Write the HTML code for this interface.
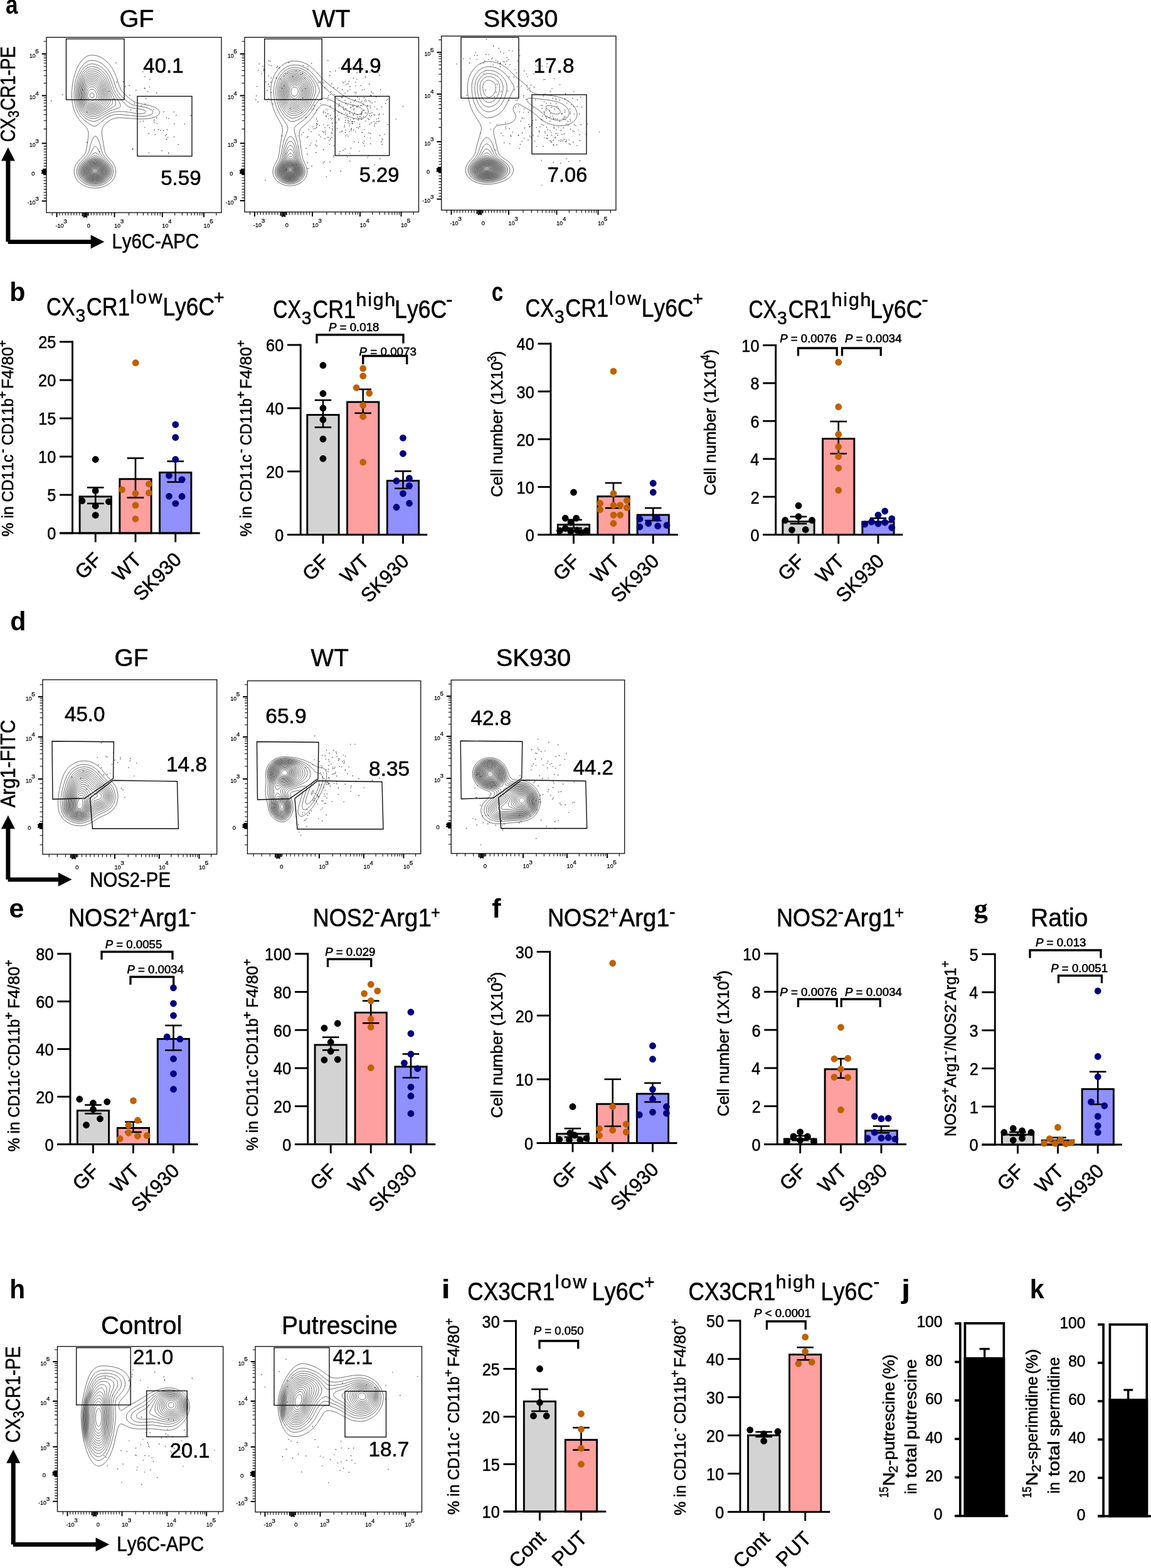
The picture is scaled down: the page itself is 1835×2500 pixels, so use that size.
<!DOCTYPE html>
<html lang="en"><head><meta charset="utf-8"><title>Figure</title>
<style>
html,body{margin:0;padding:0;background:#fff;}
body{width:1835px;height:2500px;overflow:hidden;}
svg{display:block;font-family:"Liberation Sans",sans-serif;font-kerning:none;}
text{white-space:pre;stroke:#000;stroke-width:0.55px;stroke-linejoin:round;}
text.nb{stroke:none;}
text.tl{stroke-width:0.3px;}
</style></head>
<body>
<svg width="1835" height="2500" viewBox="0 0 1835 2500">
<defs><radialGradient id="sh"><stop offset="0" stop-color="#5a5a5a" stop-opacity="1"/><stop offset="0.55" stop-color="#5a5a5a" stop-opacity="0.85"/><stop offset="1" stop-color="#5a5a5a" stop-opacity="0"/></radialGradient></defs>
<rect x="0" y="0" width="1835" height="2500" fill="#fff"/>
<g id="flow-aGF">
<g fill="none" stroke="#686868" stroke-width="0.95" stroke-linejoin="round">
<path d="M157 299.6 150 299.9 143 299.1 136 296.9 130 293.8 125 289.6 121.7 285.5 119.3 280.5 118.1 274.5 118.6 268.5 119.5 265.5 121.5 261.5 125.3 256.5 133.1 248.5 135.2 245.5 136.6 242.5 138.4 234.5 140.6 219.5 141.1 213.5 140.4 208.5 139 205.2 136.2 201.5 128 193.1 124.5 188.5 120.6 181.5 117.8 174.5 115.5 165.5 114.5 156.5 114.5 145.5 115.6 134.5 117.5 124.5 119.7 116.5 122.8 108.5 126.6 101.5 131 95.6 135 91.9 140 89 145 87.8 152 88.3 156 89.3 160 90.9 167 95.3 173 100.9 178.1 107.5 182.6 115.5 185.8 123.5 190.2 137.5 193 143.5 198 149.5 206.9 157.5 212 161.2 217 163.5 222 164.9 238 168.1 247 171.2 250.8 173.5 253 175.5 254.2 177.5 254.5 179.5 253.3 182.5 249.4 185.5 243 187.9 236 189.2 229 189.7 221 189.7 192 187.7 187 187.8 183 188.5 178 190.2 174 192.5 170 195.6 166.2 199.5 164.2 202.5 163 205.4 162.3 211.5 163 218.1 166.7 240.5 168.1 244.5 170 247.9 179.3 258.5 182.4 263.5 184.4 269.5 184.7 275.5 183.5 280.5 181.7 284.5 179 288.3 176 291.3 172 294.3 167 296.9 162 298.6Z M153 200.9 151 201.4 149 201.1 144 198.6 135 192.4 129 186.5 124.9 180.5 121.6 173.5 119.3 165.5 118.1 157.5 118 146.5 119.3 134.5 121.6 124.5 124.9 115.5 129 107.8 134 101.7 139 98 142 96.8 145 96.2 152 96.7 158 98.8 164 102.5 170 108.1 174.7 114.5 177.9 120.5 180.4 126.5 185 140.3 188 146.4 193 152.6 203.6 162.5 208 165.5 213 167.6 231 171 237 172.8 242 175.5 243 176.6 243.8 178.5 243.8 179.5 243 180.9 240 183.1 235 184.7 229 185.4 217 185.2 191 182.3 185 182.4 180 183.3 175 185.1 170 187.9 163.7 192.5 156 198.9Z M154 296.5 148 296.5 142 295.4 137 293.6 132 290.8 127.3 286.5 124.5 282.5 122.7 277.5 122.2 273.5 123.1 267.5 125.5 262.5 128.5 258.5 137.2 249.5 140 245.5 142 240.5 145 228.8 147 222.9 150 217.8 152 216.9 154 218 157 223 159 228.9 161.9 240.5 163.9 245.5 167 250.2 174.5 258.5 177.4 262.5 179.7 267.5 180.6 272.5 180.3 276.5 178.8 281.5 176.3 285.5 173.6 288.5 170 291.3 165 294 159 295.8Z M154 192.7 149 193.5 146 193.1 143 192.2 137 189 132 184.8 127.8 179.5 124.2 172.5 121.6 164.5 120.5 157.5 120.4 147.5 121.4 137.5 123.6 127.5 126.5 119.5 130.3 112.5 135 106.7 140 103.2 145 101.8 151 102.2 157 104.2 163 108 168 112.9 171.4 117.5 174.7 123.5 177.2 129.5 181.7 142.5 184.7 148.5 189 154.4 201 167.4 205 170.3 209 171.8 224 174.1 229 175.3 231.4 176.5 232.4 177.5 232.6 178.5 231.9 179.5 230 180.5 227 181.2 223 181.4 216 180.8 205 178.8 198 177.9 189 177.8 182 178.5 178 179.5 173 181.5 159 190.2Z M159 293.6 154 294.3 148 294.3 142 293.1 137 291.1 132 287.7 128.9 284.5 126.5 280.5 125.1 275.5 125 272.5 125.6 268.5 126.8 265.5 128.5 262.5 131.7 258.5 141.6 248.5 144.4 244.5 149 235.6 151 233.6 152 233.3 153 233.6 155 235.7 159.5 244.5 162.2 248.5 171.4 258.5 174.4 262.5 176.5 266.5 177.8 271.5 177.7 275.5 177.1 278.5 175.3 282.5 173 285.5 170 288.4 167 290.4 163 292.3Z M153 188.6 148 189.2 143 188.3 138 185.9 133 181.9 129 176.9 126.1 171.5 123.7 164.5 122.4 157.5 122.2 148.5 123.2 138.5 125.3 129.5 127.9 122.5 131.7 115.5 136 110.5 140 107.7 145 106.1 151 106.6 157 108.8 162 112.2 167.1 117.5 170.4 122.5 173 127.5 178.8 143.5 181 148.5 190 162.5 192.1 167.5 192 169.6 191.5 170.5 190 171.7 174 177.4 159 186.1Z M155 292.5 150 292.7 145 292.1 140 290.5 136 288.4 132.4 285.5 129.9 282.5 127.9 278.5 127.1 274.5 127.3 270.5 128.1 267.5 129.5 264.5 131.6 261.5 135 257.7 148 245.6 150 244.1 152 243.6 154 244.2 156 245.7 170.7 260.5 174.3 266.5 175.3 269.5 175.7 272.5 175.4 276.5 174.5 279.5 172.9 282.5 170.4 285.5 167 288.2 164 290 159 291.8Z M151 185.6 146 185.8 142 184.8 137 182.1 133 178.5 129.3 173.5 126.9 168.5 125 162.5 123.9 155.5 123.9 147.5 124.8 139.5 126.6 131.5 129.3 124.5 132.7 118.5 136 114.5 140 111.5 143 110.2 145 109.8 151 110.3 156 112.2 161 115.6 166.3 121.5 168.9 125.5 171.3 130.5 177.6 147.5 183.8 160.5 184.7 164.5 183.9 167.5 180.5 170.5 159 182.8 155 184.6Z M158 290.5 153 291.3 148 291.1 143 290 139 288.4 135 285.7 132 282.5 130.2 279.5 129 275.5 128.8 272.5 129.6 268.5 131.4 264.5 133.6 261.5 137.4 257.5 144 252 148 249.2 151 248.1 154 248.4 157 250 166 257.6 169.5 261.5 171.5 264.5 172.9 267.5 173.7 270.5 174 273.5 173.6 276.5 172.6 279.5 170.8 282.5 168 285.5 165.3 287.5 162 289.2Z M152 182.6 147 183.1 143 182.5 139 180.7 135 177.7 131.5 173.5 128.7 168.5 126.6 162.5 125.5 156.5 125.3 149.5 126 141.5 127.5 134.5 130 127.4 133 121.9 137 117.1 141 114.3 145 113.1 148 113.1 151 113.6 156 115.7 161 119.4 165 124.1 167.7 128.5 170.4 134.5 178.5 156.5 179.7 161.5 179.6 163.5 178.9 165.5 177.5 167.5 175.3 169.5 161 178.8 156 181.3Z M156 289.7 152 290.1 147 289.7 143 288.7 139 286.8 135.8 284.5 133.1 281.5 131.4 278.5 130.4 274.5 130.5 271.5 131.6 267.5 133.1 264.5 135.3 261.5 139 257.8 144 254 148 251.6 151 250.8 154 251 157 252.3 161 255 165 258.5 168 261.8 170.4 265.5 171.7 268.5 172.3 271.5 172.4 274.5 171.7 277.5 170.4 280.5 168.1 283.5 165.8 285.5 163 287.3 160 288.6Z M149 180.6 145 180.5 141 179.3 137 176.8 133.7 173.5 130.9 169.5 128.7 164.5 127.3 159.5 126.6 153.5 126.8 146.5 127.8 139.5 129.4 133.5 132 127.3 135 122.6 138 119.4 142 116.9 146 116 151 116.7 156 118.9 160 122.1 163.7 126.5 166.7 131.5 169.2 137.5 174.7 153.5 176 159.5 175.7 162.5 174.4 165.5 172.8 167.5 169.4 170.5 163 175 158 177.9 153 179.8Z M156 288.5 152 288.9 148 288.7 144 287.8 140 286 137 283.9 134.7 281.5 132.9 278.5 132 275.5 131.8 272.5 132.6 268.5 134 265.5 136.1 262.5 139 259.5 143 256.3 147 253.9 150 252.9 153 252.8 156 253.6 159 255.3 163 258.3 166.1 261.5 168.3 264.5 169.9 267.5 170.8 270.5 171 273.5 170.6 276.5 169.4 279.5 168 281.6 166 283.7 163 285.9 160 287.4Z M153 177.5 148 178.4 144 178 140 176.5 137 174.4 134 171.2 131.1 166.5 129.2 161.5 128.2 156.5 127.9 150.5 128.5 143.5 130 136.7 132 131.2 135 125.9 138 122.4 141 120.3 145 118.9 150 119.3 154 120.8 158 123.5 162 128 164.8 132.5 167.5 138.5 171.4 150.5 172.8 156.5 173 159.5 172.4 162.5 171 165.1 169 167.5 165.6 170.5 161 173.8 157 176Z M155 287.6 151 287.9 147 287.5 143 286.3 140 284.7 137.2 282.5 135.5 280.5 133.9 277.5 133.2 274.5 133.2 271.5 134 268.5 135.4 265.5 137.6 262.5 140.6 259.5 144 257 148 255 151 254.3 153 254.4 156 255.2 159 256.7 162.7 259.5 165.5 262.5 167.5 265.5 168.9 268.5 169.6 271.5 169.6 274.5 168.9 277.5 167.9 279.5 166 282.1 164 283.9 161 285.7Z M152 175.6 148 176.2 144 175.9 141 174.8 137.5 172.5 134.7 169.5 132.2 165.5 130.6 161.5 129.4 156.5 129.1 151.5 129.7 144.5 130.9 138.5 133 132.8 135 129.1 138 125.4 141 123 145 121.6 149 121.8 153 123.1 157 125.8 160.4 129.5 163 133.5 165.8 139.5 168.5 147.5 170.2 154.5 170.4 158.5 169.8 161.5 168.3 164.5 166.7 166.5 163.5 169.5 160 172 156 174.2Z M155 286.6 152 286.9 148 286.6 144 285.5 141 284 138 281.7 136.3 279.5 135.2 277.5 134.4 274.5 134.5 271.5 135.2 268.5 138.2 263.5 141 260.6 144 258.3 147 256.7 150 255.8 153 255.7 155 256.2 158 257.5 161 259.5 164 262.4 166.2 265.5 167.7 268.5 168.4 271.5 168.4 274.5 168 276.5 166.5 279.5 165 281.5 161 284.5 158 285.8Z M152 173.5 148 174.1 144 173.8 141 172.7 138 170.6 135.1 167.5 133.3 164.5 131.6 160.5 130.7 156.5 130.4 151.5 130.8 145.5 132.1 139.5 133.9 134.5 136 130.8 139 127.3 142 125.2 145 124.3 148 124.3 152 125.4 156 128 159 131.1 161.9 135.5 164.2 140.5 166.5 147.5 167.9 153.5 168.1 156.5 167.8 159.5 166.7 162.5 165 165 162.6 167.5 159 170.3 155 172.5Z M155 285.6 152 285.9 148 285.6 145 284.8 142.1 283.5 139.4 281.5 137.6 279.5 136.5 277.5 135.6 274.5 135.6 271.5 136.4 268.5 139.6 263.5 142 261.1 145 258.9 150 257 153 257 155 257.4 157.7 258.5 160 260 164.3 264.5 166 267.5 167 270.5 167.3 273.5 167 275.5 165 279.7 163 281.9 160.7 283.5 158 284.8Z M151 171.7 148 172.1 145 172 142 171.1 139 169.2 136.3 166.5 134.4 163.5 132.7 159.5 131.9 155.5 131.7 150.5 132.1 145.5 133.2 140.5 134.7 136.5 137 132.5 139 130.1 142 127.9 145 126.9 148 126.9 152 128.2 155 130.1 158 133.3 160.2 136.5 162.6 141.5 164.6 147.5 165.7 152.5 165.9 155.5 165.6 158.5 164.6 161.5 163 164 160.7 166.5 158 168.6 154.5 170.5Z M155 284.6 149 284.8 144 283.4 139.9 280.5 138.3 278.5 137 275.5 136.7 273.5 137 270.5 138 267.7 139.3 265.5 141.9 262.5 144 260.8 146.1 259.5 149 258.4 152 258 154 258.3 157 259.3 159 260.6 161.2 262.5 163.7 265.5 165.9 270.5 166.2 273.5 165.8 275.5 163.8 279.5 160 282.8Z M151 169.6 148 170.1 145 169.9 142 168.9 139.7 167.5 137.6 165.5 135.5 162.5 134 159 133.2 155.5 132.9 151.5 133.3 146.5 134.2 142.5 135.6 138.5 137.8 134.5 140 132.1 142 130.6 145 129.5 148 129.5 151 130.5 154 132.3 157 135.4 159 138.5 161 142.6 162.6 147.5 163.7 152.5 163.6 157.5 162.6 160.5 161.4 162.5 159.8 164.5 157 166.8 154 168.6Z M155 283.7 150 284 147 283.5 144.4 282.5 140.4 279.5 139 277.5 138.2 275.5 137.9 271.5 138.8 268.5 139.9 266.5 144 262 146.4 260.5 149 259.5 152 259.1 154 259.4 158 261.1 160 262.7 162.5 265.5 164 268.2 164.8 270.5 164.9 274.5 163.2 278.5 160 281.6Z M150 167.7 145 167.8 142 166.7 140 165.4 138 163.4 136.2 160.5 135 157.5 134.4 154.5 134.3 150.5 134.7 146.5 135.7 142.5 136.9 139.5 138.8 136.5 140.6 134.5 143 132.9 145 132.3 147 132.2 150 132.9 152.9 134.5 155 136.5 157 139.1 159 142.9 160.6 147.5 161.5 151.5 161.5 156.5 160.6 159.5 159.5 161.5 157.8 163.5 155.3 165.5 153 166.8Z M155 282.7 150 283.1 145 281.7 141.8 279.5 140.2 277.5 139.3 275.5 139 271.5 139.5 269.5 141 266.7 142.8 264.5 145 262.6 149 260.6 152 260.2 154 260.5 158 262.4 160 264.1 161.9 266.5 163.7 270.5 163.8 274.5 162 278.4 159 281Z M149 165.7 146 165.7 144 165.3 142 164.4 140 162.9 138.1 160.5 137 158.5 135.8 153.5 136.3 146.5 137.2 143.5 138.5 140.5 140 138.3 142 136.5 144 135.4 146 135.1 149 135.5 151 136.4 153 137.9 155 140.2 158 146 159.5 152.5 159 157.3 157 161 155 163 153 164.3Z M155 281.7 150 282.1 146 281.1 142.3 278.5 140.5 275.5 140.1 273.5 140.2 271.5 141.7 267.5 145 263.9 149 261.7 153 261.4 157 263 160.6 266.5 162.5 270.5 162.6 274.5 161.3 277.5 159 279.8Z M151 162.6 147 163.4 143 162.3 140 159.8 137.9 155.5 137.5 152.5 137.6 149.5 139 144.1 141.4 140.5 143 139.2 145 138.4 147 138.3 149 138.7 152 140.7 154.8 144.5 156.7 149.5 157.2 153.5 156.3 157.5 154.2 160.5Z M155 280.7 151 281.2 147 280.4 143.9 278.5 141.8 275.5 141.2 272.5 142.4 268.5 145 265.3 149 262.9 153 262.6 156 263.7 159 266.2 161 269.5 161.6 273.5 160.6 276.5 158 279.2Z M150 159.8 147 160.4 144 159.7 141.3 157.5 139.9 154.5 139.7 150.5 140.7 146.5 142.8 143.5 145 142.3 148 142.3 150 143.3 152 145.5 153.9 149.5 154.4 152.5 154 155.5 152 158.5Z M155 279.6 152 280.2 148 279.6 145 278 143.1 275.5 142.5 272.5 143.2 269.5 145.3 266.5 148 264.6 150 263.9 152 263.7 155 264.5 157.7 266.5 159.8 269.5 160.4 272.5 159.7 275.5 158 277.8Z M148 155.8 147 155.9 145 155.4 144 154.6 143.5 153.5 143.3 151.5 143.9 149.5 145 148.4 146 148 147 147.9 148.3 148.5 149.2 149.5 150.1 151.5 150 153.7 149 155.2Z M154 278.7 151 279.1 148 278.4 145.3 276.5 144.1 274.5 143.8 272.5 144.6 269.5 146 267.5 149 265.5 152 265 155 265.9 157 267.5 158.8 270.5 159 273.5 158.3 275.5 156.4 277.5Z M153 277.6 150 277.7 148 276.9 146.3 275.5 145.4 273.5 145.4 271.5 146.2 269.5 148 267.7 150 266.7 152 266.5 154.8 267.5 156.7 269.5 157.5 271.5 157.5 273.5 156.5 275.5 155 276.8Z M153 275.9 151 276.1 149 275.5 147.3 273.5 147.1 272.5 147.7 270.5 150 268.6 153 268.6 155.2 270.5 155.7 272.5 155.5 273.5 155 274.5Z"/>
</g>
<ellipse cx="151.4" cy="273.4" rx="31.25" ry="23.75" transform="rotate(0 151.4 273.4)" fill="url(#sh)" opacity="0.49"/>
<path d="M293.7 197.8h1.15 M237.9 138.7h1.15 M249.8 197h1.15 M236.6 212.9h1.15 M260.5 178.4h1.15 M227.8 193.1h1.15 M267.2 219h1.15 M217.4 177h1.15 M268.4 244.4h1.15 M249.2 187.9h1.15 M277.4 197.3h1.15 M268.1 243.7h1.15 M265.8 206.8h1.15 M268.3 188.9h1.15 M245.5 190.7h1.15 M244.9 192.8h1.15 M245.4 195.5h1.15 M252.2 206.6h1.15 M257.4 240.1h1.15 M211.3 237.4h1.15 M244.1 174.2h1.15 M245.7 207.3h1.15 M276.7 178.5h1.15 M255.4 207.9h1.15 M207.9 175.4h1.15 M265 222.4h1.15 M277.2 218.3h1.15 M259.9 208.1h1.15 M280.2 183.9h1.15 M246.5 214.6h1.15 M210.6 237.8h1.15 M230.2 203.2h1.15 M303.9 184.3h1.15 M236.8 244h1.15 M223 194.2h1.15 M262.9 216.4h1.15 M264.8 214.3h1.15 M283.6 230.4h1.15 M264.9 187.9h1.15 M232.2 157.3h1.15 M227.4 114.5h1.15 M230.8 165.8h1.15 M195.9 130.4h1.15 M206.4 151.6h1.15 M199.5 138.2h1.15 M205.6 136.5h1.15 M238.2 126.5h1.15 M216.3 143.8h1.15 M230.5 122.3h1.15 M235.1 146.1h1.15 M230.7 141h1.15 M185.5 130.9h1.15 M229.7 140.5h1.15 M214.1 165.1h1.15 M249.1 148.1h1.15 M138.2 178.9h1.15 M173.2 145.5h1.15 M180.7 157.5h1.15 M81.1 160.9h1.15 M158.4 241.6h1.15 M99.2 150.8h1.15 M130.9 143.4h1.15 M224.7 168.9h1.15 M129.1 157.7h1.15 M184.5 100.3h1.15 M138.1 227.1h1.15" stroke="#111" stroke-width="1.15" fill="none"/>
<rect x="74" y="59.5" width="279" height="279.5" fill="none" stroke="#0a0a0a" stroke-width="1.3"/>
<rect x="105.5" y="62" width="92.5" height="97" fill="none" stroke="#0a0a0a" stroke-width="1.35"/>
<rect x="219" y="153.5" width="87" height="95.5" fill="none" stroke="#0a0a0a" stroke-width="1.35"/>
<path d="M74 315.9h-4.4 M74 311.2h-4.4 M74 306.6h-4.4 M74 301.9h-4.4 M74 297.2h-4.4 M74 292.6h-4.4 M74 287.9h-4.4 M74 283.3h-4.4 M74 278.6h-4.4 M74 269.4h-4.4 M74 264.9h-4.4 M74 260.4h-4.4 M74 255.8h-4.4 M74 251.2h-4.4 M74 246.7h-4.4 M74 242.2h-4.4 M74 237.6h-4.4 M74 233.1h-4.4 M74 205.6h-4.4 M74 192.2h-4.4 M74 182.7h-4.4 M74 175.4h-4.4 M74 169.4h-4.4 M74 164.3h-4.4 M74 159.9h-4.4 M74 156h-4.4 M74 132.5h-4.4 M74 120.8h-4.4 M74 112.5h-4.4 M74 106h-4.4 M74 100.8h-4.4 M74 96.3h-4.4 M74 92.4h-4.4 M74 89h-4.4 M74 66h-4.4 M95 339v4.4 M99.6 339v4.4 M104.2 339v4.4 M108.7 339v4.4 M113.2 339v4.4 M117.8 339v4.4 M122.3 339v4.4 M126.9 339v4.4 M131.4 339v4.4 M83.2 339v4.4 M140.7 339v4.4 M145.3 339v4.4 M149.9 339v4.4 M154.6 339v4.4 M159.2 339v4.4 M163.9 339v4.4 M168.6 339v4.4 M173.2 339v4.4 M177.8 339v4.4 M205.5 339v4.4 M218.9 339v4.4 M228.4 339v4.4 M235.8 339v4.4 M241.8 339v4.4 M246.9 339v4.4 M251.4 339v4.4 M255.3 339v4.4 M278.7 339v4.4 M290.4 339v4.4 M298.6 339v4.4 M305.1 339v4.4 M310.3 339v4.4 M314.7 339v4.4 M318.6 339v4.4 M322 339v4.4 M344.9 339v4.4" stroke="#0a0a0a" stroke-width="1.1" fill="none"/>
<path d="M74 320.5h-7.3 M74 274h-7.3 M74 228.5h-7.3 M74 152.5h-7.3 M74 86h-7.3 M90.5 339v7.3 M136 339v7.3 M182.5 339v7.3 M258.8 339v7.3 M325 339v7.3" stroke="#000" stroke-width="1.9" fill="none"/>
<path d="M74 270h-6 M74 272h-8 M74 274h-7 M74 276h-8 M74 278h-5" stroke="#000" stroke-width="1.9" fill="none"/>
<path d="M131.5 339v6 M133.8 339v8 M136 339v7 M138.2 339v8 M140.5 339v5" stroke="#000" stroke-width="1.9" fill="none"/>
<text class="tl" transform="translate(43.5,326.1) scale(0.9387,1)" font-size="9.7" fill="#151515"><tspan x="0" y="0">-10</tspan></text>
<text class="tl" transform="translate(56.31,319.8) scale(1.0437,1)" font-size="9.7" fill="#151515"><tspan x="0" y="0">3</tspan></text>
<text class="tl" transform="translate(50.13,279.6) scale(0.9705,1)" font-size="9.7" fill="#151515"><tspan x="0" y="0">0</tspan></text>
<text class="tl" transform="translate(46.94,234.1) scale(0.8995,1)" font-size="9.7" fill="#151515"><tspan x="0" y="0">10</tspan></text>
<text class="tl" transform="translate(56.31,227.8) scale(1.0437,1)" font-size="9.7" fill="#151515"><tspan x="0" y="0">3</tspan></text>
<text class="tl" transform="translate(46.94,158.1) scale(0.8995,1)" font-size="9.7" fill="#151515"><tspan x="0" y="0">10</tspan></text>
<text class="tl" transform="translate(56.48,151.8) scale(0.9820,1)" font-size="9.7" fill="#151515"><tspan x="0" y="0">4</tspan></text>
<text class="tl" transform="translate(46.94,91.6) scale(0.8995,1)" font-size="9.7" fill="#151515"><tspan x="0" y="0">10</tspan></text>
<text class="tl" transform="translate(56.29,85.3) scale(1.0437,1)" font-size="9.7" fill="#151515"><tspan x="0" y="0">5</tspan></text>
<text class="tl" transform="translate(88.4,362.6) scale(0.9387,1)" font-size="9.7" fill="#151515"><tspan x="0" y="0">-10</tspan></text>
<text class="tl" transform="translate(101.21,356.3) scale(1.0437,1)" font-size="9.7" fill="#151515"><tspan x="0" y="0">3</tspan></text>
<text class="tl" transform="translate(138.63,362.6) scale(0.9705,1)" font-size="9.7" fill="#151515"><tspan x="0" y="0">0</tspan></text>
<text class="tl" transform="translate(182.34,362.6) scale(0.8995,1)" font-size="9.7" fill="#151515"><tspan x="0" y="0">10</tspan></text>
<text class="tl" transform="translate(191.71,356.3) scale(1.0437,1)" font-size="9.7" fill="#151515"><tspan x="0" y="0">3</tspan></text>
<text class="tl" transform="translate(258.59,362.6) scale(0.8995,1)" font-size="9.7" fill="#151515"><tspan x="0" y="0">10</tspan></text>
<text class="tl" transform="translate(268.13,356.3) scale(0.9820,1)" font-size="9.7" fill="#151515"><tspan x="0" y="0">4</tspan></text>
<text class="tl" transform="translate(324.84,362.6) scale(0.8995,1)" font-size="9.7" fill="#151515"><tspan x="0" y="0">10</tspan></text>
<text class="tl" transform="translate(334.19,356.3) scale(1.0437,1)" font-size="9.7" fill="#151515"><tspan x="0" y="0">5</tspan></text>
<text transform="translate(228.24,116.2) scale(1.0146,1)" font-size="32.6" fill="#000"><tspan x="0" y="0">40.1</tspan></text>
<text transform="translate(256.18,294.8) scale(1.0149,1)" font-size="32.6" fill="#000"><tspan x="0" y="0">5.59</tspan></text>
<text transform="translate(190.51,43) scale(1.0068,1)" font-size="39.4" fill="#000"><tspan x="0" y="0">GF</tspan></text>
</g>
<g id="flow-aWT">
<g fill="none" stroke="#686868" stroke-width="0.95" stroke-linejoin="round">
<path d="M469 295.6 464 296.2 458 296 453 294.9 448 293 443 289.8 439.7 286.5 437 282.5 435.5 278.5 434.9 273.5 435.6 268.5 437.6 263.5 442.9 253.5 444.4 248.5 446.8 231.5 450.1 213.5 450.5 206.5 450 202.5 448.6 198.5 439.7 182.5 435.3 171.5 433.5 164.5 432.4 158.5 431.5 145.5 432.3 135.5 434.5 126.5 438.5 117.5 443 110.7 449 104.6 455 100.7 462 98 466 97.3 470 97.1 476 97.7 482 99.2 488 101.7 493 104.7 501 111.3 515 126.8 522.7 133.5 544.8 150.5 550.8 154.5 559.5 158.5 575 163.6 580.5 166.5 583 168.5 585.4 171.5 586.8 174.5 587.2 177.5 586.8 180.5 586.1 182.5 584 185.4 582 187.1 577 189.3 574 189.8 570 189.8 562 188 547 181.9 539 177.9 526 170.2 520 167.6 517 167 514 167.2 512 168 509.9 169.5 507 173 500.4 183.5 496.7 188.5 491 194.6 481 203.3 479 205.9 477.8 208.5 477.1 212.5 477.3 217.5 481.5 248.5 483.1 254.5 488.6 266.5 489.6 271.5 489.6 275.5 488.8 279.5 487.6 282.5 485.7 285.5 483.1 288.5 480 291 477 292.8 474 294.1Z M469 292.6 464 293.3 459 293.2 454 292.1 450 290.6 446 288.1 443 285.3 440.4 281.5 438.9 277.5 438.4 273.5 439.2 268.5 440.6 264.5 445.1 256.5 447.1 251.5 451.5 228.5 454 219.8 458.2 208.5 458.8 204.5 458.3 201.5 457 198.5 446.2 182.5 441.3 172.5 439.3 166.5 437.6 159.5 436.7 152.5 436.4 145.5 437 137.5 438.9 129.5 441.8 122.5 446.2 115.5 451 110.5 457 106.5 463 104.2 470 103.5 476 104.1 482 105.8 488 108.7 493 112.1 500.6 119.5 512 133.8 516 138.3 539 159 544 161.9 549 163.8 557 166.1 568 168.7 572.8 170.5 575 171.9 576.7 173.5 577.7 175.5 578 177.5 577.3 179.5 576.5 180.5 574 182 571 182.5 567 182 562 180.3 552.4 175.5 545.8 171.5 534 162.9 524 158.2 519 156.8 515 156.6 511 157.9 508 160.2 505 164 496.3 178.5 492 184.1 486 189.9 472.8 199.5 470.3 202.5 469.4 204.5 469 206.5 469.3 209.5 474.6 228.5 478.5 250.5 480.1 255.5 484.8 265.5 485.9 269.5 486.2 273.5 486 276.5 485.1 279.5 483.7 282.5 481.4 285.5 479 287.8 476 289.8 473 291.3Z M468 193.7 464 193.7 462 192.9 459 191 453 185 447.8 177.5 444.3 170.5 441.5 161.5 440.1 153.5 439.7 144.5 440.5 136.5 442.4 129.5 445.2 123.5 449.3 117.5 454 113 459 110 465 108 471 107.7 477 108.5 483 110.6 489 114.1 494 118.3 499.5 124.5 504.8 132.5 508.2 139.5 509.3 144.5 508.8 147.5 507.4 150.5 496 171.5 490.3 179.5 486 183.9 481 187.7 474 191.6Z M469 290.5 464 291.4 459 291.2 454 290.1 450 288.3 446.2 285.5 443.6 282.5 441.6 278.5 440.8 274.5 441 270.5 442.1 266.5 447.9 255.5 449.5 251.5 453.1 234.5 455.6 226.5 459 220.2 461 218.3 463 217.5 465 218.1 467 219.9 469 223.2 470.5 226.5 473 234.9 476.4 251.5 478 256 482.5 265.5 483.9 271.5 483.9 274.5 483.4 277.5 482.2 280.5 480.3 283.5 478 285.9 475 288Z M472 187.6 467 188.4 464 188 462 187.3 457 183.9 452.1 178.5 448.4 172.5 445.4 165.5 443.3 157.5 442.3 148.5 442.4 141.5 443.6 134.5 445.7 128.5 449 122.6 453 117.8 458 114 463 111.9 468 111 474 111.2 480 112.8 486 115.9 490.7 119.5 495.4 124.5 499.4 130.5 502.2 136.5 503.5 142.5 503 147.5 500.6 154.5 495.7 165.5 491.6 172.5 487.6 177.5 483 181.8 478 185.1Z M466 289.6 461 289.9 457 289.3 453 288 450 286.4 446.6 283.5 444.4 280.5 443.1 277.5 442.5 273.5 443 269.5 444.3 265.5 449.8 255.5 451.5 251.5 455 237.3 457 231.6 460 226.7 461 225.9 463 225.2 465 225.8 466 226.7 468 229.5 469.4 232.5 471.3 238.5 474.4 251.5 475.9 255.5 480.8 265.5 481.7 268.5 482.2 272.5 482 275.5 481.2 278.5 479.6 281.5 478 283.5 475.8 285.5 473 287.3 469 289Z M473 183.5 468 184.4 464 183.9 459 181.3 454.9 177.5 450.7 171.5 447.5 164.5 445.6 157.5 444.5 149.5 444.5 142.5 445.4 136.5 447.3 130.5 450 125.4 453.9 120.5 458 117.1 463 114.7 468 113.7 473 113.9 478 115 483 117.2 488 120.7 492.7 125.5 496.1 130.5 498.7 136.5 499.7 141.5 499.6 146.5 497.8 153.5 494.7 161.5 491 168.5 487.4 173.5 483 177.9 478 181.4Z M464 288.6 461 288.6 457 288 453 286.5 450 284.7 447.6 282.5 445.6 279.5 444.4 276.5 444 273.5 444.2 270.5 445.3 266.5 452.9 252.5 458 236.7 460 233.4 461 232.4 463 231.6 465 232.4 466 233.3 468 236.7 472.9 252.5 479.4 265.5 480.5 269.5 480.8 272.5 480.5 275.5 479.6 278.5 478 281.3 476 283.5 474 285.2 471 286.8 468 287.9Z M472 180.6 467 181.1 463 180.1 459 177.7 455 173.7 451.6 168.5 449 162.5 447.2 155.5 446.3 148.5 446.4 142.5 447.4 136.5 449.1 131.5 451.8 126.5 455 122.5 459 119.2 463 117.3 468 116.2 473 116.4 478 117.6 483 120 487 123 491 127.3 493.7 131.5 495.9 136.5 496.9 141.5 496.7 146.5 495.2 153.5 492.6 160.5 489 167.2 485 172.4 481 176.1 477 178.7Z M463 287.5 459 287.3 456 286.5 453 285.2 450.5 283.5 448.4 281.5 446.5 278.5 445.6 275.5 445.3 272.5 445.7 269.5 447 265.5 454.2 253.5 459 241.6 461 238.7 463 237.7 465 238.7 467 241.6 471.7 253.5 477.7 264.5 479 268.5 479.5 272.5 479.2 275.5 478.2 278.5 475 282.8 472.8 284.5 470 286 467 287Z M472 177.7 468 178.1 464 177.4 460 175.2 456 171.3 453 166.7 450.7 161.5 449 155.5 448.1 148.5 448.2 142.5 449 137.5 450.6 132.5 453 128.1 456 124.4 460 121.1 464 119.3 468 118.5 473 118.6 478 120 482 122 486 125.1 489.8 129.5 492.2 133.5 493.7 137.5 494.5 142.5 494 148.5 492.6 154.5 490.2 160.5 487.5 165.5 484 170.1 480.3 173.5 476 176.2Z M468 285.6 465 286.3 461 286.4 457 285.7 454 284.5 451 282.5 449.1 280.5 447.4 277.5 446.6 274.5 446.9 269.5 448.7 264.5 455.2 254.5 460 246.2 462 244.2 463 243.9 464 244.2 466 246.2 470.6 254.5 475.6 262.5 477.3 266.5 478.2 270.5 478 275.5 476.3 279.5 473 283Z M473 174.7 469 175.4 465 175 461 173 458 170.3 455 166.3 452.6 161.5 450.8 155.5 449.8 149.5 449.7 144.5 450.3 139.5 451.7 134.5 454 129.9 457 126.1 460 123.5 464 121.5 468 120.6 472 120.6 476 121.5 480 123.2 484 126.1 487.3 129.5 489.8 133.5 491.4 137.5 492.2 141.5 492.2 146.5 491.3 151.5 489.4 157.5 486.9 162.5 484.2 166.5 481 170 477 172.9Z M463 285.5 460 285.4 457 284.7 454.2 283.5 452 282 450 279.9 448.6 277.5 447.9 275.5 447.6 272.5 448.5 267.5 451 262.5 460 250.8 462 249.3 463 249.1 465 249.9 467 252 474.4 262.5 476.6 267.5 477.3 272.5 476.8 275.5 476.1 277.5 473.2 281.5 469 284.2 466 285.1Z M471 172.6 467 172.8 464 171.9 461 170.1 458 167.2 455.5 163.5 453.3 158.5 452 153.5 451.3 147.5 451.4 142.5 452.1 138.5 453.9 133.5 456 130 459 126.7 462 124.5 465 123.2 469 122.6 473 122.8 477 124 481 126.2 483.7 128.5 486.3 131.5 488.5 135.5 489.8 139.5 490.3 143.5 489.9 148.5 488.8 153.5 486.9 158.5 484.6 162.5 481.5 166.5 478.1 169.5 475 171.3Z M464 284.5 461 284.6 458 284 455 282.8 453 281.5 451 279.5 449.7 277.5 449 275.5 448.6 272.5 449.5 267.5 452.1 262.5 459 254.6 461 253.1 463 252.6 465 253.2 467 254.7 473 262 475.3 266.5 476.3 271.5 475.4 276.5 473 280.3 469 283.2Z M473 169.6 469 170.4 466 170.1 463 168.8 460 166.4 457.7 163.5 455.5 159.5 453.9 154.5 453 149.5 452.8 144.5 453.3 140.5 454.4 136.5 456.4 132.5 459 129.2 462 126.7 465 125.3 468 124.6 472 124.7 475 125.4 479 127.2 481.9 129.5 484.6 132.5 486.4 135.5 487.5 138.5 488.3 142.5 488.3 146.5 487.4 151.5 486.1 155.5 484.2 159.5 482 162.8 479 166.1 476 168.3Z M464 283.6 459 283.4 456 282.3 454 281.1 452.3 279.5 450.9 277.5 450 275.5 449.6 272.5 450.5 267.5 453.1 262.5 456 259.2 459 256.5 461 255.3 463 254.9 465 255.4 467 256.7 472 262.1 474.3 266.5 475.3 271.5 474.7 275.5 472.4 279.5 469 282.1Z M471 167.7 468 167.9 465 167.2 462.1 165.5 460 163.4 458 160.5 456.2 156.5 455.1 152.5 454.4 147.5 454.4 143.5 455.1 139.5 456.2 136.5 458 133.1 460.2 130.5 463 128.3 466 127 469 126.5 472 126.7 475.1 127.5 478 128.9 481 131.3 483 133.6 484.7 136.5 485.8 139.5 486.5 143.5 486.3 147.5 485.5 151.5 484.1 155.5 482 159.5 479.7 162.5 477 165 474 166.8Z M465 282.6 460 282.7 457 281.8 455 280.7 452 277.5 450.6 273.5 451.1 268.5 453.5 263.5 458 258.8 460 257.5 462 256.8 464 256.8 466 257.7 470 261 473 265.5 474.3 270.5 474 274.5 472 278.5 469 281.1Z M473 164.6 470 165.4 467 165.3 464 164.1 462 162.5 460 160.1 458 156.5 456.2 149.5 456.1 142.5 457.1 138.5 458.5 135.5 460.7 132.5 463 130.6 465 129.5 468 128.6 471 128.6 474 129.2 476.8 130.5 479 132.1 481 134.2 482.6 136.5 483.8 139.5 484.5 142.5 484.6 145.5 484.1 149.5 482 155.6 480 158.9 478 161.3 476 163Z M465 281.7 460 281.8 456 280.2 453.1 277.5 452.1 275.5 451.6 273.5 451.5 271.5 452 268.5 454 264.2 458 260.1 460 258.9 462 258.3 465 258.6 469 261.3 472 265.4 473.3 269.5 473.3 273.5 471.6 277.5 469 280Z M471 162.7 468 162.9 466 162.4 464 161.3 462 159.4 460.1 156.5 459 154.1 457.6 147.5 458 141.4 459 138.4 460.6 135.5 464 132.2 466 131.2 469 130.6 472 130.9 474 131.4 478 133.9 480 136.2 481.3 138.5 482.6 143.5 482.1 149.5 479.8 155.5 478 158.1 476 160.1 474 161.5Z M466 280.5 462 281.1 458 280.3 455 278.3 453.6 276.5 452.7 274.5 452.5 270.5 453 268.2 454.2 265.5 457 262.1 461 259.8 464 259.6 466 260.3 468 261.6 470.5 264.5 472.2 268.5 472.5 272.5 471.7 275.5 469.5 278.5Z M472 159.7 468 160.1 466 159.5 464 158.2 462.5 156.5 461 153.9 459.5 148.5 459.4 143.5 461 138.5 464 134.8 466 133.6 468 133 472 133.2 476 135.1 479 138.5 480.4 142.5 480.5 147.5 479 152.5 476 157 474 158.6Z M466 279.6 462 280.3 458.5 279.5 455.6 277.5 453.7 274.5 453.4 270.5 454.6 266.5 457 263.2 459 261.7 461 260.9 464 260.8 467 262 469.5 264.5 471.3 268.5 471.6 272.5 470.6 275.5 469 277.7Z M472 156.5 470 157.1 468 157 465 155.5 462.8 152.5 461.5 148.5 461.3 144.5 462.4 140.5 463.5 138.5 465 137 468 135.6 470 135.4 472 135.8 475 137.5 477 139.9 478.2 143.5 478.1 147.5 476.8 151.5 474.8 154.5Z M466 278.6 463 279.3 459 278.7 456 276.5 454.5 273.5 454.3 270.5 455.6 266.5 458 263.6 461 261.9 464 261.8 467 263.2 469.1 265.5 470.4 268.5 470.7 271.5 470 274.5 468.8 276.5Z M471 153 469 153.4 466.7 152.5 465 150.5 463.9 147.5 463.8 144.5 464.8 141.5 466.6 139.5 469 138.6 471 138.8 473 139.8 474.5 141.5 475.5 144.5 475.2 147.5 474.5 149.5 473 151.6Z M465 277.9 462 278.4 459 277.6 457 276.1 455.6 273.5 455.3 270.5 456.2 267.5 458 264.9 461 263 464 262.9 466 263.7 468 265.6 469.4 268.5 469.7 271.5 468.9 274.5 467.4 276.5Z M465 276.7 462 277.3 460 276.8 458 275.5 456.7 273.5 456.4 270.5 457 268.2 458.9 265.5 461 264.2 463 263.9 465.1 264.5 467 266.1 468.3 268.5 468.6 271.5 468.2 273.5 466.8 275.5Z M464 275.8 462 276 460 275.5 458.8 274.5 457.7 272.5 457.8 269.5 458.7 267.5 460 266.1 462 265.2 464 265.4 465 265.9 466.5 267.5 467.3 269.5 467.4 271.5 466.8 273.5 466 274.6Z M464 274.1 462 274.5 461 274.2 460 273.5 459.1 271.5 459.8 268.5 461 267.3 462 266.9 464 267.2 465 268 465.8 269.5 465.9 271.5 465.6 272.5Z"/>
</g>
<ellipse cx="462.3" cy="274.2" rx="27.5" ry="21.25" transform="rotate(0 462.3 274.2)" fill="url(#sh)" opacity="0.57"/>
<path d="M585.4 168h1.15 M580.3 142.5h1.15 M591.6 146.6h1.15 M575.1 182h1.15 M557.2 256.8h1.15 M561.8 196.8h1.15 M599.1 154.6h1.15 M604.5 181.9h1.15 M597.3 162.2h1.15 M552.4 215.2h1.15 M586 188.5h1.15 M589.1 198.2h1.15 M549.6 129.7h1.15 M538 140.3h1.15 M526.2 168.8h1.15 M563.4 184h1.15 M579.7 175.4h1.15 M569.4 186.8h1.15 M553.1 167.2h1.15 M575.8 168.1h1.15 M562.4 182.4h1.15 M604.4 193h1.15 M567.6 170.4h1.15 M572.5 241h1.15 M505.8 198.4h1.15 M580.1 206.7h1.15 M549.7 237.9h1.15 M597 183.7h1.15 M578.5 167.1h1.15 M576.1 181.4h1.15 M595.8 193.9h1.15 M573.2 201.9h1.15 M587.2 190.6h1.15 M541.4 210.7h1.15 M549.3 159.8h1.15 M572.7 197.8h1.15 M606 142.8h1.15 M607.4 225.9h1.15 M564.8 180h1.15 M562.4 169.9h1.15 M545.5 142.8h1.15 M570.6 191.4h1.15 M615.2 160h1.15 M529 188.7h1.15 M564.7 193.9h1.15 M566.2 153.5h1.15 M559.8 205.1h1.15 M581 160.8h1.15 M594.2 148.8h1.15 M563.2 189.9h1.15 M545 155.1h1.15 M575.4 183h1.15 M569.5 170.9h1.15 M550.7 165.4h1.15 M641.9 169.3h1.15 M608.1 170.3h1.15 M605 215.8h1.15 M584.9 169h1.15 M544.7 209.1h1.15 M546.8 153.1h1.15 M608.5 221.5h1.15 M575.8 178.8h1.15 M560.4 193.8h1.15 M564.4 147.2h1.15 M558.2 191.2h1.15 M540 160.5h1.15 M577.7 227.2h1.15 M578.9 185.8h1.15 M617.5 158.4h1.15 M558.9 206.1h1.15 M598.7 196.4h1.15 M517.4 203.5h1.15 M589.7 186.2h1.15 M589.7 220.2h1.15 M576.1 161.6h1.15 M534.5 186.6h1.15 M559.3 171h1.15 M550.1 191.9h1.15 M591.2 195.9h1.15 M550.4 207.2h1.15 M581.9 122.8h1.15 M588.1 134.1h1.15 M550 211.4h1.15 M589.4 168.9h1.15 M555.6 193.6h1.15 M535.5 195.3h1.15 M568.6 203.4h1.15 M572.2 157.8h1.15 M579.4 176.3h1.15 M543.7 155.9h1.15 M552.9 186.3h1.15 M591.8 184.3h1.15 M548.5 175.5h1.15 M587.5 211.9h1.15 M554.3 192.1h1.15 M566.4 131.1h1.15 M546.5 170.8h1.15 M563.6 175.1h1.15 M561.7 194.2h1.15 M553.9 145.1h1.15 M586.2 169.5h1.15 M592.4 164.1h1.15 M603.8 154h1.15 M548.5 202.4h1.15 M614.1 165.1h1.15 M609.5 223h1.15 M592.4 179.6h1.15 M527 145.8h1.15 M557.2 197.5h1.15 M570.7 168.4h1.15 M576.8 143.5h1.15 M583.4 161.1h1.15 M602.9 188.8h1.15 M558.2 171.6h1.15 M539.6 189.1h1.15 M552.8 182.1h1.15 M600.1 193.5h1.15 M585.5 251h1.15 M590.2 212.8h1.15 M569.3 155.1h1.15 M579.9 155.9h1.15 M508.6 199.8h1.15 M582.3 158.2h1.15 M603.4 182.9h1.15 M564.5 160.9h1.15 M600.4 173.9h1.15 M563.8 173.1h1.15 M557.6 142.7h1.15 M558.7 162.8h1.15 M590.3 152.1h1.15 M590 171.9h1.15 M557 180.6h1.15 M575.7 187.5h1.15 M587.7 190.3h1.15 M540.8 167.7h1.15 M610.7 182h1.15 M523.3 189.2h1.15 M612.4 214.2h1.15 M576.2 190.4h1.15 M589.2 181h1.15 M564.2 225.8h1.15 M566.2 210.2h1.15 M540.3 165.3h1.15 M549.6 195.3h1.15 M561.1 168.7h1.15 M554.6 188.6h1.15 M596.5 170h1.15 M588.4 184.5h1.15 M561.3 193.7h1.15 M604.4 119.9h1.15 M590.3 229.1h1.15 M571.2 204.1h1.15 M596.5 197.9h1.15 M580.5 217.6h1.15 M599.6 189.7h1.15 M589.6 162.4h1.15 M571.5 188.3h1.15 M574 168.3h1.15 M602.8 193.8h1.15 M591.2 152.5h1.15 M563.8 167.7h1.15 M571 227.1h1.15 M630.7 190h1.15 M583.3 180.2h1.15 M563.2 207.3h1.15 M566.1 159.1h1.15 M589.1 181.1h1.15 M582.3 193h1.15 M596.6 200.9h1.15 M595.5 182.9h1.15 M517.8 209h1.15 M527.7 211.6h1.15 M531.2 248.3h1.15 M515.5 211.3h1.15 M524.7 230.2h1.15 M499.6 173.5h1.15 M554.4 217.2h1.15 M526 183.9h1.15 M556.1 210h1.15 M504 189.8h1.15 M502.3 231.1h1.15 M515.3 177.6h1.15 M503.8 224.7h1.15 M537.3 184.5h1.15 M487.5 187.3h1.15 M527.8 191h1.15 M504 200.5h1.15 M503.9 175.7h1.15 M480.5 179.3h1.15 M499.8 205.5h1.15 M522.2 181.6h1.15 M550.7 173.3h1.15 M546.9 174.3h1.15 M510.6 218.2h1.15 M544.2 181.2h1.15 M522 175.2h1.15 M514.2 209.3h1.15 M504.5 232.6h1.15 M533.9 215h1.15 M504.2 197.1h1.15 M528.4 219.1h1.15 M539.8 191.1h1.15 M496.5 173.9h1.15 M579.9 225h1.15 M560.7 196.8h1.15 M576.8 211.3h1.15 M526.7 188.4h1.15 M480.5 215h1.15 M522.1 199.9h1.15 M482.2 156h1.15 M488.9 219.5h1.15 M573.3 185.6h1.15 M510.8 165.5h1.15 M491.7 207h1.15 M498.3 202.2h1.15 M554.5 195.9h1.15 M487.5 236.6h1.15 M537 204.5h1.15 M528.8 195.2h1.15 M539.4 169.4h1.15 M519.4 174h1.15 M518 214.1h1.15 M515.2 238.6h1.15 M519.1 184.8h1.15 M529 205.3h1.15 M529.5 201.2h1.15 M517.5 220.8h1.15 M474.6 216.7h1.15 M504.1 197.8h1.15 M495.3 228h1.15 M462.4 173h1.15 M508.2 215.1h1.15 M483.1 211.5h1.15 M550.5 180.2h1.15 M448.4 216.6h1.15 M515.2 198h1.15 M550.1 216.7h1.15 M504.1 203.3h1.15 M495.3 209.8h1.15 M518 211.2h1.15 M502 204.8h1.15 M529.3 212.5h1.15 M522.3 155.4h1.15 M534.2 173.9h1.15 M548.6 199.6h1.15 M519.9 185.7h1.15 M569.1 182.9h1.15 M558.9 236.1h1.15 M608.7 230.4h1.15 M517.8 179.9h1.15 M500 167.9h1.15 M559.3 208.3h1.15 M490.2 217.6h1.15 M524.1 223.9h1.15 M531.6 177.2h1.15 M526.2 221.4h1.15 M524.8 203.6h1.15 M486.9 187.2h1.15 M523.3 219h1.15 M505.4 193.1h1.15 M581.6 180h1.15 M514.9 179.9h1.15 M521.3 219h1.15 M544.4 210h1.15 M556.6 200.7h1.15 M539.5 178.8h1.15 M549.7 187.1h1.15 M557.1 177.7h1.15 M529.7 207.2h1.15 M529.1 197.3h1.15 M449.2 140.7h1.15 M416.5 117.7h1.15 M445.2 108.1h1.15 M452.3 121.4h1.15 M408.2 152.9h1.15 M430.4 97.8h1.15 M432.3 147.3h1.15 M439.6 124.3h1.15 M410.8 162.3h1.15 M431.1 131.1h1.15 M411.3 112.1h1.15 M431.6 124.4h1.15 M431.7 104.6h1.15 M409.2 137.8h1.15 M427.9 156.9h1.15 M446 125.7h1.15 M425.5 162.2h1.15 M440.9 107.6h1.15 M452.4 136.7h1.15 M428.1 96.8h1.15 M425.6 144.1h1.15 M434.5 165.6h1.15 M441.8 105.6h1.15 M427.5 121.1h1.15 M421.2 111.7h1.15 M418.6 105.9h1.15 M428.8 138.4h1.15 M444.6 108.4h1.15 M427.7 134.4h1.15 M423.2 130.6h1.15 M419.9 110.2h1.15 M412.6 101.8h1.15 M407.3 158.8h1.15 M490.2 110.4h1.15 M466.1 121.9h1.15 M483 104.3h1.15 M471.5 112.7h1.15 M477.1 112.5h1.15 M428.1 103.7h1.15 M419.8 112.5h1.15 M459.8 99.8h1.15 M525.1 120.3h1.15 M457.7 116.7h1.15 M454.7 117.7h1.15 M490.4 106.1h1.15 M485.3 124.7h1.15 M496.1 100.9h1.15 M481.9 116.8h1.15 M549.3 148.2h1.15 M522.3 96.4h1.15 M589.4 114.8h1.15 M539.9 108.4h1.15 M568.4 115.8h1.15 M547.4 131.8h1.15 M587.8 160.6h1.15 M567 147.4h1.15 M551.3 135.1h1.15 M517.3 139.8h1.15 M481.9 144.3h1.15 M545.5 130.7h1.15 M576.7 102.9h1.15 M512.8 139.2h1.15 M531.4 139.6h1.15 M534.1 113.1h1.15 M554.2 133.6h1.15 M557.4 138.4h1.15 M602.1 116h1.15 M523.1 152.3h1.15 M515.4 132.1h1.15 M574.6 136.5h1.15 M555.7 129.6h1.15 M486.5 141.4h1.15 M566.8 137h1.15 M528.2 133.8h1.15 M562.8 124.9h1.15 M525.8 114.1h1.15 M554.6 111.8h1.15 M526.2 150.7h1.15 M479.2 118.5h1.15 M568.2 126.2h1.15 M576.2 112.4h1.15 M512.7 147.4h1.15 M510.2 130.8h1.15 M532.4 150.8h1.15 M507 131.5h1.15 M566.9 149.7h1.15 M545.7 142.9h1.15 M522.2 160.2h1.15 M542.6 272.9h1.15 M596.8 262.9h1.15 M526.2 272.3h1.15 M579.3 229h1.15 M455.9 269.8h1.15 M516.3 257.6h1.15 M605.3 252.9h1.15 M519.8 281.7h1.15 M489.9 259.6h1.15 M514.7 259.7h1.15 M531.8 232.1h1.15 M503.1 243.4h1.15 M466.8 263.6h1.15 M493.9 231.5h1.15 M455 244.7h1.15 M471.7 262.2h1.15 M557.2 244.7h1.15 M489.3 245.6h1.15 M546.5 239.8h1.15 M541.5 241.6h1.15 M422.5 287.4h1.15 M553.2 250.2h1.15 M525.4 258.4h1.15 M586.8 248.3h1.15 M531.6 250.1h1.15 M496.4 264.8h1.15 M540.2 245.1h1.15 M617.6 198.5h1.15 M580.6 232.5h1.15 M490.4 268.6h1.15" stroke="#111" stroke-width="1.15" fill="none"/>
<rect x="390" y="59.5" width="277.5" height="278.5" fill="none" stroke="#0a0a0a" stroke-width="1.3"/>
<rect x="421.75" y="62" width="91.5" height="96.75" fill="none" stroke="#0a0a0a" stroke-width="1.35"/>
<rect x="534.25" y="153.5" width="86.5" height="94.5" fill="none" stroke="#0a0a0a" stroke-width="1.35"/>
<path d="M390 315.4h-4.4 M390 310.8h-4.4 M390 306.2h-4.4 M390 301.6h-4.4 M390 297h-4.4 M390 292.4h-4.4 M390 287.8h-4.4 M390 283.2h-4.4 M390 278.6h-4.4 M390 269.4h-4.4 M390 264.9h-4.4 M390 260.4h-4.4 M390 255.8h-4.4 M390 251.2h-4.4 M390 246.7h-4.4 M390 242.2h-4.4 M390 237.6h-4.4 M390 233.1h-4.4 M390 205.6h-4.4 M390 192.2h-4.4 M390 182.7h-4.4 M390 175.4h-4.4 M390 169.4h-4.4 M390 164.3h-4.4 M390 159.9h-4.4 M390 156h-4.4 M390 132.5h-4.4 M390 120.8h-4.4 M390 112.5h-4.4 M390 106h-4.4 M390 100.8h-4.4 M390 96.3h-4.4 M390 92.4h-4.4 M390 89h-4.4 M390 66h-4.4 M410.6 338v4.4 M415.2 338v4.4 M419.8 338v4.4 M424.4 338v4.4 M429 338v4.4 M433.6 338v4.4 M438.2 338v4.4 M442.8 338v4.4 M447.4 338v4.4 M398.6 338v4.4 M456.6 338v4.4 M461.2 338v4.4 M465.8 338v4.4 M470.4 338v4.4 M475 338v4.4 M479.6 338v4.4 M484.2 338v4.4 M488.8 338v4.4 M493.4 338v4.4 M520.9 338v4.4 M534.3 338v4.4 M543.8 338v4.4 M551.1 338v4.4 M557.1 338v4.4 M562.2 338v4.4 M566.6 338v4.4 M570.5 338v4.4 M593.7 338v4.4 M605.3 338v4.4 M613.4 338v4.4 M619.8 338v4.4 M625 338v4.4 M629.4 338v4.4 M633.2 338v4.4 M636.5 338v4.4 M659.2 338v4.4" stroke="#0a0a0a" stroke-width="1.1" fill="none"/>
<path d="M390 320h-7.3 M390 274h-7.3 M390 228.5h-7.3 M390 152.5h-7.3 M390 86h-7.3 M406 338v7.3 M452 338v7.3 M498 338v7.3 M574 338v7.3 M639.5 338v7.3" stroke="#000" stroke-width="1.9" fill="none"/>
<path d="M390 270h-6 M390 272h-8 M390 274h-7 M390 276h-8 M390 278h-5" stroke="#000" stroke-width="1.9" fill="none"/>
<path d="M447.5 338v6 M449.8 338v8 M452 338v7 M454.2 338v8 M456.5 338v5" stroke="#000" stroke-width="1.9" fill="none"/>
<text class="tl" transform="translate(359.5,325.6) scale(0.9387,1)" font-size="9.7" fill="#151515"><tspan x="0" y="0">-10</tspan></text>
<text class="tl" transform="translate(372.31,319.3) scale(1.0437,1)" font-size="9.7" fill="#151515"><tspan x="0" y="0">3</tspan></text>
<text class="tl" transform="translate(366.13,279.6) scale(0.9705,1)" font-size="9.7" fill="#151515"><tspan x="0" y="0">0</tspan></text>
<text class="tl" transform="translate(362.94,234.1) scale(0.8995,1)" font-size="9.7" fill="#151515"><tspan x="0" y="0">10</tspan></text>
<text class="tl" transform="translate(372.31,227.8) scale(1.0437,1)" font-size="9.7" fill="#151515"><tspan x="0" y="0">3</tspan></text>
<text class="tl" transform="translate(362.94,158.1) scale(0.8995,1)" font-size="9.7" fill="#151515"><tspan x="0" y="0">10</tspan></text>
<text class="tl" transform="translate(372.48,151.8) scale(0.9820,1)" font-size="9.7" fill="#151515"><tspan x="0" y="0">4</tspan></text>
<text class="tl" transform="translate(362.94,91.6) scale(0.8995,1)" font-size="9.7" fill="#151515"><tspan x="0" y="0">10</tspan></text>
<text class="tl" transform="translate(372.29,85.3) scale(1.0437,1)" font-size="9.7" fill="#151515"><tspan x="0" y="0">5</tspan></text>
<text class="tl" transform="translate(403.9,361.6) scale(0.9387,1)" font-size="9.7" fill="#151515"><tspan x="0" y="0">-10</tspan></text>
<text class="tl" transform="translate(416.71,355.3) scale(1.0437,1)" font-size="9.7" fill="#151515"><tspan x="0" y="0">3</tspan></text>
<text class="tl" transform="translate(454.63,361.6) scale(0.9705,1)" font-size="9.7" fill="#151515"><tspan x="0" y="0">0</tspan></text>
<text class="tl" transform="translate(497.84,361.6) scale(0.8995,1)" font-size="9.7" fill="#151515"><tspan x="0" y="0">10</tspan></text>
<text class="tl" transform="translate(507.21,355.3) scale(1.0437,1)" font-size="9.7" fill="#151515"><tspan x="0" y="0">3</tspan></text>
<text class="tl" transform="translate(573.84,361.6) scale(0.8995,1)" font-size="9.7" fill="#151515"><tspan x="0" y="0">10</tspan></text>
<text class="tl" transform="translate(583.38,355.3) scale(0.9820,1)" font-size="9.7" fill="#151515"><tspan x="0" y="0">4</tspan></text>
<text class="tl" transform="translate(639.34,361.6) scale(0.8995,1)" font-size="9.7" fill="#151515"><tspan x="0" y="0">10</tspan></text>
<text class="tl" transform="translate(648.69,355.3) scale(1.0437,1)" font-size="9.7" fill="#151515"><tspan x="0" y="0">5</tspan></text>
<text transform="translate(543.24,116.2) scale(1.0138,1)" font-size="32.6" fill="#000"><tspan x="0" y="0">44.9</tspan></text>
<text transform="translate(572.69,289.8) scale(1.0066,1)" font-size="32.6" fill="#000"><tspan x="0" y="0">5.29</tspan></text>
<text transform="translate(497.83,43) scale(0.9887,1)" font-size="39.4" fill="#000"><tspan x="0" y="0">WT</tspan></text>
</g>
<g id="flow-aSK">
<g fill="none" stroke="#686868" stroke-width="0.95" stroke-linejoin="round">
<path d="M782.8 293.5 774.8 293.8 767.8 293.2 761.8 291.8 754.8 288.9 749.6 285.5 745.7 281.5 742.9 276.5 742 271.5 742.4 267.5 744.3 262.5 747 258.5 754.6 249.5 757.3 244.5 762 225.5 766.6 210.5 767.5 205.5 767.3 202.5 766 198.5 754.4 179.5 751.2 172.5 748.9 165.5 746.8 156.5 745.6 146.5 745.4 137.5 746.2 129.5 747.8 123.5 750.3 117.5 753.8 111.9 757.8 107.2 761.8 103.8 766.8 100.8 771.8 99 777.8 98.1 784.8 98.5 791.8 99.9 798.8 102.7 804.8 106.2 810.8 111 822.8 122.8 835 132.5 838.9 136.5 845.3 144.5 847.8 146.7 850.8 148.4 854.8 149.8 859.8 150.8 879.8 152.6 887.8 153.9 895.8 156.2 903.8 159.9 910.4 164.5 915.3 169.5 918.8 175.5 919.7 178.5 920.1 181.5 919.5 186.5 917.8 190.2 915 193.5 910.8 196.6 905.8 198.8 899.8 200.2 892.8 200.7 885.8 200.1 876.8 197.9 871.8 195.9 867.2 193.5 860.8 189 851.8 180.8 847.4 177.5 829.8 167.1 826.8 165.9 824.8 165.6 822.8 165.9 820.8 167.2 818.8 170.1 818 173.5 818.5 176.5 821.7 182.5 822.4 184.5 822.4 186.5 822 188.5 820.2 191.5 816.8 194.6 811.8 197 806.8 198.2 796.8 199.2 791.8 200.9 789.6 202.5 788 204.5 787.2 206.5 786.8 209.5 787.9 216.5 793.4 239.5 795.1 244.5 796.8 247.2 798.9 249.5 810.3 257.5 815.4 262.5 817.2 265.5 818.2 268.5 818.5 271.5 818.1 274.5 816.3 278.5 813.9 281.5 810.8 284.3 806.8 286.8 801.8 289.2 795.8 291.2 788.8 292.8Z M782.8 187.5 777.8 188.1 775.8 187.7 772.8 186.6 767.8 182.9 762.8 177.2 758.8 170.5 755.5 162.5 753.3 153.5 752.2 144.5 752.1 136.5 752.9 130.5 754.8 124.5 757.9 118.5 761.8 113.7 766.8 109.7 771.8 107.4 777.8 106.2 784.8 106.7 790.8 108.2 796.8 110.9 801.8 114.3 807.3 119.5 812.7 126.5 818.4 135.5 819.5 139.5 818.9 142.5 814.8 150.6 808.9 163.5 805.2 170.5 801.8 175.7 797.8 180 793.8 183 787.8 186Z M894.8 191.6 889.8 191.9 883.8 191.1 877.8 189.2 872.5 186.5 868.4 183.5 858.8 175.5 844.2 165.5 840.8 161.5 840.2 159.5 840.8 157.5 842.8 156.5 847.8 156.4 877.8 159.9 889.1 162.5 893.8 164.3 897.9 166.5 901.9 169.5 905.3 173.5 907.1 177.5 907.3 181.5 906.4 184.5 903.8 187.8 899.8 190.2Z M782.8 290.5 775.8 290.9 769.8 290.4 763.8 289.1 758.8 287.2 753.8 284.2 749.9 280.5 747.5 276.5 746.5 272.5 746.6 268.5 747.8 264.5 750.2 260.5 757.8 251.5 760.5 247.5 762.6 242.5 766.1 231.5 768.8 225.6 771.8 221.5 773.8 220 775.8 219.3 777.8 219.6 779.8 220.9 782.8 224.6 785.8 230.9 789.9 243.5 792.7 248.5 796.7 252.5 805 258.5 808.8 261.9 811.9 266.5 812.9 270.5 812.4 274.5 811 277.5 808.5 280.5 804.8 283.5 799.8 286.2 794.8 288.1 788.8 289.6Z M783.8 177.6 778.8 178.3 774.8 177.7 770.8 175.5 766.8 171.7 763.2 166.5 760.5 160.5 758.4 153.5 757.2 146.5 756.8 138.5 757.3 133.5 758.5 128.5 760.8 123.5 763.8 119.4 767.8 115.7 771.8 113.5 776.8 112.2 781.8 112.2 787.8 113.4 792.8 115.5 797.4 118.5 801.6 122.5 804.5 126.5 807 131.5 808.2 136.5 808.1 142.5 806.4 150.5 804 157.5 801 163.5 797.4 168.5 793.4 172.5 788.8 175.7Z M889.8 181.7 887.8 182.1 884.8 181.8 881.8 181 878.8 179.5 875 176.5 872.1 173.5 870.7 171.5 870.3 169.5 871.8 168.6 872.8 168.4 878.1 168.5 883.8 169.7 888.8 171.8 892 174.5 893.3 177.5 892.9 179.5 892.1 180.5Z M782.8 288.5 775.8 288.9 770.8 288.5 765.8 287.5 760.8 285.7 755.8 282.7 752.8 279.9 750.6 276.5 749.4 272.5 749.7 267.5 751.9 262.5 763.1 248.5 770.8 233 772.8 230.7 775.8 229.3 778.8 230.3 780.8 232.3 782.8 235.5 787.3 245.5 790.8 250.5 794 253.5 803.2 260.5 806.1 263.5 808.1 266.5 809.2 270.5 808.9 273.5 807.7 276.5 805.3 279.5 801.8 282.4 797.8 284.5 793.8 286.1 787.8 287.7Z M780.8 170.5 776.8 170.5 773.8 169.4 770.8 167.2 767.8 163.8 765.3 159.5 763.3 154.5 761.8 148.5 761.1 142.5 761 137.5 761.5 133.5 762.7 129.5 764.8 125.5 767.8 121.9 770.8 119.5 773.8 118.1 777.8 117.2 781.8 117.4 786.7 118.5 790.8 120.3 794 122.5 797 125.5 799.8 129.5 801.4 133.5 802.1 137.5 801.9 143.5 800.7 149.5 799 154.5 796.3 159.5 793.3 163.5 789.8 166.8 785.8 169.1Z M784.8 286.7 778.8 287.3 772.8 287.2 767.8 286.4 762.8 284.8 758.6 282.5 755.1 279.5 752.9 276.5 751.6 272.5 751.9 267.5 754.1 262.5 765.3 249.5 771.8 240 773.8 238.1 775.8 237.4 777.8 237.8 779.8 239.4 785.4 247.5 788.9 251.5 802.2 262.5 804.5 265.5 806.1 269.5 806.2 272.5 805.2 275.5 803 278.5 800.8 280.5 797.6 282.5 793.8 284.3Z M782.8 162.7 779.8 163.3 776.8 163.1 773.8 161.6 771.8 159.9 769.8 157.3 767.8 153.5 766.4 149.5 765.4 144.5 765.2 136.5 766.1 132.5 767.5 129.5 769.6 126.5 771.8 124.6 774.8 122.9 777.8 122.2 781.8 122.4 784.8 123.1 787.8 124.5 790.7 126.5 792.8 128.5 794.8 131.5 796 134.5 796.6 137.5 796.6 141.5 796 145.5 794.9 149.5 793.1 153.5 791.1 156.5 788.8 159.1 785.8 161.4Z M782.8 285.6 777.8 286 772.8 285.9 767.8 285 763.8 283.7 759.8 281.5 756.8 278.9 754.4 275.5 753.5 272.5 753.4 269.5 754 266.5 756.8 261.5 770.8 246.7 772.8 244.9 774.8 243.9 776.8 243.8 779.8 245.3 788.5 253.5 798.5 261.5 802.1 265.5 803.7 269.5 803.7 272.5 803.2 274.5 801.2 277.5 799.1 279.5 795.8 281.7 791.8 283.4 787.8 284.7Z M781.8 154.7 779.8 155.1 777.8 155.1 774.8 153.5 773 151.5 771.8 149.3 770 143.5 769.7 137.5 770.8 133.5 772 131.5 773.8 129.7 775.8 128.5 777.8 127.9 779.8 127.9 782.8 128.5 786.5 130.5 789.1 133.5 790.5 137.5 790.2 143.5 788.4 148.5 785.8 152.1 783.8 153.7Z M781.8 284.6 772.8 284.8 768.8 284.1 764.2 282.5 760.8 280.5 758.4 278.5 756.2 275.5 755.2 272.5 755 270.5 755.4 267.5 756.5 264.5 758.5 261.5 762.8 256.8 768.8 251.4 771.8 249.2 774.8 247.9 776.8 247.8 779.8 248.8 793.9 259.5 799.2 264.5 801 267.5 801.6 269.5 801.6 272.5 801 274.5 799.7 276.5 796.8 279.3 793.8 281.1 789.8 282.8Z M780.8 283.6 772.8 283.7 768.8 283 764.8 281.5 761.8 279.7 759.3 277.5 757.8 275.5 756.7 272.5 756.5 269.5 757.1 266.5 760 261.5 763.8 257.6 767.8 254.2 771.8 251.5 774.8 250.5 777.8 250.6 780.8 251.7 790.8 258.6 794.3 261.5 797.3 264.5 799.1 267.5 799.7 269.5 799.7 272.5 798.9 274.5 797.6 276.5 795.4 278.5 792.1 280.5 788.8 281.9Z M780.8 282.6 772.8 282.7 768.8 281.9 765.8 280.8 762.8 279.1 760.8 277.3 759.3 275.5 758 272.5 757.8 270.5 758.1 267.5 759.3 264.5 760.6 262.5 763.8 259.1 767.8 255.7 770.8 253.8 773.8 252.6 776.8 252.4 779.8 253.1 786.8 257.1 791.4 260.5 794.6 263.5 796.9 266.5 798 269.5 797.9 272.5 797.1 274.5 795.5 276.5 793.8 278 790.8 279.8 787.8 281.1Z M781.8 281.5 773.8 281.9 767.6 280.5 764.8 279.1 762.6 277.5 760.8 275.4 759.4 272.5 759 270.5 759.4 267.5 760.1 265.5 761.8 262.8 766.8 257.9 769.8 255.9 772.8 254.5 774.8 254 777.8 254.1 780.8 255 784.8 257.1 789.6 260.5 792.8 263.2 794.6 265.5 796.1 268.5 796.4 270.5 796.2 272.5 795.3 274.5 793.6 276.5 788.8 279.6Z M781.8 280.6 774.8 281.1 768.8 279.9 764.2 277.5 762.2 275.5 761 273.5 760.3 269.5 760.9 266.5 761.8 264.5 765.8 260 768.8 257.8 771.8 256.2 774.8 255.4 776.8 255.4 779.8 255.9 782.8 257.2 786.8 259.6 790.4 262.5 792.3 264.5 794.2 267.5 794.8 269.5 794.8 271.5 794.2 273.5 792.8 275.5 788.5 278.5Z M782.8 279.5 777.8 280.2 772.8 280 767.8 278.5 764.6 276.5 762.3 273.5 761.6 271.5 761.4 269.5 762.4 265.5 764.8 262.2 767.8 259.6 770.8 257.8 773.8 256.8 776.8 256.6 779.8 257.1 782.8 258.4 786.8 260.8 789.8 263.3 791.6 265.5 792.8 267.5 793.4 270.5 793 272.5 791.9 274.5 789.8 276.5 786.8 278.2Z M782.8 278.6 777.8 279.4 772.8 279.2 768.8 278 765.1 275.5 763.1 272.5 762.5 269.5 763.6 265.5 765.8 262.5 770.8 258.9 773.8 257.9 776.8 257.7 779.8 258.3 782.8 259.5 785.8 261.3 788.5 263.5 790.2 265.5 791.7 268.5 791.9 270.5 791.5 272.5 790.2 274.5 788.8 275.8 785.8 277.5Z M777.8 278.5 772.8 278.3 768.8 276.9 765.6 274.5 763.9 271.5 763.7 269.5 763.9 267.5 765.8 264 769.8 260.6 773.8 259 775.8 258.7 778.8 259 783.8 261.1 788 264.5 789.5 266.5 790.3 268.5 790.5 270.5 789.9 272.5 787.8 275.1 783.1 277.5Z M778.8 277.5 774.8 277.7 770.8 276.8 767.8 275.1 765.5 272.5 764.8 269.5 765.1 267.5 765.9 265.5 768.5 262.5 771.8 260.6 775.8 259.7 780.8 260.7 785.6 263.5 787.5 265.5 788.6 267.5 789.1 270.5 787.7 273.5 785.8 275.2 783.8 276.2Z M778.8 276.6 774.8 276.8 771.8 276.1 768.8 274.6 766.8 272.5 766 269.5 766.6 266.5 767.8 264.5 770.8 262.1 774.8 260.8 776.8 260.8 779.8 261.3 784 263.5 786.7 266.5 787.7 269.5 786.8 272.6 783.8 275.1Z M778.8 275.6 775.8 275.8 772.8 275.4 770.5 274.5 768.3 272.5 767.3 270.5 767.4 267.5 768.8 265 770.8 263.2 774.8 261.8 778.8 262.1 782.2 263.5 785.3 266.5 786.2 269.5 785.8 271.4 785.1 272.5 782.4 274.5Z M778.8 274.5 773.8 274.6 771.8 273.9 769.8 272.4 768.7 270.5 768.5 268.5 769.2 266.5 770.8 264.5 773.8 263 777.8 262.9 781.7 264.5 783.7 266.5 784.6 269.5 784 271.5 781.8 273.5Z M777.8 273.5 773.8 273.3 771.9 272.5 770.8 271.4 770 269.5 770.2 267.5 771.6 265.5 772.8 264.7 775.8 263.9 778.8 264.4 780.9 265.5 782.5 267.5 782.9 269.5 781.9 271.5 780.7 272.5Z M778.8 271.6 775.8 272.2 773.8 271.7 772.8 271 771.8 269.5 771.8 268.5 772.8 266.6 774.6 265.5 775.8 265.3 777.8 265.6 779.4 266.5 780.3 267.5 780.7 269.5 780.2 270.5Z"/>
</g>
<ellipse cx="778" cy="271.3" rx="37.5" ry="23.75" transform="rotate(0 778 271.3)" fill="url(#sh)" opacity="0.54"/>
<path d="M872.2 221.1h1.15 M888.9 212.7h1.15 M923.6 214.9h1.15 M923.8 224.1h1.15 M927 170.7h1.15 M870.3 164.7h1.15 M904.1 193.2h1.15 M912.8 208.9h1.15 M893.2 260.2h1.15 M905.2 199.3h1.15 M865.4 233.3h1.15 M913.8 169.6h1.15 M886.4 206.7h1.15 M849 192.2h1.15 M925 154.8h1.15 M902.3 253h1.15 M874.5 187.3h1.15 M895.4 214.4h1.15 M899.9 157.6h1.15 M870.9 202.8h1.15 M882.1 231.9h1.15 M881.9 189.6h1.15 M936.2 197.7h1.15 M865.5 199.9h1.15 M884.2 219.9h1.15 M901.3 190.7h1.15 M880.4 185.2h1.15 M923.8 256.4h1.15 M888.6 215.8h1.15 M899 185.7h1.15 M876.9 186.5h1.15 M841.9 178.8h1.15 M901.3 225.8h1.15 M884.8 189.5h1.15 M906 257.5h1.15 M866.8 178.3h1.15 M879.1 215.3h1.15 M868.6 213h1.15 M872 215.7h1.15 M882.1 188h1.15 M910.4 166.8h1.15 M870.8 220.4h1.15 M909.1 205.8h1.15 M835.3 220.2h1.15 M898.7 190.5h1.15 M841.4 223.3h1.15 M933.7 214h1.15 M923.3 181.6h1.15 M894.6 181.8h1.15 M862 190.3h1.15 M867.2 179.1h1.15 M870.7 188.4h1.15 M882.7 203.5h1.15 M858.8 208.9h1.15 M844.5 201.6h1.15 M892 135h1.15 M881.5 230.5h1.15 M901.3 186.2h1.15 M876.3 208.2h1.15 M893.9 222.9h1.15 M893.6 225.3h1.15 M900 178.6h1.15 M864.6 185.2h1.15 M900.2 175.7h1.15 M912.3 156.9h1.15 M883.4 173.9h1.15 M897.8 203.8h1.15 M886.2 165.4h1.15 M867.9 181.5h1.15 M914.8 182h1.15 M902.5 225.8h1.15 M868.9 185.5h1.15 M834.8 188.7h1.15 M907.8 173.5h1.15 M898.8 222.1h1.15 M899 187.7h1.15 M895.7 181.1h1.15 M879.5 266.8h1.15 M877.3 180.8h1.15 M893.9 207.8h1.15 M908.9 178.7h1.15 M863.6 172.6h1.15 M908.7 230.1h1.15 M871.1 185.7h1.15 M889.4 173.1h1.15 M877.6 226.3h1.15 M859.4 210.3h1.15 M919.5 169.9h1.15 M917.4 200.1h1.15 M876.6 224.3h1.15 M891.8 193.3h1.15 M875.6 176.4h1.15 M876.2 193.2h1.15 M909.1 192.9h1.15 M897.3 189.1h1.15 M901.9 198h1.15 M921.7 207.2h1.15 M848.4 196.6h1.15 M879 226.7h1.15 M890.5 224.2h1.15 M908.6 181.4h1.15 M882.4 201.2h1.15 M863.3 295.2h1.15 M903.1 164.2h1.15 M854.6 203.5h1.15 M880.4 156.6h1.15 M847 200.5h1.15 M878.4 211.2h1.15 M887.1 230.8h1.15 M844.2 216.9h1.15 M869.7 173.8h1.15 M914.1 146h1.15 M887.8 189.9h1.15 M919.9 159.1h1.15 M898.8 213.3h1.15 M889.5 203h1.15 M886.1 159h1.15 M876.7 145.9h1.15 M913.5 226.6h1.15 M854.7 233.7h1.15 M885.5 157.4h1.15 M871.7 216.1h1.15 M887.4 169.8h1.15 M906.4 193.7h1.15 M877.2 164.8h1.15 M902.6 223.5h1.15 M863.6 191.4h1.15 M882.9 204.2h1.15 M862.6 255.5h1.15 M896.7 224.6h1.15 M881.7 258.6h1.15 M901 149.3h1.15 M914.9 198.6h1.15 M863.3 198.3h1.15 M867.4 219.7h1.15 M905.2 161h1.15 M906.5 229.3h1.15 M827.6 236.5h1.15 M906.5 223h1.15 M925.7 198.6h1.15 M868.3 210.4h1.15 M886 212.6h1.15 M831.8 188.4h1.15 M954.8 210.5h1.15 M915 209.5h1.15 M881.3 223.6h1.15 M908.5 190.1h1.15 M885.2 218.8h1.15 M870 176.3h1.15 M919.3 232.2h1.15 M834.2 179.2h1.15 M865.7 150.2h1.15 M824.7 159.3h1.15 M824 138.2h1.15 M821.4 170.3h1.15 M844.2 140.5h1.15 M860.4 202.2h1.15 M871.6 101.6h1.15 M840.5 142.9h1.15 M823.3 116.1h1.15 M891.5 159.4h1.15 M868.4 149.8h1.15 M865.9 153.1h1.15 M846 135.9h1.15 M811.1 122.5h1.15 M839.1 118h1.15 M850.6 117.7h1.15 M863.7 105.2h1.15 M849.9 172h1.15 M866 127h1.15 M879.6 141h1.15 M851 138.9h1.15 M787.8 154.3h1.15 M853 159h1.15 M810.8 160.1h1.15 M820.7 110.7h1.15 M809.2 145.1h1.15 M827.9 178.5h1.15 M864 168.7h1.15 M835.1 113.1h1.15 M792 134.4h1.15 M878.3 171.4h1.15 M790.5 146.9h1.15 M861.3 115.4h1.15 M840.5 122h1.15 M844.7 145.1h1.15 M830.3 137.2h1.15 M819.7 142.8h1.15 M743.7 151.9h1.15 M871.1 107h1.15 M834.2 154.7h1.15 M818.8 122.8h1.15 M838.1 158.5h1.15 M798.5 145.8h1.15 M856 105.7h1.15 M844.5 176.2h1.15 M839.8 136h1.15 M883.1 125.5h1.15 M835.1 173.5h1.15 M892.9 113.1h1.15 M834.3 152.1h1.15 M878.3 151.5h1.15 M822.1 159.9h1.15 M773 143.6h1.15 M862.3 167.8h1.15 M853.5 104.2h1.15 M868.3 126.6h1.15 M826.2 168.8h1.15 M780.7 196h1.15 M867 162.2h1.15 M785.7 103.5h1.15 M807.2 97.9h1.15 M747.7 100.3h1.15 M797.1 106.3h1.15 M801.7 98.2h1.15 M794.7 77.1h1.15 M738.1 93.7h1.15 M770.3 100.5h1.15 M755.8 88.2h1.15 M809.8 95.1h1.15 M765.5 101.7h1.15 M797.5 82.6h1.15 M772.2 97.4h1.15 M784.5 91.8h1.15 M775 62.7h1.15 M803.5 98.7h1.15 M786.1 73.4h1.15 M778.2 94.7h1.15 M783.5 93.6h1.15 M727.4 102h1.15 M805.2 102.5h1.15 M825.2 97.2h1.15 M826.7 79.9h1.15 M807.8 91.8h1.15 M828.1 88.7h1.15 M774.1 86.8h1.15 M802.3 84.9h1.15 M812.4 103.1h1.15 M790 96h1.15 M770.8 117h1.15 M811.2 80.5h1.15 M816.3 81.2h1.15 M796.5 101.6h1.15 M778.6 87h1.15 M797.3 100.6h1.15 M793.1 98.4h1.15 M748.9 93.2h1.15 M759.7 95h1.15 M757.7 84h1.15 M760.5 88.3h1.15 M816.8 210.7h1.15 M842.4 198.3h1.15 M872.4 206.8h1.15 M801.3 216.5h1.15 M811.5 204.8h1.15 M829.6 193.1h1.15 M853.9 191.4h1.15 M803.3 227.9h1.15 M857.3 217.1h1.15 M781.5 206.2h1.15 M805.8 202.3h1.15 M814.2 217.5h1.15 M849.5 215.5h1.15 M798.4 212.6h1.15 M831.6 225.2h1.15 M806.1 205.2h1.15 M805.3 195.6h1.15 M836 204.1h1.15 M852.1 225h1.15 M825.6 216.2h1.15 M813.8 215.8h1.15 M828.9 230.1h1.15 M812.2 229.1h1.15 M846 218.6h1.15 M791.9 198.5h1.15 M826.3 215.4h1.15 M789.8 239.2h1.15 M832.1 211.8h1.15 M843.4 202.4h1.15 M765.5 212h1.15" stroke="#111" stroke-width="1.15" fill="none"/>
<rect x="703.75" y="57.5" width="278.25" height="277.5" fill="none" stroke="#0a0a0a" stroke-width="1.3"/>
<rect x="735" y="59.5" width="92" height="97" fill="none" stroke="#0a0a0a" stroke-width="1.35"/>
<rect x="848" y="151" width="87" height="94.5" fill="none" stroke="#0a0a0a" stroke-width="1.35"/>
<path d="M703.8 312.9h-4.4 M703.8 308.2h-4.4 M703.8 303.6h-4.4 M703.8 298.9h-4.4 M703.8 294.2h-4.4 M703.8 289.6h-4.4 M703.8 284.9h-4.4 M703.8 280.3h-4.4 M703.8 275.6h-4.4 M703.8 266.5h-4.4 M703.8 262h-4.4 M703.8 257.5h-4.4 M703.8 253h-4.4 M703.8 248.5h-4.4 M703.8 244h-4.4 M703.8 239.5h-4.4 M703.8 235h-4.4 M703.8 230.5h-4.4 M703.8 203.1h-4.4 M703.8 189.7h-4.4 M703.8 180.2h-4.4 M703.8 172.9h-4.4 M703.8 166.9h-4.4 M703.8 161.8h-4.4 M703.8 157.4h-4.4 M703.8 153.5h-4.4 M703.8 130h-4.4 M703.8 118.3h-4.4 M703.8 110h-4.4 M703.8 103.5h-4.4 M703.8 98.3h-4.4 M703.8 93.8h-4.4 M703.8 89.9h-4.4 M703.8 86.5h-4.4 M703.8 63.5h-4.4 M724 335v4.4 M728.6 335v4.4 M733.1 335v4.4 M737.7 335v4.4 M742.2 335v4.4 M746.8 335v4.4 M751.4 335v4.4 M755.9 335v4.4 M760.5 335v4.4 M712.2 335v4.4 M769.6 335v4.4 M774.2 335v4.4 M778.8 335v4.4 M783.4 335v4.4 M788 335v4.4 M792.6 335v4.4 M797.2 335v4.4 M801.8 335v4.4 M806.4 335v4.4 M834 335v4.4 M847.5 335v4.4 M857.1 335v4.4 M864.5 335v4.4 M870.5 335v4.4 M875.7 335v4.4 M880.1 335v4.4 M884 335v4.4 M907.4 335v4.4 M919 335v4.4 M927.2 335v4.4 M933.6 335v4.4 M938.9 335v4.4 M943.3 335v4.4 M947.1 335v4.4 M950.5 335v4.4 M973.4 335v4.4" stroke="#0a0a0a" stroke-width="1.1" fill="none"/>
<path d="M703.8 317.5h-7.3 M703.8 271h-7.3 M703.8 226h-7.3 M703.8 150h-7.3 M703.8 83.5h-7.3 M719.5 335v7.3 M765 335v7.3 M811 335v7.3 M887.5 335v7.3 M953.5 335v7.3" stroke="#000" stroke-width="1.9" fill="none"/>
<path d="M703.8 267h-6 M703.8 269h-8 M703.8 271h-7 M703.8 273h-8 M703.8 275h-5" stroke="#000" stroke-width="1.9" fill="none"/>
<path d="M760.5 335v6 M762.8 335v8 M765 335v7 M767.2 335v8 M769.5 335v5" stroke="#000" stroke-width="1.9" fill="none"/>
<text class="tl" transform="translate(673.25,323.1) scale(0.9387,1)" font-size="9.7" fill="#151515"><tspan x="0" y="0">-10</tspan></text>
<text class="tl" transform="translate(686.06,316.8) scale(1.0437,1)" font-size="9.7" fill="#151515"><tspan x="0" y="0">3</tspan></text>
<text class="tl" transform="translate(679.88,276.6) scale(0.9705,1)" font-size="9.7" fill="#151515"><tspan x="0" y="0">0</tspan></text>
<text class="tl" transform="translate(676.69,231.6) scale(0.8995,1)" font-size="9.7" fill="#151515"><tspan x="0" y="0">10</tspan></text>
<text class="tl" transform="translate(686.06,225.3) scale(1.0437,1)" font-size="9.7" fill="#151515"><tspan x="0" y="0">3</tspan></text>
<text class="tl" transform="translate(676.69,155.6) scale(0.8995,1)" font-size="9.7" fill="#151515"><tspan x="0" y="0">10</tspan></text>
<text class="tl" transform="translate(686.23,149.3) scale(0.9820,1)" font-size="9.7" fill="#151515"><tspan x="0" y="0">4</tspan></text>
<text class="tl" transform="translate(676.69,89.1) scale(0.8995,1)" font-size="9.7" fill="#151515"><tspan x="0" y="0">10</tspan></text>
<text class="tl" transform="translate(686.04,82.8) scale(1.0437,1)" font-size="9.7" fill="#151515"><tspan x="0" y="0">5</tspan></text>
<text class="tl" transform="translate(717.4,358.6) scale(0.9387,1)" font-size="9.7" fill="#151515"><tspan x="0" y="0">-10</tspan></text>
<text class="tl" transform="translate(730.21,352.3) scale(1.0437,1)" font-size="9.7" fill="#151515"><tspan x="0" y="0">3</tspan></text>
<text class="tl" transform="translate(767.63,358.6) scale(0.9705,1)" font-size="9.7" fill="#151515"><tspan x="0" y="0">0</tspan></text>
<text class="tl" transform="translate(810.84,358.6) scale(0.8995,1)" font-size="9.7" fill="#151515"><tspan x="0" y="0">10</tspan></text>
<text class="tl" transform="translate(820.21,352.3) scale(1.0437,1)" font-size="9.7" fill="#151515"><tspan x="0" y="0">3</tspan></text>
<text class="tl" transform="translate(887.34,358.6) scale(0.8995,1)" font-size="9.7" fill="#151515"><tspan x="0" y="0">10</tspan></text>
<text class="tl" transform="translate(896.88,352.3) scale(0.9820,1)" font-size="9.7" fill="#151515"><tspan x="0" y="0">4</tspan></text>
<text class="tl" transform="translate(953.34,358.6) scale(0.8995,1)" font-size="9.7" fill="#151515"><tspan x="0" y="0">10</tspan></text>
<text class="tl" transform="translate(962.69,352.3) scale(1.0437,1)" font-size="9.7" fill="#151515"><tspan x="0" y="0">5</tspan></text>
<text transform="translate(850.46,116.2) scale(1.0244,1)" font-size="32.6" fill="#000"><tspan x="0" y="0">17.8</tspan></text>
<text transform="translate(872.82,290) scale(1.0026,1)" font-size="32.6" fill="#000"><tspan x="0" y="0">7.06</tspan></text>
<text transform="translate(770.7,43) scale(1.0046,1)" font-size="39.4" fill="#000"><tspan x="0" y="0">SK930</tspan></text>
</g>
<g id="flow-dGF">
<g fill="none" stroke="#686868" stroke-width="0.95" stroke-linejoin="round">
<path d="M129 1316.8 121 1316.4 113 1314.1 106 1310.3 102.8 1307.8 99.8 1304.8 95.8 1298.8 93.6 1292.8 92.5 1284.8 92.6 1273.8 94.3 1260.8 98.3 1243.8 101.6 1234.8 105.7 1227.8 109 1223.8 112 1221 119 1216.5 124 1214.5 128 1213.6 136 1213.1 143 1214.2 150 1217 156 1221 161.9 1226.8 170 1236.6 179.3 1246.8 183.5 1252.8 185.5 1256.8 187.2 1261.8 188 1266.8 188.1 1271.8 186.9 1278.8 184.5 1284.8 181 1289.9 176 1294.7 170 1298.3 157.8 1303.8 146 1311.3 142 1313.4 136 1315.6Z M128 1312.8 120 1312.1 113 1309.8 107 1306.3 104.2 1303.8 101.6 1300.8 98.9 1295.8 97.3 1289.8 96.7 1281.8 97.2 1271.8 99.3 1259.8 103.4 1244.8 106.6 1236.8 110.3 1230.8 113 1227.6 116 1225 122 1221.3 129 1219.1 133 1218.7 137 1218.9 141 1219.6 145 1220.9 149 1222.9 152 1225 156.2 1228.8 165 1238.9 175.9 1249.8 179.6 1254.8 182.4 1260.8 183.7 1266.8 183.7 1272.8 182.7 1277.8 180.6 1282.8 177 1287.7 173 1291.3 168 1294.2 156 1299.5 146 1306.5 141 1309.4 134 1311.9Z M131 1309.9 124 1310.2 118 1309.1 111 1306 106 1302 102.8 1297.8 100.7 1292.8 99.7 1286.8 99.6 1277.8 100.7 1267.8 103.5 1255.8 107.4 1243.8 111.4 1235.8 116 1230 119 1227.5 122 1225.6 128 1223.3 135 1222.6 139 1223.1 143 1224.3 147 1226.2 150 1228.3 154 1231.9 162.8 1241.8 173 1251.2 176.7 1255.8 179.3 1260.8 180.6 1265.8 180.9 1270.8 180.2 1275.8 178.3 1280.8 175.6 1284.8 172 1288.2 167 1291.3 155 1296.5 145 1304 141 1306.5 136 1308.7Z M132 1307.8 125 1308.4 119 1307.4 113 1305 108.5 1301.8 105.2 1297.8 102.9 1292.8 101.8 1286.8 101.7 1279.8 102.7 1269.8 104.7 1260.8 109.6 1245.8 113.6 1237.8 118 1232.3 123 1228.6 129 1226.3 135 1225.8 139 1226.4 142 1227.3 148 1230.7 152 1234.3 160.7 1243.8 171.1 1252.8 174.4 1256.8 176.7 1260.8 178.2 1265.8 178.6 1270.8 178 1274.8 176.6 1278.8 174.1 1282.8 171 1285.9 166 1289 157 1292.6 154 1294.2 144 1302.2 140 1304.8 136 1306.7Z M128 1306.8 122 1306.5 116 1304.7 111 1301.7 107.2 1297.8 105.1 1293.8 103.8 1288.8 103.5 1282.8 103.9 1274.8 105.4 1265.8 108.4 1255.8 112.1 1245.8 116 1238.7 120 1234.1 125 1230.6 130 1228.9 136 1228.7 142 1230.3 147 1233.3 150 1236.1 158 1244.8 170.1 1254.8 173.3 1258.8 175.3 1262.8 176.3 1266.8 176.4 1271.8 175.5 1275.8 174.2 1278.8 172 1281.9 169 1284.8 165 1287.1 156 1290.6 153 1292.2 143.2 1300.8 139 1303.5 134 1305.7Z M132 1304.8 127 1305.5 121 1304.9 116 1303.2 112 1300.7 108.3 1296.8 106.4 1292.8 105.3 1287.8 105.1 1281.8 105.8 1272.8 107.7 1263.8 111.9 1251.8 116 1242.9 119.7 1237.8 124 1234.1 129 1231.8 134 1231.1 137 1231.4 140 1232.2 145 1235 148.2 1237.8 156.7 1246.8 168 1255.5 170.9 1258.8 172.8 1261.8 174.2 1265.8 174.6 1269.8 174.1 1273.8 173.1 1276.8 171 1280.1 168.3 1282.8 164 1285.4 153 1289.8 150 1292 144.3 1297.8 140.7 1300.8 136 1303.4Z M131 1303.8 125 1304.2 120 1303.4 115 1301.2 111.8 1298.8 108.7 1294.8 107.2 1290.8 106.6 1285.8 106.7 1279.8 107.5 1271.8 109.4 1263.8 113.5 1252.8 117.9 1243.8 121.9 1238.8 125.8 1235.8 130 1234 135 1233.6 140 1234.9 144 1237.2 147 1239.9 155 1248.3 167 1257.1 170 1260.6 171.7 1263.8 172.5 1266.8 172.8 1270.8 172.2 1273.8 171 1276.8 169 1279.6 167 1281.4 163 1283.8 155 1286.6 152 1288.1 149 1290.5 143.3 1296.8 140 1299.6 136 1302.1Z M130 1302.8 125 1303.1 120 1302.2 116 1300.5 112 1297.2 109.7 1293.8 108.4 1289.8 107.9 1284.8 108.1 1278.8 109.1 1270.8 111 1263.8 115 1253.6 119 1245.8 122 1241.8 126 1238.3 130 1236.5 135 1236.1 139 1237.1 143 1239.4 153.3 1249.8 163 1256.2 166 1258.6 168.6 1261.8 170 1264.4 170.9 1267.8 171 1270.8 170.3 1273.8 169.5 1275.8 168 1277.9 166 1279.9 162 1282.2 154 1284.9 151 1286.5 148 1289.1 142.4 1295.8 139.1 1298.8 135 1301.2Z M129 1301.9 124 1302 120 1301.1 115.4 1298.8 112.3 1295.8 110.6 1292.8 109.5 1288.8 109.1 1283.8 109.5 1277.8 110.5 1270.8 112.5 1263.8 116 1255.4 120.1 1247.8 123.1 1243.8 127 1240.4 131 1238.8 135 1238.6 138 1239.3 141 1240.9 144 1243.4 152 1251.7 162 1257.8 165 1260.3 167 1262.7 168.1 1264.8 169 1267.8 169.1 1270.8 167.9 1274.8 166.5 1276.8 164.4 1278.8 161 1280.6 154 1282.8 151 1284.2 148 1286.6 141.6 1294.8 138.5 1297.8 134 1300.5Z M129 1300.8 124 1300.9 120 1300 117 1298.5 113.8 1295.8 111.9 1292.8 110.9 1289.8 110.4 1285.8 110.6 1279.8 111.4 1272.8 113.3 1265.8 116 1259 120 1251.4 123.3 1246.8 127 1243.3 130 1241.7 134 1241.1 137 1241.7 140 1243.3 142.9 1245.8 148 1251.3 150.7 1253.8 160 1259 163 1261.1 165 1263.2 166.4 1265.8 167 1267.8 167.1 1270.8 166 1274 163.7 1276.8 160.3 1278.8 153 1281 150 1282.4 147 1285.1 141.7 1292.8 138 1296.7 134 1299.3Z M129 1299.8 125 1300 121 1299.2 117.8 1297.8 115 1295.4 113.2 1292.8 111.9 1288.8 111.5 1284.8 111.8 1279.8 112.7 1272.8 114.3 1266.8 116.8 1260.8 120 1254.9 124 1249.1 127 1246.2 130 1244.5 134 1243.9 137 1244.7 140 1246.5 147 1253.9 150 1256.4 159 1261 161.5 1262.8 164 1265.8 164.7 1267.8 164.9 1269.8 164.1 1272.8 162 1275.2 159 1276.9 152 1279 149 1280.5 146 1283.6 140.9 1291.8 138 1295.2 134 1298.1Z M129 1298.8 125 1299 122 1298.5 119 1297.2 115.9 1294.8 114 1291.8 113 1288.8 112.7 1284.8 113 1279.8 114 1272.8 115.4 1267.8 118 1261.8 121 1256.5 125 1251.3 128 1248.7 131 1247.3 134 1247 136.5 1247.8 139 1249.4 146 1256.8 149 1259.3 157 1263.1 159.6 1264.8 161.2 1266.8 161.9 1269.8 161.2 1271.8 159.2 1273.8 151 1276.5 148 1278.3 145 1281.9 140.7 1289.8 137.9 1293.8 134 1296.9Z M129 1297.8 125 1298 122 1297.4 119 1296 117 1294.3 115.2 1291.8 114.2 1288.8 113.9 1285.8 114 1280.8 114.9 1274.8 116 1270.1 117.6 1265.8 120 1261.2 123 1256.8 127 1252.7 130 1250.9 133 1250.3 135.1 1250.8 138 1252.5 147 1262.3 150 1264.7 154 1267.1 154.9 1267.8 155.4 1268.8 155 1269.9 149 1273.4 146 1276.7 143.5 1280.8 139.3 1289.8 137 1293 133 1296.3Z M128 1296.9 125 1297 122 1296.3 119.2 1294.8 117.2 1292.8 116.1 1290.8 115.2 1287.8 115 1284.8 115.4 1279.8 116.1 1274.8 117.5 1269.8 119.2 1265.8 121.6 1261.8 124 1258.7 127 1255.9 130 1254.2 133 1253.9 135 1254.5 137 1255.8 141.4 1260.8 144.8 1266.8 145.3 1268.8 145.2 1270.8 139.7 1285.8 137.3 1290.8 135 1293.5 133 1295 131 1296.1Z M128 1295.8 125 1295.9 122 1295.1 119.8 1293.8 118 1291.8 117 1289.8 116.3 1286.8 116.5 1280.8 118.3 1271.8 120 1267.5 122 1264.1 124 1261.6 127 1259 130 1257.6 132 1257.5 134 1258 136 1259.3 139 1262.8 141.4 1267.8 141.7 1272.8 138.9 1283.8 136.4 1289.8 135 1291.8 132.9 1293.8 131 1294.9Z M126 1294.8 123 1294.2 121 1293.1 119.6 1291.8 118.4 1289.8 117.5 1285.8 118.1 1278.8 120 1271.3 123 1265.8 125 1263.6 127 1262.1 130 1260.9 132 1261 134 1261.9 136 1263.7 138.3 1267.8 139.2 1271.8 138.7 1277.8 136.7 1285.8 134.2 1290.8 132.2 1292.8 130.5 1293.8 128 1294.6Z M129 1293 127 1293.4 125 1293.3 123 1292.7 121.6 1291.8 119.5 1288.8 119 1286.8 118.9 1283.8 120.2 1275.8 122.7 1269.8 126 1265.9 128 1264.7 130 1264.3 133 1265.3 135.2 1267.8 136.6 1271.8 136.9 1275.8 136 1282.8 134.4 1287.8 132 1291.1Z M127 1291.8 124 1291.3 121.9 1289.8 120.7 1286.8 120.7 1281.8 122 1276 124 1271.7 127 1268.7 130 1268.1 131.5 1268.8 132.6 1269.8 134 1272.5 134.6 1276.8 134.3 1281.8 133.4 1285.8 132 1288.8 129.9 1290.8Z M129 1288.9 127 1289.7 126 1289.7 124 1288.8 122.8 1286.8 122.5 1284.8 122.9 1280.8 124 1277.3 126 1274 128 1272.7 130 1273.2 131 1274.4 132.1 1278.8 131.6 1284.8 130.8 1286.8Z"/>
</g>
<ellipse cx="113" cy="1288" rx="16.25" ry="21.25" transform="rotate(25 113 1288)" fill="url(#sh)" opacity="0.24"/>
<path d="M213.4 1237.2h1.15 M174.9 1233h1.15 M113.9 1239.1h1.15 M128 1240.9h1.15 M154.4 1265.4h1.15 M164.8 1235.4h1.15 M139.9 1253h1.15 M165 1252.4h1.15 M192.7 1256.8h1.15 M163.4 1182h1.15 M137.2 1258.4h1.15 M198.3 1271.2h1.15 M154.6 1207.5h1.15 M195.6 1259.4h1.15 M170.6 1234.9h1.15 M132.2 1229.2h1.15 M207.1 1209.3h1.15 M156.8 1230.8h1.15 M160.9 1184.4h1.15 M156 1219.2h1.15 M161.2 1223.9h1.15 M170.2 1207.1h1.15 M206.9 1213.1h1.15 M204.7 1223.8h1.15 M191.3 1207.9h1.15 M168.3 1205.9h1.15 M187.1 1216h1.15 M182.2 1211.9h1.15 M217 1216.7h1.15 M177.9 1218.5h1.15 M180.2 1200.4h1.15 M191.4 1210.2h1.15" stroke="#111" stroke-width="1.15" fill="none"/>
<rect x="68" y="1083.75" width="277.75" height="278.25" fill="none" stroke="#0a0a0a" stroke-width="1.3"/>
<path d="M83 1181.75 L181.5 1182.75 L180.5 1241.25 L135 1272.75 L84 1274.25 Z" fill="none" stroke="#0a0a0a" stroke-width="1.35" stroke-linejoin="miter"/>
<path d="M180 1244.25 L282.5 1245.75 L284.5 1321.25 L147.5 1321.25 L143.5 1272.25 Z" fill="none" stroke="#0a0a0a" stroke-width="1.35" stroke-linejoin="miter"/>
<path d="M68 1332h-4.4 M68 1347h-4.4 M68 1309.5h-4.4 M68 1302h-4.4 M68 1294.5h-4.4 M68 1287h-4.4 M68 1279.5h-4.4 M68 1272h-4.4 M68 1264.5h-4.4 M68 1257h-4.4 M68 1249.5h-4.4 M68 1221.8h-4.4 M68 1210h-4.4 M68 1201.7h-4.4 M68 1195.2h-4.4 M68 1189.9h-4.4 M68 1185.4h-4.4 M68 1181.5h-4.4 M68 1178.1h-4.4 M68 1155.7h-4.4 M68 1144.5h-4.4 M68 1136.5h-4.4 M68 1130.3h-4.4 M68 1125.2h-4.4 M68 1120.9h-4.4 M68 1117.2h-4.4 M68 1113.9h-4.4 M68 1091.7h-4.4 M104.4 1362v4.4 M91.3 1362v4.4 M78.2 1362v4.4 M124 1362v4.4 M130.6 1362v4.4 M137.2 1362v4.4 M143.7 1362v4.4 M150.2 1362v4.4 M156.8 1362v4.4 M163.3 1362v4.4 M169.9 1362v4.4 M176.4 1362v4.4 M204.3 1362v4.4 M216.8 1362v4.4 M225.6 1362v4.4 M232.5 1362v4.4 M238.1 1362v4.4 M242.8 1362v4.4 M246.9 1362v4.4 M250.5 1362v4.4 M272.9 1362v4.4 M284.2 1362v4.4 M292.1 1362v4.4 M298.3 1362v4.4 M303.4 1362v4.4 M307.6 1362v4.4 M311.3 1362v4.4 M314.6 1362v4.4 M336.7 1362v4.4" stroke="#0a0a0a" stroke-width="1.1" fill="none"/>
<path d="M68 1317h-7.3 M68 1242h-7.3 M68 1175h-7.3 M68 1111h-7.3 M117.5 1362v7.3 M183 1362v7.3 M253.8 1362v7.3 M317.5 1362v7.3" stroke="#000" stroke-width="1.9" fill="none"/>
<path d="M68 1313h-6 M68 1315h-8 M68 1317h-7 M68 1319h-8 M68 1321h-5" stroke="#000" stroke-width="1.9" fill="none"/>
<path d="M113 1362v6 M115.3 1362v8 M117.5 1362v7 M119.7 1362v8 M122 1362v5" stroke="#000" stroke-width="1.9" fill="none"/>
<text class="tl" transform="translate(44.13,1322.6) scale(0.9705,1)" font-size="9.7" fill="#151515"><tspan x="0" y="0">0</tspan></text>
<text class="tl" transform="translate(40.94,1247.6) scale(0.8995,1)" font-size="9.7" fill="#151515"><tspan x="0" y="0">10</tspan></text>
<text class="tl" transform="translate(50.31,1241.3) scale(1.0437,1)" font-size="9.7" fill="#151515"><tspan x="0" y="0">3</tspan></text>
<text class="tl" transform="translate(40.94,1180.6) scale(0.8995,1)" font-size="9.7" fill="#151515"><tspan x="0" y="0">10</tspan></text>
<text class="tl" transform="translate(50.48,1174.3) scale(0.9820,1)" font-size="9.7" fill="#151515"><tspan x="0" y="0">4</tspan></text>
<text class="tl" transform="translate(40.94,1116.6) scale(0.8995,1)" font-size="9.7" fill="#151515"><tspan x="0" y="0">10</tspan></text>
<text class="tl" transform="translate(50.29,1110.3) scale(1.0437,1)" font-size="9.7" fill="#151515"><tspan x="0" y="0">5</tspan></text>
<text class="tl" transform="translate(120.13,1385.6) scale(0.9705,1)" font-size="9.7" fill="#151515"><tspan x="0" y="0">0</tspan></text>
<text class="tl" transform="translate(182.84,1385.6) scale(0.8995,1)" font-size="9.7" fill="#151515"><tspan x="0" y="0">10</tspan></text>
<text class="tl" transform="translate(192.21,1379.3) scale(1.0437,1)" font-size="9.7" fill="#151515"><tspan x="0" y="0">3</tspan></text>
<text class="tl" transform="translate(253.59,1385.6) scale(0.8995,1)" font-size="9.7" fill="#151515"><tspan x="0" y="0">10</tspan></text>
<text class="tl" transform="translate(263.13,1379.3) scale(0.9820,1)" font-size="9.7" fill="#151515"><tspan x="0" y="0">4</tspan></text>
<text class="tl" transform="translate(317.34,1385.6) scale(0.8995,1)" font-size="9.7" fill="#151515"><tspan x="0" y="0">10</tspan></text>
<text class="tl" transform="translate(326.69,1379.3) scale(1.0437,1)" font-size="9.7" fill="#151515"><tspan x="0" y="0">5</tspan></text>
<text transform="translate(102.99,1150) scale(1.0175,1)" font-size="32.6" fill="#000"><tspan x="0" y="0">45.0</tspan></text>
<text transform="translate(264.95,1229.5) scale(1.0286,1)" font-size="32.6" fill="#000"><tspan x="0" y="0">14.8</tspan></text>
<text transform="translate(182.54,1062) scale(0.9872,1)" font-size="39.4" fill="#000"><tspan x="0" y="0">GF</tspan></text>
</g>
<g id="flow-dWT">
<g fill="none" stroke="#686868" stroke-width="0.95" stroke-linejoin="round">
<path d="M450.5 1310.6 446.5 1310.3 442.5 1309 439.5 1307.4 436.5 1305.2 433.9 1302.5 431.2 1298.5 429 1293.5 427.9 1289.5 426.5 1280.8 423.7 1269.5 423 1260.5 424.1 1247.5 423.6 1234.5 423.9 1229.5 424.8 1225.5 426 1222.5 429.2 1217.5 432.1 1214.5 435.5 1211.8 438.5 1210.1 443.5 1208 447.5 1207 451.5 1206.5 462.5 1206.9 474.5 1208.9 484.5 1211.9 493.5 1215.7 505.5 1222.5 514.5 1224.7 517.5 1226.1 518.9 1227.5 520 1229.5 520.8 1234.5 520.3 1240.5 518.2 1248.5 514 1259.5 508.7 1270.5 502.9 1280.5 497.3 1288.5 491.5 1295.1 485.5 1299.9 482.5 1301.3 480.5 1301.6 478.5 1301.3 477.5 1300.6 476.5 1299.4 475.5 1296.5 475.2 1293.5 475.5 1289.5 477.2 1281.5 481.7 1267.5 482.2 1264.5 482.2 1262.5 481.8 1261.5 480.8 1260.5 478.5 1260 472.5 1260.8 466 1262.5 463.5 1264.3 462.8 1266.5 463.3 1269.5 466.1 1278.5 467.2 1284.5 467.2 1291.5 466.1 1296.5 463.1 1302.5 459.7 1306.5 455.5 1309.3 453.5 1310.1Z M452.5 1307.8 449.5 1308.1 446.5 1307.7 443.5 1306.8 439.5 1304.7 436.9 1302.5 434.5 1299.8 432.9 1297.5 431.1 1293.5 429.7 1288.5 428.8 1276.5 426.8 1264.5 426.7 1259.5 427.3 1248.5 425.9 1232.5 426.6 1227.5 428.5 1222.5 431.2 1218.5 435.3 1214.5 439.5 1211.8 444.5 1209.8 450.5 1208.6 456.5 1208.4 464.5 1209.2 472.5 1210.9 481.5 1214.1 488.4 1217.5 495.2 1222.5 502.5 1230.5 504.5 1231.7 510.5 1233.5 512 1234.5 513.9 1237.5 514.4 1242.5 513.5 1248.5 511.3 1255.5 508.1 1263.5 504 1271.5 499.7 1278.5 495.5 1283.9 491.5 1288 487.5 1290.6 485.5 1291.1 483.4 1290.5 482.2 1288.5 481.7 1284.5 483.2 1276.5 488.6 1259.5 489 1256.5 488.5 1254.3 487.7 1253.5 486.5 1253.1 482.5 1253.6 464.5 1258.6 461.5 1259.9 459.6 1261.5 458.7 1263.5 458.7 1265.5 462.8 1275.5 464.1 1279.5 465 1285.5 464.7 1291.5 463.1 1297.5 460.1 1302.5 456.5 1306Z M453.5 1305.7 450.5 1306.3 447.5 1306.2 444.5 1305.4 441.5 1304 438.5 1301.9 436.1 1299.5 434 1296.5 432.2 1292.5 430.9 1286.5 430.8 1274.5 429.4 1263.5 429.6 1248.5 427.8 1237.5 427.5 1233.5 428 1228.5 429.3 1224.5 431.6 1220.5 435.2 1216.5 439.5 1213.5 444.5 1211.3 449.5 1210.1 454.5 1209.7 461.5 1210.3 469.5 1211.9 476.9 1214.5 483.5 1217.9 488.6 1221.5 492.2 1225.5 494.3 1229.5 495 1234.5 494.4 1238.5 493 1241.5 491.3 1243.5 487.4 1246.5 482.2 1249.5 476.5 1252.1 459.7 1257.5 457.5 1259 456.2 1260.5 455.5 1262.5 455.7 1264.5 462 1277.5 463.2 1282.5 463.5 1288.5 462.8 1293.5 460.3 1299.5 457.5 1303.1Z M490.5 1281.9 488.5 1281.8 487.6 1280.5 487.2 1278.5 487.5 1275.5 489.5 1268.3 495.5 1252.9 498 1247.5 500.4 1244.5 503.5 1242.8 506.5 1242.9 507.5 1243.5 508.5 1245.4 508.7 1249.5 507.5 1255.5 505.4 1261.5 502.5 1267.7 498.5 1274.3 494.5 1279.1 492.5 1280.8Z M452.5 1304.5 449.5 1304.9 446.5 1304.5 443.5 1303.5 440.5 1301.8 436.1 1297.5 434.3 1294.5 433.1 1291.5 432 1285.5 432.6 1272.5 431.7 1262.5 431.6 1250.5 429.2 1237.5 428.9 1232.5 429.4 1228.5 430.8 1224.5 433.2 1220.5 436.5 1217.1 440.5 1214.3 445.5 1212.2 450.5 1211.1 455.5 1210.9 462.5 1211.6 468.5 1213.1 474.5 1215.3 479.5 1218 484.3 1221.5 487.1 1224.5 489.4 1228.5 490.1 1232.5 489.4 1236.5 488.1 1239.5 485.9 1242.5 482.5 1245.6 478.5 1248.2 473.5 1250.7 458.5 1255.6 455.5 1257.3 453.6 1259.5 452.9 1261.5 453.2 1264.5 454.1 1266.5 458.8 1273.5 460.7 1277.5 462.1 1282.5 462.4 1287.5 461.6 1293.5 459.5 1298.5 456.5 1302.2 454.5 1303.7Z M496.5 1267.5 495.9 1266.5 496.5 1264 498.5 1260.5 499.5 1259.8 499.9 1260.5 499.5 1262.9 498.5 1265.1Z M450.5 1303.6 445.5 1302.9 440.5 1300.3 436.5 1296.1 435 1293.5 433.8 1290.5 433 1284.5 434.5 1270.5 433.8 1253.5 433.1 1248.5 430.5 1237.5 430.2 1231.5 430.9 1227.5 432.6 1223.5 435.5 1219.6 439.1 1216.5 443.5 1214 447.5 1212.7 452.5 1212 457.5 1212.1 463.5 1213 468.5 1214.4 473.3 1216.5 478.3 1219.5 481.7 1222.5 484.8 1226.5 485.9 1229.5 486.2 1233.5 485.5 1236.5 484 1239.5 481.6 1242.5 478.1 1245.5 474.5 1247.8 470.5 1249.6 456.2 1254.5 453.1 1256.5 450.7 1259.5 450.2 1261.5 450.7 1264.5 451.8 1266.5 456.7 1272.5 459.1 1276.5 460.9 1281.5 461.5 1286.5 460.8 1292.5 459.8 1295.5 458.2 1298.5 456.5 1300.6 454.5 1302.3 452.5 1303.2Z M453.5 1301.6 451.5 1302.3 448.5 1302.4 445.5 1301.7 442.5 1300.3 438.1 1296.5 436.1 1293.5 434.9 1290.5 434.2 1287.5 434 1283.5 436.7 1268.5 436.4 1258.5 435.5 1251.5 432.1 1239.5 431.2 1233.5 431.6 1229.5 432.8 1225.5 435.3 1221.5 438.2 1218.5 441.5 1216.2 445.5 1214.3 449.5 1213.3 454.5 1212.9 460.5 1213.5 465.5 1214.7 470.2 1216.5 474.5 1219 478.6 1222.5 480.9 1225.5 482.3 1228.5 482.9 1232.5 482.4 1235.5 481.1 1238.5 478.9 1241.5 475.6 1244.5 472.5 1246.5 468.5 1248.5 456.5 1252.5 453.5 1253.8 449.8 1256.5 447.7 1259.5 447.3 1262.5 447.8 1264.5 449.2 1266.5 454.5 1271.7 456.8 1274.5 459 1278.5 460.4 1283.5 460.5 1289.5 459.2 1294.5 457 1298.5 455.5 1300.2Z M442.5 1259.2 441.5 1259.3 440.5 1258.2 439.5 1256.3 434.2 1242.5 432.7 1237.5 432.3 1233.5 432.7 1229.5 434 1225.5 435.8 1222.5 438.5 1219.5 442.5 1216.7 446.5 1215 451.5 1214 456.5 1213.9 462.5 1214.9 467.5 1216.6 472.5 1219.5 474.9 1221.5 477.4 1224.5 479 1227.5 479.6 1229.5 479.8 1232.5 479.6 1234.5 478.5 1237.5 477.3 1239.5 474.7 1242.5 470.5 1245.6 465.5 1248 451.5 1252.8 447 1255.5Z M452.5 1300.9 450.5 1301.4 447.5 1301.2 444.5 1300.2 442.5 1299.1 438.5 1295.3 436.8 1292.5 435.6 1289.5 435 1284.5 435.6 1279.5 438.5 1270.6 440.5 1266.1 441.5 1264.9 442.5 1264.7 443.5 1265.1 453.5 1272.3 456.5 1275.8 458.8 1280.5 459.8 1286.5 459 1292.5 457.9 1295.5 456.5 1297.7 454.5 1299.7Z M446.5 1252.8 443.5 1253.2 441.5 1252.4 440.5 1251.5 437.5 1246.8 434.7 1240.5 433.5 1235.5 433.4 1231.5 434.3 1227.5 436.4 1223.5 438.9 1220.5 442.5 1217.8 446.5 1216 451.5 1214.9 456.5 1214.9 461.5 1215.7 466.5 1217.5 470 1219.5 472.4 1221.5 474.9 1224.5 476 1226.5 476.9 1229.5 476.9 1234.5 475.8 1237.5 474.5 1239.5 471.5 1242.7 466.5 1245.9 461.5 1247.9Z M452.5 1299.8 450.5 1300.3 448.5 1300.2 445.6 1299.5 443.5 1298.5 440.9 1296.5 439.2 1294.5 436.6 1289.5 436 1284.5 436.7 1279.5 439.5 1273 440.5 1271.5 442.5 1269.8 444.5 1269.5 446.5 1269.9 451.5 1272.2 455.5 1275.9 458 1280.5 458.8 1283.5 459.1 1286.5 458.2 1292.5 456.9 1295.5 455.5 1297.5Z M450.5 1249.7 446.5 1250.4 443.5 1250.2 440.5 1248.2 438.5 1245.6 435.9 1240.5 434.6 1235.5 434.7 1230.5 435.9 1226.5 437.6 1223.5 440.4 1220.5 443.5 1218.4 447.5 1216.7 451.5 1215.8 455.5 1215.7 460.5 1216.5 464.5 1217.8 467.6 1219.5 470.2 1221.5 473.2 1225.5 474.3 1228.5 474.7 1231.5 474.4 1234.5 473.8 1236.5 471.2 1240.5 469.1 1242.5 466.1 1244.5 460.5 1246.9Z M452.5 1298.7 450.5 1299.2 448.5 1299.2 446.5 1298.7 443.9 1297.5 440.5 1294.5 439.1 1292.5 437.7 1289.5 437 1284.5 437.9 1279.5 440.5 1274.4 443.5 1272.1 445.5 1271.7 447.5 1272 451.5 1273.6 453.5 1275.1 455.5 1277.4 457.5 1281.5 458.3 1286.5 457.7 1291.5 455.5 1296.1Z M453.5 1247.5 446.5 1248.5 443.5 1247.9 441.5 1246.6 439.5 1244.5 437.2 1240.5 435.8 1236.5 435.5 1232.5 436 1229.5 437.1 1226.5 439 1223.5 441.5 1220.9 444.5 1219 448.1 1217.5 451.5 1216.8 455.5 1216.7 459.5 1217.3 462.5 1218.2 465.3 1219.5 468 1221.5 469.9 1223.5 471.6 1226.5 472.4 1229.5 472.6 1232.5 472 1235.5 471.2 1237.5 469.8 1239.5 467.5 1241.8 465.1 1243.5 461.5 1245.2Z M452.5 1297.5 450.5 1298.2 448.5 1298.1 444.5 1296.7 441 1293.5 438.9 1289.5 438 1285.5 438.8 1280.5 440.1 1277.5 441.5 1275.7 444.5 1273.7 447.5 1273.6 451.5 1274.9 454.5 1277.6 456.7 1281.5 457.5 1285.5 457.2 1290.5 455.5 1294.6 453.9 1296.5Z M451.5 1246.6 447.5 1246.8 444.5 1246.3 441.6 1244.5 439.8 1242.5 438 1239.5 436.8 1235.5 436.6 1232.5 437.4 1228.5 438.9 1225.5 440.5 1223.3 443.5 1220.7 446.5 1219.1 449.5 1218.1 453.5 1217.6 457.5 1217.9 460.5 1218.6 463.5 1219.9 466 1221.5 468 1223.5 469.3 1225.5 470.1 1227.5 470.6 1230.5 470.6 1233.5 470.1 1235.5 467.8 1239.5 463.5 1242.9 458.5 1245.1Z M451.5 1296.9 448.5 1297 446.5 1296.5 444.5 1295.4 441.6 1292.5 439.7 1288.5 439.2 1284.5 440 1280.5 442.5 1276.8 445.5 1275.2 449.5 1275.3 452.5 1276.9 454.8 1279.5 456.5 1283.5 456.8 1287.5 456.1 1291.5 454.5 1294.5 453.5 1295.6Z M455.5 1244.7 448.5 1245.4 445.5 1244.9 443.5 1244 441.5 1242.4 440 1240.5 438.9 1238.5 438 1235.5 438.1 1230.5 439.1 1227.5 440.5 1225.1 444.5 1221.3 447.5 1219.8 450.5 1218.9 456.5 1218.8 459.5 1219.4 462.2 1220.5 466.1 1223.5 467.5 1225.5 468.6 1228.5 468.9 1233.5 468 1236.5 466.7 1238.5 464.8 1240.5 461.8 1242.5Z M451.5 1295.7 448.5 1295.9 445.2 1294.5 442.5 1291.7 441 1288.5 440.4 1284.5 441 1281.5 442.8 1278.5 445.5 1276.7 448.5 1276.5 451.5 1277.4 453.7 1279.5 455.5 1282.9 456.1 1286.5 455.6 1290.5 454.1 1293.5Z M455.5 1243.6 449.5 1244.1 446.5 1243.7 444.5 1242.9 442.5 1241.5 440.9 1239.5 439.2 1235.5 439 1233.5 439.3 1230.5 440.4 1227.5 441.7 1225.5 445.5 1222 450.5 1220 453.5 1219.7 456.5 1219.9 461.5 1221.5 465.1 1224.5 467 1228.5 467.3 1233.5 466.8 1235.5 465.5 1237.8 464 1239.5 461.5 1241.3 458.5 1242.7Z M450.5 1294.7 447.9 1294.5 445.5 1293.2 443.2 1290.5 442 1287.5 441.7 1284.5 442.4 1281.5 443.8 1279.5 446.5 1278 449.5 1277.9 451.5 1278.8 453.5 1280.7 455.1 1284.5 455.3 1287.5 454.5 1290.9 452.8 1293.5Z M454.5 1242.6 449.5 1242.8 447.4 1242.5 445 1241.5 443.5 1240.5 441.8 1238.5 440.4 1234.5 440.3 1232.5 440.9 1229.5 443.2 1225.5 445.4 1223.5 447.5 1222.2 452.5 1220.8 457.5 1221.2 461.5 1222.9 463.4 1224.5 464.8 1226.5 465.9 1230.5 465.6 1234.5 464.7 1236.5 463.2 1238.5 459.5 1241.1Z M451.5 1293 449.5 1293.4 446.8 1292.5 444.8 1290.5 443.7 1288.5 443.1 1285.5 443.5 1282.8 444.5 1281 446.5 1279.6 448.5 1279.2 450.5 1279.6 452.5 1281.1 453.8 1283.5 454.3 1285.5 454.2 1288.5 453.5 1290.7Z M453.5 1241.6 448.5 1241.4 446.5 1240.7 444.6 1239.5 442.3 1236.5 441.7 1232.5 442.8 1228.5 445.5 1225 449.5 1222.7 454.5 1222 458.5 1222.8 460.5 1223.8 462.4 1225.5 464.1 1228.5 464.5 1232.5 463.7 1235.5 461.4 1238.5 458.1 1240.5Z M450.5 1291.7 448.5 1291.6 447.5 1291.1 445.9 1289.5 445 1287.5 444.7 1285.5 445 1283.5 446.5 1281.5 447.5 1281.1 450.5 1281.2 452 1282.5 453 1284.5 453.3 1286.5 452.7 1289.5 451.5 1291.2Z M457.5 1239.5 453.5 1240.4 449.5 1240.2 446.5 1239.1 444.5 1237.2 443.3 1234.5 443.5 1230.6 445 1227.5 447.5 1225.2 451.5 1223.4 455.5 1223.3 459 1224.5 461.5 1226.6 462.6 1228.5 463 1230.5 462.6 1234.5 460.7 1237.5Z M449.5 1289.5 447.7 1288.5 446.8 1286.5 446.9 1284.5 447.5 1283.6 448.5 1283.1 450.5 1283.4 451.7 1285.5 451.5 1288.1 450.5 1289.3Z M456.5 1238.6 453.5 1239.2 449.5 1238.8 446.9 1237.5 445.3 1235.5 444.8 1232.5 445.5 1229.7 447 1227.5 449.5 1225.6 452.5 1224.7 456.5 1224.9 459.4 1226.5 461 1228.5 461.6 1231.5 461.1 1234.5 459.5 1236.8Z M454.5 1237.7 451.5 1237.8 449.5 1237.2 447.4 1235.5 446.6 1233.5 447 1230.5 448.3 1228.5 450.5 1226.9 452.5 1226.2 455.5 1226.3 457.5 1227.1 459 1228.5 459.9 1230.5 459.8 1233.5 458.7 1235.5 456.5 1237.1Z M455.5 1235.7 453.5 1236.1 451.5 1235.9 449.4 1234.5 448.9 1233.5 448.9 1231.5 450.5 1229.2 452.5 1228.2 454.5 1228.1 456 1228.5 457.3 1229.5 458 1231.5 457.8 1233.5 457.2 1234.5Z"/>
</g>
<ellipse cx="437" cy="1228" rx="12.5" ry="21.25" transform="rotate(20 437 1228)" fill="url(#sh)" opacity="0.3"/>
<ellipse cx="455" cy="1214" rx="22.5" ry="7.5" transform="rotate(0 455 1214)" fill="url(#sh)" opacity="0.3"/>
<ellipse cx="440" cy="1290" rx="6.25" ry="17.5" transform="rotate(0 440 1290)" fill="url(#sh)" opacity="0.3"/>
<path d="M506.9 1269.8h1.15 M521.7 1247.3h1.15 M545.3 1214.3h1.15 M522.9 1226.4h1.15 M519.9 1247.3h1.15 M507.6 1270.8h1.15 M514.4 1276.8h1.15 M500.5 1275.8h1.15 M488 1305.5h1.15 M520.7 1265.8h1.15 M530 1234.3h1.15 M534.3 1231.1h1.15 M547.8 1212.2h1.15 M482.1 1295.7h1.15 M507.3 1305.2h1.15 M523.3 1211.4h1.15 M529.5 1207.8h1.15 M524.8 1249.6h1.15 M522.8 1248.4h1.15 M475.3 1314.8h1.15 M536.2 1237.4h1.15 M536.2 1249.6h1.15 M490 1299.9h1.15 M512.2 1251.1h1.15 M484.7 1308.4h1.15 M528.6 1278h1.15 M553.3 1233.6h1.15 M492.7 1296.7h1.15 M507.4 1270.3h1.15 M506 1282h1.15 M540.9 1222.2h1.15 M523.4 1239.7h1.15 M547.8 1216.8h1.15 M488.9 1290.7h1.15 M479 1331.5h1.15 M558.1 1186.7h1.15 M520.5 1272.3h1.15 M533.4 1223.1h1.15 M503.8 1277.6h1.15 M516.6 1266h1.15 M517.5 1269.7h1.15 M501.4 1264.7h1.15 M488.4 1318.1h1.15 M532.2 1233.1h1.15 M513.3 1288.2h1.15 M529.5 1225.6h1.15 M555.6 1222.7h1.15 M504.9 1266.8h1.15 M508.9 1251.6h1.15 M525.8 1253.3h1.15 M513.7 1238.6h1.15 M495.9 1292.9h1.15 M481.8 1298.7h1.15 M485.2 1296.2h1.15 M513.1 1308.9h1.15 M486.7 1307.3h1.15 M517.3 1281.1h1.15 M519.6 1250.4h1.15 M476.1 1326.7h1.15 M512.4 1276.8h1.15 M505.6 1268.7h1.15 M524.1 1240.6h1.15 M523.3 1249.3h1.15 M517.8 1259.7h1.15 M500.6 1272.8h1.15 M565.2 1186.7h1.15 M515.7 1255.8h1.15 M492.4 1296h1.15 M522.4 1250.8h1.15 M498.3 1275.7h1.15 M500.7 1211.2h1.15 M518.9 1210.2h1.15 M524.3 1200.8h1.15 M508.9 1214.4h1.15 M514.8 1232h1.15 M536 1201.6h1.15 M539.2 1212.3h1.15 M534.2 1233.5h1.15 M546.5 1204h1.15 M539 1209.9h1.15 M548.4 1214.6h1.15 M501.3 1173.4h1.15 M517.8 1205.1h1.15 M515.8 1241.1h1.15 M532.1 1225.4h1.15 M512.9 1222.9h1.15 M520 1196.1h1.15 M524.2 1214.3h1.15 M510.5 1232.2h1.15 M530.9 1196.4h1.15 M485.8 1224.1h1.15 M544.2 1222.7h1.15 M513.4 1204.2h1.15 M540.6 1210.1h1.15 M530.1 1223.2h1.15 M550.2 1205.8h1.15 M527.3 1218.2h1.15 M519.1 1226.8h1.15 M511.3 1220.7h1.15 M522.5 1230.5h1.15 M549.4 1228.2h1.15 M536.9 1206.4h1.15 M566.8 1245.2h1.15 M538.8 1266.5h1.15 M561.7 1236.9h1.15 M511.2 1291h1.15 M558.6 1256.1h1.15 M571.4 1241.6h1.15 M593.1 1244.4h1.15 M538.9 1256.4h1.15 M535.9 1246.1h1.15 M550.3 1227.2h1.15 M559.4 1253.3h1.15 M604.4 1240.6h1.15 M523.5 1220.4h1.15 M558.6 1261.5h1.15 M518.1 1280.9h1.15 M497.7 1218.7h1.15 M532.1 1249h1.15 M519.6 1299.3h1.15 M579.9 1256h1.15 M549.6 1250.3h1.15 M547.6 1278.2h1.15 M571.5 1268.3h1.15 M535.4 1199.1h1.15" stroke="#111" stroke-width="1.15" fill="none"/>
<rect x="394.5" y="1085.5" width="276.25" height="275.75" fill="none" stroke="#0a0a0a" stroke-width="1.3"/>
<path d="M409.5 1182.5 L508 1183.5 L507 1242 L461.5 1273.5 L410.5 1275 Z" fill="none" stroke="#0a0a0a" stroke-width="1.35" stroke-linejoin="miter"/>
<path d="M506.5 1245 L609 1246.5 L611 1322 L474 1322 L470 1273 Z" fill="none" stroke="#0a0a0a" stroke-width="1.35" stroke-linejoin="miter"/>
<path d="M394.5 1332h-4.4 M394.5 1347h-4.4 M394.5 1309.5h-4.4 M394.5 1302h-4.4 M394.5 1294.5h-4.4 M394.5 1287h-4.4 M394.5 1279.5h-4.4 M394.5 1272h-4.4 M394.5 1264.5h-4.4 M394.5 1257h-4.4 M394.5 1249.5h-4.4 M394.5 1221.8h-4.4 M394.5 1210h-4.4 M394.5 1201.7h-4.4 M394.5 1195.2h-4.4 M394.5 1189.9h-4.4 M394.5 1185.4h-4.4 M394.5 1181.5h-4.4 M394.5 1178.1h-4.4 M394.5 1155.7h-4.4 M394.5 1144.5h-4.4 M394.5 1136.5h-4.4 M394.5 1130.3h-4.4 M394.5 1125.2h-4.4 M394.5 1120.9h-4.4 M394.5 1117.2h-4.4 M394.5 1113.9h-4.4 M394.5 1091.7h-4.4 M430.4 1361.2v4.4 M417.3 1361.2v4.4 M404.2 1361.2v4.4 M450.1 1361.2v4.4 M456.6 1361.2v4.4 M463.1 1361.2v4.4 M469.7 1361.2v4.4 M476.2 1361.2v4.4 M482.8 1361.2v4.4 M489.4 1361.2v4.4 M495.9 1361.2v4.4 M502.4 1361.2v4.4 M530.4 1361.2v4.4 M542.9 1361.2v4.4 M551.7 1361.2v4.4 M558.6 1361.2v4.4 M564.2 1361.2v4.4 M569 1361.2v4.4 M573.1 1361.2v4.4 M576.8 1361.2v4.4 M599.1 1361.2v4.4 M610.3 1361.2v4.4 M618.2 1361.2v4.4 M624.4 1361.2v4.4 M629.4 1361.2v4.4 M633.7 1361.2v4.4 M637.3 1361.2v4.4 M640.6 1361.2v4.4 M662.6 1361.2v4.4" stroke="#0a0a0a" stroke-width="1.1" fill="none"/>
<path d="M394.5 1317h-7.3 M394.5 1242h-7.3 M394.5 1175h-7.3 M394.5 1111h-7.3 M443.5 1361.2v7.3 M509 1361.2v7.3 M580 1361.2v7.3 M643.5 1361.2v7.3" stroke="#000" stroke-width="1.9" fill="none"/>
<path d="M394.5 1313h-6 M394.5 1315h-8 M394.5 1317h-7 M394.5 1319h-8 M394.5 1321h-5" stroke="#000" stroke-width="1.9" fill="none"/>
<path d="M439 1361.2v6 M441.3 1361.2v8 M443.5 1361.2v7 M445.7 1361.2v8 M448 1361.2v5" stroke="#000" stroke-width="1.9" fill="none"/>
<text class="tl" transform="translate(370.63,1322.6) scale(0.9705,1)" font-size="9.7" fill="#151515"><tspan x="0" y="0">0</tspan></text>
<text class="tl" transform="translate(367.44,1247.6) scale(0.8995,1)" font-size="9.7" fill="#151515"><tspan x="0" y="0">10</tspan></text>
<text class="tl" transform="translate(376.81,1241.3) scale(1.0437,1)" font-size="9.7" fill="#151515"><tspan x="0" y="0">3</tspan></text>
<text class="tl" transform="translate(367.44,1180.6) scale(0.8995,1)" font-size="9.7" fill="#151515"><tspan x="0" y="0">10</tspan></text>
<text class="tl" transform="translate(376.98,1174.3) scale(0.9820,1)" font-size="9.7" fill="#151515"><tspan x="0" y="0">4</tspan></text>
<text class="tl" transform="translate(367.44,1116.6) scale(0.8995,1)" font-size="9.7" fill="#151515"><tspan x="0" y="0">10</tspan></text>
<text class="tl" transform="translate(376.79,1110.3) scale(1.0437,1)" font-size="9.7" fill="#151515"><tspan x="0" y="0">5</tspan></text>
<text class="tl" transform="translate(446.13,1384.85) scale(0.9705,1)" font-size="9.7" fill="#151515"><tspan x="0" y="0">0</tspan></text>
<text class="tl" transform="translate(508.84,1384.85) scale(0.8995,1)" font-size="9.7" fill="#151515"><tspan x="0" y="0">10</tspan></text>
<text class="tl" transform="translate(518.21,1378.55) scale(1.0437,1)" font-size="9.7" fill="#151515"><tspan x="0" y="0">3</tspan></text>
<text class="tl" transform="translate(579.84,1384.85) scale(0.8995,1)" font-size="9.7" fill="#151515"><tspan x="0" y="0">10</tspan></text>
<text class="tl" transform="translate(589.38,1378.55) scale(0.9820,1)" font-size="9.7" fill="#151515"><tspan x="0" y="0">4</tspan></text>
<text class="tl" transform="translate(643.34,1384.85) scale(0.8995,1)" font-size="9.7" fill="#151515"><tspan x="0" y="0">10</tspan></text>
<text class="tl" transform="translate(652.69,1378.55) scale(1.0437,1)" font-size="9.7" fill="#151515"><tspan x="0" y="0">5</tspan></text>
<text transform="translate(423.3,1152.5) scale(1.0291,1)" font-size="32.6" fill="#000"><tspan x="0" y="0">65.9</tspan></text>
<text transform="translate(588.05,1237) scale(1.0262,1)" font-size="32.6" fill="#000"><tspan x="0" y="0">8.35</tspan></text>
<text transform="translate(495.58,1062) scale(0.9846,1)" font-size="39.4" fill="#000"><tspan x="0" y="0">WT</tspan></text>
</g>
<g id="flow-dSK">
<g fill="none" stroke="#686868" stroke-width="0.95" stroke-linejoin="round">
<path d="M798.2 1313.3 793.2 1313.4 788.2 1313 784.2 1312.3 780.2 1310.9 777.2 1309.5 774 1307.2 771.8 1305.2 769.5 1302.2 767.7 1298.2 766.9 1294.2 767 1290.2 767.9 1286.2 769.7 1282.2 771.7 1279.2 781.2 1269.2 782.4 1267.2 782.8 1265.2 781.7 1263.2 780.4 1262.2 769.2 1257.6 766.2 1256 762.2 1253 759.2 1249.9 756.7 1246.2 754.8 1242.2 753.9 1239.2 753.3 1234.2 753.6 1229.2 754.7 1225.2 757.2 1220.2 760.4 1216.2 764.2 1213 768.2 1210.7 774.2 1208.6 781.2 1207.8 787.2 1208.5 793.2 1210.4 798.2 1213.4 802.2 1216.9 805.6 1221.2 808.1 1226.2 812.1 1237.2 815.2 1241.2 817.2 1242.5 820.2 1243.5 832.2 1244.5 837.2 1245.5 841.2 1246.9 846.2 1249.5 851.2 1253.5 855.3 1258.2 858.8 1264.2 860.7 1270.2 861.5 1275.2 861.5 1280.2 860.7 1285.2 859.5 1289.2 857.7 1293.2 855.1 1297.2 852.2 1300.6 848.2 1304 845.2 1305.8 841.2 1307.6 832.2 1310.1 825.2 1311.1Z M802.2 1309.3 796.2 1309.6 791.2 1309.3 786.2 1308.4 782.2 1307 778.2 1304.6 775.8 1302.2 773.7 1299.2 772.4 1296.2 771.9 1293.2 772 1290.2 772.6 1287.2 773.8 1284.2 777.2 1279.2 787.1 1269.2 788.4 1266.2 788.4 1264.2 787.3 1262.2 786 1261.2 770.2 1255.8 766.2 1253.5 763.2 1251.1 759.8 1247.2 757.5 1243.2 755.8 1238.2 755.4 1233.2 755.8 1229.2 756.6 1226.2 758.4 1222.2 760.5 1219.2 763.2 1216.4 766.2 1214.1 769.2 1212.4 773.2 1210.9 779.2 1209.8 785.2 1210.1 791.2 1211.7 796.2 1214.4 801.2 1218.9 804.8 1224.2 806.8 1229.2 809.8 1240.2 811.2 1242.9 812.4 1244.2 815.2 1246 818.2 1246.7 829.2 1246.9 835.2 1247.7 839.2 1248.8 843.2 1250.7 848.2 1254.1 852.2 1258.3 855.5 1263.2 857.9 1269.2 858.8 1273.2 859.1 1278.2 858.8 1282.2 857.5 1287.2 855.9 1291.2 853.4 1295.2 850.2 1298.9 847.2 1301.5 841.2 1304.8 836.2 1306.4 831.2 1307.5 825.2 1308.2Z M808.2 1306.3 795.2 1306.9 791.2 1306.6 787.2 1305.7 783.2 1304 780.2 1302 777.8 1299.2 776.2 1296.2 775.4 1291.2 775.8 1288.2 776.9 1285.2 778.7 1282.2 781.1 1279.2 790.4 1270.2 792 1267.2 792.5 1264.2 791.2 1261.4 789.2 1259.9 786.2 1258.8 774.2 1255.9 771.2 1254.7 767.2 1252.4 764.2 1250 761.7 1247.2 759.7 1244.2 758.3 1241.2 757.1 1236.2 756.9 1232.2 757.6 1228.2 759.1 1224.2 761.6 1220.2 764.5 1217.2 768.2 1214.5 772.2 1212.7 778.2 1211.3 784.2 1211.4 790.2 1212.9 795.2 1215.5 800.2 1220 803.7 1225.2 805.8 1231.2 808.2 1243.1 809.3 1245.2 811.1 1247.2 813.2 1248.4 816.2 1249 827.2 1248.7 832.2 1249 836.2 1249.8 840.2 1251.2 845.2 1254.1 849.2 1257.5 852.9 1262.2 855.4 1267.2 856.6 1271.2 857.2 1275.2 857.2 1280.2 856.5 1284.2 855.2 1288.2 853.2 1292.2 850.2 1296.2 847.2 1299.1 841.2 1302.8 833.2 1305.1 826.2 1306Z M807.2 1304.3 796.2 1304.8 792.2 1304.4 788.2 1303.5 785.2 1302.2 782.4 1300.2 780.6 1298.2 778.9 1295.2 778.4 1293.2 778.3 1290.2 779.8 1285.2 783.4 1280.2 791 1273.2 793.7 1270.2 795.3 1267.2 795.8 1263.2 794.6 1260.2 792.2 1258.6 789.2 1257.7 777.2 1255.5 772.2 1253.8 769.2 1252.3 764.2 1248.2 761.8 1245.2 760.1 1242.2 758.7 1238.2 758.2 1233.2 758.6 1229.2 760 1225.2 762.4 1221.2 765.2 1218.2 768.2 1215.9 772.2 1213.9 777.2 1212.6 783.2 1212.4 789.2 1213.7 794.2 1216.2 799.2 1220.7 802.8 1226.2 804.7 1232.2 806.6 1245.2 807.4 1247.2 809 1249.2 811.2 1250.4 814.2 1251 830.2 1250.4 835.2 1251.2 839.2 1252.5 844.2 1255.2 847.9 1258.2 851.2 1262.2 853.9 1267.2 855.1 1271.2 855.8 1275.2 855.7 1280.2 855 1284.2 853.6 1288.2 851.4 1292.2 849 1295.2 846.2 1297.9 840.2 1301.4 832.2 1303.6 825.2 1304.2Z M831.2 1302.3 826.2 1302.6 813.2 1302.2 800.2 1302.9 794.2 1302.7 790.2 1301.9 787.2 1300.7 785 1299.2 783 1297.2 781.7 1295.2 780.9 1292.2 781 1289.2 781.9 1286.2 785.3 1281.2 794.1 1273.2 796.6 1270.2 798.4 1266.2 798.9 1261.2 798.2 1259.2 797.5 1258.2 795.9 1257.2 792.2 1256.5 779.2 1254.9 772.2 1252.6 767.2 1249.6 763.1 1245.2 761.3 1242.2 759.9 1238.2 759.3 1234.2 759.6 1230.2 760.8 1226.2 762.3 1223.2 764.7 1220.2 767.2 1217.9 770.2 1216 773.2 1214.7 779.2 1213.4 783.2 1213.4 786.2 1213.9 792.2 1216.2 795.2 1218.3 798.2 1221.2 800.5 1224.2 802 1227.2 803.9 1234.2 805 1248.2 806.3 1251.2 808.2 1252.5 812.2 1253.1 827.2 1251.8 831.2 1251.9 835.2 1252.6 839.2 1254 843.2 1256.1 846.2 1258.5 849.2 1261.8 852.4 1267.2 853.5 1270.2 854.3 1274.2 854.2 1281.2 852.5 1287.2 851 1290.2 848.9 1293.2 844.2 1297.6 838.2 1300.6Z M798.2 1254.3 794.2 1254.8 788.2 1254.9 783.2 1254.5 778.2 1253.7 771.2 1251 768.2 1249.1 765.3 1246.2 763.1 1243.2 761.6 1240.2 760.8 1237.2 760.4 1233.2 760.9 1229.2 761.9 1226.2 763.6 1223.2 766.2 1220.1 769.2 1217.7 773.2 1215.7 777.2 1214.6 782.2 1214.3 786.2 1214.9 790.2 1216.3 793.6 1218.2 797 1221.2 799.9 1225.2 801.6 1229.2 802.8 1234.2 803.2 1239.2 802.9 1246.2 801.9 1251.2 800.7 1253.2Z M834.2 1300.3 827.2 1301.1 813.2 1300.4 800.2 1301.1 795.2 1300.9 792.2 1300.4 789.1 1299.2 786.2 1297.3 784.5 1295.2 783.6 1293.2 783.3 1290.2 783.6 1288.2 784.8 1285.2 787.9 1281.2 795.9 1274.2 798.6 1271.2 800.8 1267.2 803.1 1259.2 804.4 1257.2 807.2 1256.1 823.2 1253.5 828.2 1253.1 832.2 1253.4 837.2 1254.5 841.2 1256.4 845.2 1259.3 848.8 1263.2 851.5 1268.2 853.1 1274.2 853.1 1280.2 851.6 1286.2 848.8 1291.2 845 1295.2 840.2 1298.3Z M793.2 1253.3 789.2 1253.7 784.2 1253.6 776.2 1252.1 770.2 1249.2 767.2 1246.9 764.9 1244.2 763.2 1241.2 761.8 1237.2 761.4 1233.2 761.7 1230.2 762.6 1227.2 764.2 1224 766.5 1221.2 769.2 1218.9 773.2 1216.7 777.2 1215.5 781.2 1215.2 785.2 1215.6 789.2 1216.9 792.2 1218.5 795.6 1221.2 798.1 1224.2 800.2 1228.2 801.6 1233.2 802.1 1239.2 801.8 1244.2 800.7 1248.2 799.2 1250.6 797 1252.2Z M832.2 1299.3 826.2 1299.6 812.2 1298.7 799.2 1299.4 794.2 1298.9 790.2 1297.5 787.4 1295.2 785.9 1292.2 785.6 1290.2 785.9 1288.2 787.2 1285.2 789.2 1282.6 797.7 1275.2 800.5 1272.2 802.5 1269.2 805.7 1262.2 808.5 1259.2 813.3 1257.2 823.2 1254.9 829.2 1254.4 834.2 1255 838.2 1256.3 841.2 1257.8 844.5 1260.2 847.3 1263.2 849.3 1266.2 851 1270.2 851.9 1274.2 852.1 1278.2 851.5 1282.2 850.2 1286.2 848.6 1289.2 846.2 1292.3 843.2 1295 840.2 1296.8 836.2 1298.4Z M791.2 1252.4 783.2 1252.6 779.2 1252 775.2 1250.8 772.2 1249.4 769.2 1247.4 767 1245.2 764.8 1242.2 763.4 1239.2 762.7 1236.2 762.5 1232.2 763 1229.2 764.1 1226.2 766 1223.2 768.2 1220.9 771.2 1218.7 774.4 1217.2 778.2 1216.3 782.2 1216.1 786.2 1216.8 790 1218.2 793.1 1220.2 795.3 1222.2 797.6 1225.2 799.5 1229.2 800.8 1234.2 801.1 1239.2 800.5 1244.2 799.2 1247.6 797.2 1250 794.2 1251.7Z M835.2 1297.3 828.2 1298.1 814.2 1297 801.2 1297.6 796.2 1297.3 792.6 1296.2 789.7 1294.2 788.5 1292.2 788.1 1289.2 788.6 1287.2 790.4 1284.2 793.2 1281.3 799.5 1276.2 802.2 1273.5 804.5 1270.2 807.8 1264.2 810.3 1261.2 815.2 1258.6 822.2 1256.5 828.2 1255.7 833.2 1256.1 837.2 1257.2 840.2 1258.6 843.2 1260.7 845.9 1263.2 848 1266.2 849.5 1269.2 850.4 1272.2 850.9 1276.2 850.7 1280.2 850.1 1283.2 848.9 1286.2 847.1 1289.2 844.5 1292.2 842 1294.2 839.2 1295.8Z M791.2 1251.3 787.2 1251.8 783.2 1251.7 776.2 1250.2 773.2 1248.9 770.2 1247 768.2 1245.2 766 1242.2 764.5 1239.2 763.7 1236.2 763.4 1233.2 763.8 1230.2 764.8 1227.2 766.5 1224.2 768.2 1222.2 771.2 1219.8 774.3 1218.2 778.2 1217.2 782.2 1217 785.2 1217.5 788.2 1218.5 791.5 1220.2 794.2 1222.5 796.5 1225.2 798.5 1229.2 799.6 1233.2 800.1 1238.2 799.7 1242.2 798.9 1245.2 797 1248.2 794.3 1250.2Z M833.2 1296.3 826.2 1296.6 813.2 1295 801.2 1295.7 797.2 1295.4 794.2 1294.5 792.2 1293.1 791.1 1291.2 790.9 1288.2 792.2 1285.4 794.1 1283.2 801.5 1277.2 804.5 1274.2 810 1265.2 813.2 1261.9 817.2 1259.7 823.2 1257.8 828.2 1257 833.2 1257.4 837.2 1258.5 840.2 1260 843.2 1262.2 845.2 1264.2 847.3 1267.2 848.6 1270.2 849.5 1273.2 849.8 1277.2 849.4 1281.2 848.4 1284.2 845.2 1289.6 843.2 1291.6 840.2 1293.8 837.2 1295.2Z M790.2 1250.4 787.2 1250.8 783.2 1250.8 776.2 1249.2 770.9 1246.2 768.2 1243.7 766.5 1241.2 765.2 1238.2 764.6 1235.2 764.5 1232.2 765.1 1229.2 766.2 1226.5 767.7 1224.2 769.6 1222.2 772.2 1220.3 775.2 1218.9 778.2 1218.1 782.2 1218 785.2 1218.4 788.2 1219.5 791.3 1221.2 793.6 1223.2 795.9 1226.2 797.8 1230.2 798.8 1234.2 799.1 1238.2 798.6 1242.2 797.5 1245.2 796.2 1247.2 793.5 1249.2Z M835.2 1294.4 832.2 1295 828.2 1295.1 813.2 1293 803.2 1293.5 799.2 1293.4 797.2 1292.9 795.2 1291.7 794.2 1290.2 794.1 1288.2 794.9 1286.2 796.4 1284.2 803.9 1278.2 806.2 1275.9 812.2 1266.2 815 1263.2 818.2 1261.2 823.2 1259.3 828.2 1258.4 832.2 1258.5 835.2 1259.1 838.2 1260.3 841.2 1262.1 843.2 1263.8 845.3 1266.2 847 1269.2 848.1 1272.2 848.6 1275.2 848.1 1281.2 847.1 1284.2 845.4 1287.2 841.2 1291.5 838.2 1293.3Z M790.2 1249.3 784.2 1249.9 780.2 1249.4 777.2 1248.6 774.2 1247.2 771.2 1245.3 767.7 1241.2 765.8 1236.2 765.5 1233.2 765.9 1230.2 767 1227.2 768.2 1225.2 770 1223.2 772.2 1221.4 775.2 1219.9 778.2 1219.1 781.2 1218.9 784.2 1219.2 787.2 1220.1 790.2 1221.7 792.2 1223.3 794.8 1226.2 796.4 1229.2 797.6 1233.2 798 1237.2 797.7 1241.2 796.7 1244.2 795.2 1246.4 793.2 1248Z M833.2 1293.3 830.2 1293.6 826.2 1293.4 813.2 1290.4 801.2 1290.3 799.3 1289.2 798.8 1288.2 798.9 1287.2 800.1 1285.2 806.2 1280 808.2 1277.8 813.6 1268.2 816.9 1264.2 820.2 1262.1 825.2 1260.3 829.2 1259.7 833.2 1260 836.2 1260.8 839.2 1262.2 842 1264.2 843.8 1266.2 846.6 1271.2 847.3 1274.2 847.5 1277.2 847.1 1280.2 846.2 1283.1 843.2 1287.9 839.1 1291.2 836.2 1292.6Z M789.2 1248.4 783.2 1248.8 777.2 1247.6 772.2 1244.8 770.2 1242.9 768.4 1240.2 766.8 1235.2 767.1 1230.2 769.2 1225.7 771.2 1223.5 773.2 1222 778.2 1220.1 781.2 1219.8 784.6 1220.2 787.5 1221.2 790.2 1222.9 792.2 1224.7 794.2 1227.2 795.7 1230.2 796.7 1234.2 797 1238.2 796.5 1241.2 795.8 1243.2 794.2 1245.6 792.2 1247.2Z M835.2 1291.3 830.2 1292 824.2 1291.2 814.3 1287.2 811.2 1285.5 810.3 1284.2 810.7 1281.2 813.6 1273.2 815.5 1269.2 818.8 1265.2 823.2 1262.6 826.2 1261.6 830.2 1261.1 833.2 1261.3 836.2 1262.1 839.2 1263.7 841.3 1265.2 843.8 1268.2 845.2 1271.1 846.1 1274.2 846.3 1277.2 845.8 1280.2 844.8 1283.2 843.2 1285.8 840.9 1288.2 838.2 1290.1Z M788.2 1247.5 783.2 1247.8 777.2 1246.5 773.2 1244.2 771.1 1242.2 769.7 1240.2 768.7 1238.2 767.9 1235.2 768.2 1230.2 770.2 1226.2 772 1224.2 774.2 1222.6 779.2 1221 782.2 1220.9 785.2 1221.5 788.2 1222.8 790.2 1224.2 793.5 1228.2 794.9 1231.2 795.6 1234.2 795.8 1238.2 795.3 1241.2 794.2 1243.5 792.8 1245.2 791.2 1246.4Z M832.2 1290.3 829.2 1290.4 826.2 1289.9 823.2 1288.9 820.2 1287.3 816.6 1284.2 815.5 1282.2 815.1 1280.2 815.2 1277.2 815.8 1274.2 816.9 1271.2 818.7 1268.2 820.6 1266.2 823.2 1264.4 826.2 1263.2 829.2 1262.6 832.2 1262.6 835.2 1263.2 838.2 1264.6 840.2 1266.1 842.2 1268.2 843.5 1270.2 844.9 1275.2 844.5 1280.2 843.3 1283.2 841.9 1285.2 839.9 1287.2 837.2 1288.9Z M788.2 1246.3 783.2 1246.7 780.2 1246.3 777.2 1245.3 773.2 1242.8 770.4 1239.2 769.1 1235.2 769.1 1232.2 769.5 1230.2 771.7 1226.2 775.2 1223.4 778.2 1222.2 780.2 1222 785.2 1222.6 787.2 1223.5 789.7 1225.2 792.8 1229.2 794.4 1234.2 794.7 1237.2 794.3 1240.2 793.5 1242.2 792.2 1243.9 790.6 1245.2Z M834.2 1288.3 829.2 1288.6 824.2 1287.2 820.3 1284.2 818.9 1282.2 818.1 1280.2 817.8 1278.2 817.9 1275.2 819.8 1270.2 821.3 1268.2 823.2 1266.5 827.2 1264.6 832.2 1264.1 835.2 1264.7 837.2 1265.6 839.2 1267 841.2 1269.1 843.2 1273.2 843.5 1278.2 842.2 1282.2 840.8 1284.2 838.7 1286.2Z M786.2 1245.4 781.2 1245.3 777.2 1244 773.4 1241.2 771.3 1238.2 770.3 1234.2 770.8 1230.2 771.8 1228.2 773.2 1226.4 776.2 1224.2 780.2 1223.1 783 1223.2 785.2 1223.9 789 1226.2 791.9 1230.2 793.3 1235.2 793.3 1238.2 792.8 1240.2 791.8 1242.2 790.2 1243.8 788.2 1244.9Z M835.2 1286.3 831.2 1287 828.2 1286.7 826.2 1286 824.2 1284.8 822.5 1283.2 820.8 1280.2 820.1 1276.2 821 1272.2 823.2 1269 825.2 1267.4 827.2 1266.4 831.2 1265.6 835.2 1266.3 837.2 1267.3 839.2 1269 841.4 1272.2 842.2 1276.2 841.2 1280.7 838.6 1284.2Z M784.2 1244.3 780.2 1243.8 776.6 1242.2 773.5 1239.2 772 1236.2 771.8 1232.2 772.8 1229.2 775.2 1226.3 778.2 1224.8 782.2 1224.4 786.2 1225.8 789.2 1228.4 791.3 1232.2 792 1236.2 791.1 1240.2 789.6 1242.2 788.2 1243.2Z M835.2 1284.4 832.2 1285.1 828.2 1284.6 825.2 1282.9 823.2 1280.2 822.3 1276.2 822.9 1273.2 824.8 1270.2 827.2 1268.4 830.2 1267.4 834.2 1267.7 837.2 1269.3 839.7 1272.2 840.6 1275.2 840.1 1279.2 838.2 1282.3Z M786.2 1242.3 783.2 1242.8 779.2 1242 776.3 1240.2 774.2 1237.8 773.2 1234.2 773.5 1231.2 775.2 1228.3 777.2 1226.8 780.2 1225.8 783.2 1226 786.2 1227.4 788.8 1230.2 790.3 1234.2 790.2 1237.6 789.1 1240.2Z M834.2 1282.6 832.2 1283.1 829.2 1282.7 826.7 1281.2 825.2 1279.1 824.6 1276.2 825.2 1273.4 826.8 1271.2 829.2 1269.8 832.2 1269.3 834.2 1269.7 836.7 1271.2 838.2 1273.5 838.8 1276.2 838.2 1278.8 836.5 1281.2Z M785.2 1240.7 783.2 1241.1 780.2 1240.7 777.6 1239.2 775.8 1237.2 775 1235.2 775 1232.2 776.2 1229.7 778 1228.2 780.2 1227.5 783.2 1227.7 785.9 1229.2 787.6 1231.2 788.6 1234.2 788.4 1237.2 787.2 1239.3Z M833.2 1280.3 831.2 1280.5 829.2 1279.7 828.2 1278.8 827.5 1277.2 827.4 1276.2 827.9 1274.2 828.6 1273.2 830.2 1272.1 832.2 1271.8 833.9 1272.2 835.3 1273.2 836.2 1275.2 836.2 1277 835.8 1278.2 835 1279.2Z M784.2 1238.6 782.2 1239 780.2 1238.6 778.3 1237.2 777.6 1236.2 776.9 1234.2 777.2 1232.2 778.2 1230.7 779.2 1229.9 781.2 1229.4 783.2 1229.9 785.1 1231.2 785.8 1232.2 786.4 1234.2 786.3 1236.2 785.2 1237.9Z"/>
</g>
<ellipse cx="781" cy="1233.5" rx="27.5" ry="26.25" transform="rotate(0 781 1233.5)" fill="url(#sh)" opacity="0.24"/>
<ellipse cx="848" cy="1280" rx="8.75" ry="22.5" transform="rotate(-20 848 1280)" fill="url(#sh)" opacity="0.3"/>
<ellipse cx="825" cy="1300" rx="27.5" ry="7.5" transform="rotate(-15 825 1300)" fill="url(#sh)" opacity="0.3"/>
<path d="M880.8 1222.2h1.15 M864.9 1266.9h1.15 M850.8 1247.6h1.15 M858.4 1279h1.15 M860.7 1268.3h1.15 M861.3 1278.8h1.15 M859.5 1236.6h1.15 M870.5 1317.8h1.15 M872 1224.4h1.15 M854.2 1336.8h1.15 M873.2 1262.5h1.15 M884.1 1310.1h1.15 M893.8 1283.4h1.15 M882.6 1249.2h1.15 M881.1 1255.5h1.15 M847.1 1195.4h1.15 M906 1295.2h1.15 M892.3 1280.6h1.15 M883.1 1234.8h1.15 M852 1245.3h1.15 M864 1241.4h1.15 M848.6 1281.2h1.15 M889.8 1308.2h1.15 M914.8 1247.1h1.15 M890.1 1262.7h1.15 M884.8 1321.3h1.15 M914.8 1279.1h1.15 M900.6 1282.8h1.15 M874.2 1258.8h1.15 M862 1307.6h1.15 M857.3 1252.8h1.15 M873.6 1240.7h1.15 M912.2 1280h1.15 M828.4 1236.8h1.15 M897.2 1250.1h1.15 M881.6 1272.1h1.15 M881.6 1246.3h1.15 M877.3 1267.9h1.15 M859.6 1274.6h1.15 M880.4 1274.1h1.15 M893.9 1262.1h1.15 M855.3 1290.6h1.15 M889.2 1235.6h1.15 M854.4 1276.2h1.15 M892.3 1219.9h1.15 M852.9 1210.3h1.15 M865.1 1219.7h1.15 M874.3 1183.4h1.15 M890.9 1204.9h1.15 M889 1187.3h1.15 M876.5 1218.7h1.15 M885.2 1224.9h1.15 M878.9 1217.2h1.15 M862.2 1198.5h1.15 M868.5 1197.2h1.15 M863 1210.1h1.15 M856.7 1192.7h1.15 M885.8 1206.2h1.15 M855.2 1201.3h1.15 M847.7 1221.4h1.15 M853.9 1220.7h1.15 M872.9 1213.5h1.15 M853.3 1200.8h1.15 M899.9 1210.9h1.15 M849.6 1217.8h1.15 M902.2 1201.1h1.15 M871.7 1216.7h1.15 M846.4 1227.2h1.15 M857.2 1178.7h1.15 M858.4 1195.3h1.15 M844.3 1301h1.15 M753.6 1305h1.15 M769.7 1311.9h1.15 M827.5 1299.8h1.15 M777.2 1313.6h1.15 M759.6 1315.3h1.15 M803.3 1313.8h1.15 M789.7 1315.6h1.15 M830.2 1309.4h1.15 M827 1311.8h1.15 M742.9 1320.9h1.15 M801.5 1321h1.15 M779.8 1311.2h1.15 M777.8 1300.1h1.15 M801 1323.3h1.15 M798.9 1308.5h1.15 M774 1300.5h1.15 M800.4 1315.7h1.15 M758.3 1271.8h1.15 M756.7 1256.5h1.15 M768.6 1300.8h1.15 M760.7 1252.9h1.15 M757.4 1306.3h1.15 M766 1347h1.15 M765.3 1283.8h1.15 M760.1 1235.1h1.15 M765.1 1237.9h1.15 M759.5 1271.6h1.15" stroke="#111" stroke-width="1.15" fill="none"/>
<rect x="719.25" y="1084.25" width="276.5" height="276.5" fill="none" stroke="#0a0a0a" stroke-width="1.3"/>
<path d="M734.25 1181.25 L832.75 1182.25 L831.75 1240.75 L786.25 1272.25 L735.25 1273.75 Z" fill="none" stroke="#0a0a0a" stroke-width="1.35" stroke-linejoin="miter"/>
<path d="M831.25 1243.75 L933.75 1245.25 L935.75 1320.75 L798.75 1320.75 L794.75 1271.75 Z" fill="none" stroke="#0a0a0a" stroke-width="1.35" stroke-linejoin="miter"/>
<path d="M719.2 1331h-4.4 M719.2 1346h-4.4 M719.2 1308.5h-4.4 M719.2 1301h-4.4 M719.2 1293.5h-4.4 M719.2 1286h-4.4 M719.2 1278.5h-4.4 M719.2 1271h-4.4 M719.2 1263.5h-4.4 M719.2 1256h-4.4 M719.2 1248.5h-4.4 M719.2 1220.8h-4.4 M719.2 1209h-4.4 M719.2 1200.7h-4.4 M719.2 1194.2h-4.4 M719.2 1188.9h-4.4 M719.2 1184.4h-4.4 M719.2 1180.5h-4.4 M719.2 1177.1h-4.4 M719.2 1154.7h-4.4 M719.2 1143.5h-4.4 M719.2 1135.5h-4.4 M719.2 1129.3h-4.4 M719.2 1124.2h-4.4 M719.2 1119.9h-4.4 M719.2 1116.2h-4.4 M719.2 1112.9h-4.4 M719.2 1090.7h-4.4 M754.8 1360.8v4.4 M741.6 1360.8v4.4 M728.4 1360.8v4.4 M774.6 1360.8v4.4 M781.2 1360.8v4.4 M787.8 1360.8v4.4 M794.4 1360.8v4.4 M801 1360.8v4.4 M807.6 1360.8v4.4 M814.2 1360.8v4.4 M820.8 1360.8v4.4 M827.4 1360.8v4.4 M855.1 1360.8v4.4 M867.4 1360.8v4.4 M876.1 1360.8v4.4 M882.9 1360.8v4.4 M888.5 1360.8v4.4 M893.2 1360.8v4.4 M897.2 1360.8v4.4 M900.8 1360.8v4.4 M923.3 1360.8v4.4 M934.5 1360.8v4.4 M942.5 1360.8v4.4 M948.7 1360.8v4.4 M953.8 1360.8v4.4 M958.1 1360.8v4.4 M961.8 1360.8v4.4 M965.1 1360.8v4.4 M987.3 1360.8v4.4" stroke="#0a0a0a" stroke-width="1.1" fill="none"/>
<path d="M719.2 1316h-7.3 M719.2 1241h-7.3 M719.2 1174h-7.3 M719.2 1110h-7.3 M768 1360.8v7.3 M834 1360.8v7.3 M904 1360.8v7.3 M968 1360.8v7.3" stroke="#000" stroke-width="1.9" fill="none"/>
<path d="M719.2 1312h-6 M719.2 1314h-8 M719.2 1316h-7 M719.2 1318h-8 M719.2 1320h-5" stroke="#000" stroke-width="1.9" fill="none"/>
<path d="M763.5 1360.8v6 M765.8 1360.8v8 M768 1360.8v7 M770.2 1360.8v8 M772.5 1360.8v5" stroke="#000" stroke-width="1.9" fill="none"/>
<text class="tl" transform="translate(695.38,1321.6) scale(0.9705,1)" font-size="9.7" fill="#151515"><tspan x="0" y="0">0</tspan></text>
<text class="tl" transform="translate(692.19,1246.6) scale(0.8995,1)" font-size="9.7" fill="#151515"><tspan x="0" y="0">10</tspan></text>
<text class="tl" transform="translate(701.56,1240.3) scale(1.0437,1)" font-size="9.7" fill="#151515"><tspan x="0" y="0">3</tspan></text>
<text class="tl" transform="translate(692.19,1179.6) scale(0.8995,1)" font-size="9.7" fill="#151515"><tspan x="0" y="0">10</tspan></text>
<text class="tl" transform="translate(701.73,1173.3) scale(0.9820,1)" font-size="9.7" fill="#151515"><tspan x="0" y="0">4</tspan></text>
<text class="tl" transform="translate(692.19,1115.6) scale(0.8995,1)" font-size="9.7" fill="#151515"><tspan x="0" y="0">10</tspan></text>
<text class="tl" transform="translate(701.54,1109.3) scale(1.0437,1)" font-size="9.7" fill="#151515"><tspan x="0" y="0">5</tspan></text>
<text class="tl" transform="translate(770.63,1384.35) scale(0.9705,1)" font-size="9.7" fill="#151515"><tspan x="0" y="0">0</tspan></text>
<text class="tl" transform="translate(833.84,1384.35) scale(0.8995,1)" font-size="9.7" fill="#151515"><tspan x="0" y="0">10</tspan></text>
<text class="tl" transform="translate(843.21,1378.05) scale(1.0437,1)" font-size="9.7" fill="#151515"><tspan x="0" y="0">3</tspan></text>
<text class="tl" transform="translate(903.84,1384.35) scale(0.8995,1)" font-size="9.7" fill="#151515"><tspan x="0" y="0">10</tspan></text>
<text class="tl" transform="translate(913.38,1378.05) scale(0.9820,1)" font-size="9.7" fill="#151515"><tspan x="0" y="0">4</tspan></text>
<text class="tl" transform="translate(967.84,1384.35) scale(0.8995,1)" font-size="9.7" fill="#151515"><tspan x="0" y="0">10</tspan></text>
<text class="tl" transform="translate(977.19,1378.05) scale(1.0437,1)" font-size="9.7" fill="#151515"><tspan x="0" y="0">5</tspan></text>
<text transform="translate(750.49,1156.25) scale(1.0198,1)" font-size="32.6" fill="#000"><tspan x="0" y="0">42.8</tspan></text>
<text transform="translate(913.74,1235) scale(1.0113,1)" font-size="32.6" fill="#000"><tspan x="0" y="0">44.2</tspan></text>
<text transform="translate(790.69,1062.3) scale(1.0112,1)" font-size="39.4" fill="#000"><tspan x="0" y="0">SK930</tspan></text>
</g>
<g id="flow-hC">
<g fill="none" stroke="#686868" stroke-width="0.95" stroke-linejoin="round">
<path d="M160.5 2336.9 157.5 2337.4 155.5 2337.4 152.5 2336.3 150.5 2334.9 145.9 2329.8 141.9 2322.8 137.9 2312.8 133.9 2298.8 131.1 2283.8 129.7 2270.8 129.2 2256.8 129.9 2244.8 131.9 2230.8 134.9 2216.8 138 2204.8 141.7 2194.8 145.5 2187.7 147.8 2184.8 150.5 2182 155.5 2179 161.5 2177.7 170.5 2177.9 181.5 2179.5 188.5 2181.5 195.1 2184.8 200.1 2188.8 204 2193.8 206 2197.8 207.1 2201.8 207.5 2205.8 207 2210.8 205.4 2215.8 202.7 2220.8 199.5 2224.7 192.7 2231.8 190.3 2235.8 189.4 2239.8 189.6 2243.8 190.5 2246.8 191.5 2248.1 192.5 2248.7 193.5 2248.8 195.5 2248 206.5 2240.4 220.5 2232.8 239.5 2221.1 248.5 2217 257.5 2214.1 263.5 2213 269.5 2212.7 274.5 2213 279.5 2214.1 284.5 2216 288.5 2218.2 292.5 2221.2 295.9 2224.8 299.3 2229.8 301.6 2235.8 302.3 2241.8 301.8 2247.8 299.9 2254.8 297 2260.8 292.5 2267.3 286.5 2273.3 281.5 2276.7 276.5 2279 271.5 2280.3 265.5 2280.6 242.5 2277.9 222.5 2278.4 214.5 2277.9 209.5 2276.9 205.5 2275.7 194.5 2270.4 192.5 2270.2 191.5 2270.6 189.5 2272.9 187.5 2277.6 181.2 2304.8 179 2311.8 175.7 2319.8 172.5 2325.8 168.5 2331.1 164.5 2334.8Z M160.5 2328 157.5 2328.7 154.5 2328.3 152.5 2327.5 149.5 2325.2 146.6 2321.8 144.5 2318.6 139.4 2307.8 135.1 2293.8 132.6 2280.8 131.2 2265.8 131.2 2250.8 132.9 2236.8 136.2 2222.8 141.2 2206.8 143.7 2200.8 146.3 2195.8 150.5 2190.3 152.5 2188.5 155.5 2186.6 158.5 2185.5 162.5 2184.7 170.5 2184.5 177.5 2185.4 183.5 2186.9 188.5 2189 192.5 2191.6 195.6 2194.8 198.1 2198.8 199.4 2202.8 199.6 2207.8 198.8 2211.8 196.9 2215.8 194.5 2219.2 187.1 2227.8 185.3 2230.8 184 2234.8 183.4 2241.8 184.4 2257.8 184.1 2265.8 180.2 2289.8 176.3 2304.8 172.8 2313.8 168.8 2320.8 164.5 2325.6Z M268.5 2274.8 260.5 2274.4 243.5 2271.9 222.5 2272.6 217.5 2272.2 213.5 2271.4 207.5 2268.9 203.8 2265.8 201.6 2261.8 201.3 2259.8 201.6 2256.8 202.9 2253.8 204.3 2251.8 208.5 2247.6 213.5 2244.2 226.6 2236.8 240.8 2225.8 248.7 2220.8 256.5 2217.4 263.5 2215.8 271.5 2215.4 278.5 2216.6 283.5 2218.4 288.5 2221.3 292.5 2224.8 295.7 2228.8 297.9 2232.8 299.2 2236.8 299.7 2241.8 299.3 2246.8 298 2251.8 295.7 2256.8 292.5 2261.6 288.5 2266 283.5 2269.9 278.5 2272.5 273.5 2274.2Z M160.5 2321.8 157.5 2322.5 154.5 2322.2 152.5 2321.3 149.5 2318.9 146.8 2315.8 144.5 2312.2 140.1 2302.8 136.3 2290.8 133.7 2277.8 132.4 2262.8 132.7 2249.8 134.4 2237.8 137.5 2225.5 143.1 2209.8 145.5 2204.3 148 2199.8 152 2194.8 156.5 2191.5 162.5 2189.7 170.5 2189.4 175.5 2190 180.5 2191.2 184.5 2192.9 187.5 2194.8 190.5 2197.6 192.4 2200.8 193.4 2203.8 193.5 2207.8 192.9 2210.8 191.5 2213.8 183.5 2224.8 181.5 2228.8 180.7 2231.8 180 2238.8 180.8 2257.8 180.4 2267.8 178.1 2284.8 174.9 2298.8 172.1 2306.8 168.5 2313.8 164.5 2319Z M274.5 2269.9 269.5 2270.7 263.5 2270.5 247.5 2267.7 242.5 2267.1 225.5 2267.9 219.5 2267.5 214.5 2266 211.2 2263.8 209.2 2260.8 208.9 2257.8 210.5 2253.9 213.3 2250.8 217.5 2247.8 226.9 2242.8 231.5 2239.7 235.5 2236.3 244.1 2227.8 250.7 2222.8 256.5 2219.8 262.5 2218 269.5 2217.3 275.5 2217.8 280.5 2219.2 284.5 2221 288.5 2223.7 291.5 2226.5 294.1 2229.8 296.2 2233.8 297.4 2237.8 297.8 2241.8 297.3 2246.8 296.2 2250.8 294.3 2254.8 291.5 2258.9 287.5 2263.1 283.5 2266.1 279.5 2268.2Z M159.5 2317.1 157.5 2317.5 154.5 2317.1 151.5 2315.5 149.5 2313.7 147 2310.8 144.5 2306.9 140.5 2298.3 136.9 2286.8 134.7 2274.8 133.6 2261.8 134 2249.8 135.6 2238.8 138.7 2227.8 144.5 2212.7 149.5 2203.2 153.5 2198.4 155.5 2196.8 158.5 2195.2 163.5 2193.8 170.5 2193.7 177.5 2195.1 180.5 2196.4 183.5 2198.3 185.5 2200.2 187 2202.8 187.6 2204.8 187.8 2207.8 186.2 2212.8 179.7 2223.8 177.9 2229.8 177.3 2237.8 178.2 2255.8 178.1 2265.8 176.7 2278.8 173.9 2292.8 171.1 2301.8 167.5 2309.4 163.5 2314.5Z M273.5 2266.8 268.5 2267.3 262.5 2266.9 247.5 2263.3 241.5 2262.4 227.5 2262.8 223.5 2262.5 221 2261.8 219.2 2260.8 217.7 2258.8 217.6 2256.8 218.6 2254.8 220.5 2252.7 231.5 2246.3 235.5 2243.2 247.4 2228.8 253.4 2223.8 258.5 2221.1 264.5 2219.4 270.5 2218.9 275.5 2219.5 279.5 2220.6 283.5 2222.3 287.2 2224.8 290.5 2227.8 292.8 2230.8 294.8 2234.8 295.8 2238.8 296 2242.8 295.5 2246.8 294.2 2250.8 292 2254.8 289.5 2258 286.5 2260.9 282.5 2263.6 278.5 2265.4Z M158.5 2312.9 156.5 2313 154.5 2312.6 151.5 2310.9 149.5 2309.1 144.9 2302.8 140.8 2293.8 137.7 2283.8 135.7 2272.8 134.9 2261.8 135.1 2250.8 136.6 2240.8 139.5 2230.6 144.5 2218.2 149.5 2208.5 153.5 2203.1 157.5 2200 162.5 2198.1 168.5 2197.8 174.5 2199.2 178.5 2201.4 179.9 2202.8 181.1 2204.8 181.7 2206.8 181.7 2208.8 180.6 2212.8 176.5 2222.5 175.2 2228.8 175 2235.8 176.1 2253.8 176.1 2263.8 175.1 2275.8 173 2287.8 170.1 2297.8 166.5 2305.7 162.5 2310.7 160.5 2312.1Z M274.5 2263.8 270.5 2264.4 266.5 2264.4 258.5 2262.8 252.8 2260.8 241.5 2255.8 239.5 2254.3 238.6 2252.8 239.2 2249.8 244.1 2239.8 247.3 2233.8 250.1 2229.8 253 2226.8 256.5 2224.2 259.5 2222.6 263.5 2221.3 268.5 2220.5 273.5 2220.7 278.5 2221.8 282.5 2223.5 286.5 2226.1 289.5 2228.9 292.1 2232.8 293.8 2236.8 294.4 2240.8 294 2245.8 292.8 2249.8 290.5 2253.8 287.5 2257.3 283.5 2260.3 279.5 2262.4Z M158.5 2308.8 156.5 2308.9 154.5 2308.5 151.6 2306.8 149.5 2304.8 145.5 2299.2 142 2291.8 139.4 2283.8 137.3 2273.8 136.2 2262.8 136.3 2252.8 137.5 2243.7 140.2 2233.8 144.5 2223.2 149.5 2213.6 152.8 2208.8 156.5 2205 160.5 2202.9 165.5 2202.2 169.5 2202.9 172.5 2204.5 174.5 2206.8 175.4 2209.8 175.2 2212.8 173.2 2222.8 172.8 2228.8 174.3 2253.8 174.2 2266.8 172.2 2282.8 170.6 2289.8 168.7 2295.8 166.5 2300.7 163.9 2304.8 161.5 2307.2Z M270.5 2261.8 265.5 2261.5 261.5 2260.6 257.5 2259.1 253.2 2256.8 250.5 2254.6 248.1 2251.8 247.3 2249.8 247 2246.8 247.8 2241.8 249.3 2236.8 251.2 2232.8 254.1 2228.8 257.6 2225.8 261.5 2223.6 265.5 2222.4 270.5 2221.9 275.5 2222.5 279.5 2223.6 283.5 2225.7 286.3 2227.8 289.1 2230.8 291 2233.8 292.4 2237.8 292.8 2241.8 292.3 2245.8 290.9 2249.8 289 2252.8 286.3 2255.8 283.5 2257.9 279.5 2260 275.5 2261.2Z M158.5 2304.8 156.5 2305 154.5 2304.5 150.5 2301.7 146.7 2296.8 143.5 2290.5 140.5 2281.8 138.8 2273.8 137.7 2263.8 137.6 2254.8 138.5 2246.7 140.5 2238.3 143.5 2230.2 147.5 2222.1 151.5 2215.4 155.5 2210.6 159.5 2207.9 163.5 2207.2 165.5 2207.6 167.5 2208.8 169.1 2210.8 170.1 2213.8 170.5 2229.8 172.7 2252.8 172.7 2264.8 171 2279.8 168 2291.8 166 2296.8 163.5 2301 161.5 2303.1Z M275.5 2258.9 271.5 2259.3 267.5 2259.2 261.5 2257.7 257.8 2255.8 255.3 2253.8 253.5 2251.8 252 2248.8 251.3 2245.8 251.4 2241.8 252.1 2237.8 253.5 2233.8 255.3 2230.8 257.5 2228.3 260.5 2226 263.5 2224.6 267.5 2223.6 271.5 2223.4 275.5 2223.9 279.5 2225.2 283.5 2227.4 286.3 2229.8 288.6 2232.8 290.1 2235.8 291 2238.8 291.1 2242.8 290.3 2246.8 288.5 2250.4 286.5 2253 283.2 2255.8 279.5 2257.7Z M158.5 2301 155.5 2301 153.5 2300.1 151.5 2298.7 147.6 2293.8 144.5 2287.8 142.2 2280.8 140.4 2272.8 139.5 2264.8 139.3 2255.8 139.9 2248.8 141.4 2241.8 143.5 2235.2 146.5 2228.6 150.5 2221.7 154.5 2216.5 158.5 2213.5 161.5 2212.9 163.5 2213.7 164.7 2214.8 165.8 2216.8 167 2220.8 170.7 2246.8 171.2 2254.8 171.3 2262.8 170 2276.8 167.1 2288.8 165.5 2293 163.4 2296.8 161.5 2299.1Z M274.5 2256.9 267.5 2256.8 262.5 2255.3 259.9 2253.8 257.7 2251.8 256.2 2249.8 254.9 2246.8 254.4 2243.8 254.6 2239.8 255.1 2236.8 256.1 2233.8 258 2230.8 259.9 2228.8 262.5 2227 265.5 2225.7 268.5 2225.1 272.5 2225 276.5 2225.7 279.5 2226.7 282.5 2228.5 285.1 2230.8 287.4 2233.8 288.8 2236.8 289.4 2239.8 289.2 2243.8 288.4 2246.8 286.8 2249.8 284.5 2252.4 281.5 2254.6 278.5 2256Z M159.5 2296.8 156.5 2297.4 153.5 2296.2 149.9 2292.8 146.9 2287.8 144.5 2281.8 142.7 2274.8 141.6 2266.8 141.2 2258.8 141.5 2252.2 142.4 2245.8 144 2239.8 146.3 2233.8 149.5 2227.9 153.5 2222.5 156.5 2219.8 159.5 2218.8 161.5 2219.5 162.8 2220.8 164.4 2223.8 165.6 2227.8 168.8 2243.8 169.6 2251.8 169.9 2258.8 169.2 2271.8 166.9 2283.8 165.5 2288 163.5 2292.3 161.5 2295.1Z M274.5 2254.8 268.5 2254.7 263.5 2253 261.5 2251.6 259.7 2249.8 257.6 2245.8 257.1 2242.8 257.2 2238.8 258.6 2233.8 259.9 2231.8 261.8 2229.8 264.5 2228 266.5 2227.2 269.5 2226.6 273.5 2226.6 276.5 2227.2 279.5 2228.4 282.5 2230.4 284.5 2232.5 286 2234.8 287.2 2237.8 287.6 2240.8 287.3 2243.8 286.5 2246.3 285.1 2248.8 283.4 2250.8 280.5 2252.9 277.5 2254.2Z M159.5 2292.9 158.5 2293.4 156.5 2293.6 153.5 2292.2 150.5 2289.1 148.5 2285.8 146.5 2280.8 144.9 2274.8 143.8 2267.8 143.4 2260.8 143.6 2253.8 144.3 2247.8 145.3 2242.8 147 2237.8 149.5 2232.6 152.5 2228.3 155.5 2225.5 158.5 2224.3 160.5 2225 162 2226.8 163.5 2229.5 165 2233.8 167.5 2245.8 168.5 2257.8 167.9 2269.8 166 2280.8 164.5 2285.4 163 2288.8 161.5 2291Z M273.5 2252.8 268.5 2252.4 264.5 2250.8 261.4 2247.8 259.8 2243.8 259.7 2237.8 261.1 2233.8 262.7 2231.8 264.5 2230.3 266.5 2229.2 269.5 2228.4 272.5 2228.2 275.5 2228.7 280.1 2230.8 283.5 2234.1 284.5 2235.8 285.5 2238.8 285.6 2241.8 285.3 2243.8 284 2246.8 282.5 2248.7 278.5 2251.6Z M159.5 2288.8 157.5 2289.6 154.5 2288.7 152.5 2287 150.3 2283.8 148.5 2279.8 147.1 2274.8 146.1 2268.8 145.7 2262.8 146.1 2250.8 146.9 2245.8 148.2 2240.8 150 2236.8 152.5 2233 155.5 2230.3 157.5 2229.4 159.5 2229.9 160.5 2230.7 162 2232.8 163.5 2236.1 165.9 2245.8 167 2256.8 166.7 2267.8 165.3 2276.8 162.6 2284.8 161.4 2286.8Z M276.5 2250 272.5 2250.6 267.5 2249.6 264.8 2247.8 262.8 2244.8 261.9 2240.8 262.3 2236.8 264.5 2233.2 267.5 2231.1 271.5 2230.2 274.5 2230.4 276.5 2230.9 279.6 2232.8 281.5 2234.7 282.5 2236.4 283.3 2238.8 283.5 2240.8 282.5 2244.8 280.3 2247.8Z M274.5 2248 271.5 2248.1 268.5 2247 266.5 2245.6 265 2242.8 264.5 2239.8 265.5 2236.3 267.5 2234 270.5 2232.6 273.5 2232.5 277.1 2233.8 279.3 2235.8 280.7 2238.8 280.8 2241.8 279.5 2244.8 277.5 2246.8Z M158.5 2285 156.5 2285.2 154.5 2284.2 152.5 2282.1 151.2 2279.8 149.7 2275.8 148.8 2271.8 147.8 2261.8 148.3 2250.8 150 2242.8 151.5 2239.5 153.5 2236.7 155.5 2235.1 157.5 2234.3 159.5 2235.1 160.5 2236.1 162.8 2240.8 164.8 2248.8 165.6 2257.8 165.2 2266.8 163.7 2275.8 161.5 2281.7 160.1 2283.8Z M272.5 2244.8 270.5 2244.1 269.5 2243.4 268.4 2241.8 268.2 2239.8 268.5 2238.4 269.7 2236.8 271.5 2235.8 273.5 2235.7 275.5 2236.5 276.5 2237.4 277.2 2238.8 277.4 2240.8 276.7 2242.8 275.7 2243.8 274.5 2244.4Z M158.5 2280.1 157.5 2280.4 155.5 2279.8 153.5 2277.8 152.5 2275.9 150.8 2269.8 150 2261.8 150.3 2252.8 151.7 2245.8 153.1 2242.8 154.5 2241 156.5 2239.7 157.5 2239.5 159.5 2240.5 161.8 2244.8 163.3 2250.8 163.9 2257.8 163.7 2265.8 162.5 2272.7 160.5 2277.9Z M158.5 2273.9 157.5 2274.3 156.5 2274.1 154.5 2271.9 153.1 2267.8 152.4 2261.8 152.6 2255.8 153.5 2250.2 155.3 2246.8 156.5 2245.8 157.5 2245.6 158.5 2246 159.5 2247.1 160.5 2249.3 161.5 2253.2 161.9 2257.8 161.9 2262.8 161.2 2267.8 159.9 2271.8Z"/>
</g>
<ellipse cx="136.5" cy="2264" rx="6.88" ry="37.5" transform="rotate(2 136.5 2264)" fill="url(#sh)" opacity="0.68"/>
<ellipse cx="141" cy="2228" rx="5" ry="15" transform="rotate(25 141 2228)" fill="url(#sh)" opacity="0.38"/>
<ellipse cx="297" cy="2240" rx="5" ry="17.5" transform="rotate(0 297 2240)" fill="url(#sh)" opacity="0.3"/>
<path d="M268.3 2262.9h1.15 M278.7 2322.9h1.15 M291.1 2337.7h1.15 M256.6 2292.8h1.15 M264.5 2291.2h1.15 M325.1 2323h1.15 M205.4 2297.2h1.15 M276.2 2264.5h1.15 M299.4 2290.5h1.15 M227.2 2295h1.15 M230.5 2320.6h1.15 M274.7 2291.1h1.15 M235.8 2302.6h1.15 M223.6 2303.2h1.15 M237.3 2307h1.15 M289.3 2297.2h1.15 M263.1 2306h1.15 M289 2317.4h1.15 M277 2309.3h1.15 M225 2259.3h1.15 M225.3 2366.9h1.15 M263.8 2286.1h1.15 M276.7 2302h1.15 M279.1 2314.1h1.15 M232.5 2284.3h1.15 M293.6 2280.3h1.15 M267.3 2288.4h1.15 M272.9 2316h1.15 M241.7 2323.7h1.15 M238.7 2284.4h1.15 M253.1 2302.4h1.15 M236.3 2240.8h1.15 M236.1 2305.7h1.15 M275.7 2301.7h1.15 M341.6 2312.2h1.15 M234.9 2299.9h1.15 M271.8 2313.7h1.15 M283.3 2311.1h1.15 M243.8 2330.5h1.15 M296.3 2301h1.15 M187.2 2342.1h1.15 M201.7 2314.4h1.15 M228 2328.2h1.15 M266.2 2279h1.15 M237 2321.2h1.15 M170.7 2337h1.15 M286.1 2311.9h1.15 M230.1 2347h1.15 M216.8 2320.7h1.15 M193.3 2363.2h1.15 M195.4 2334.3h1.15 M217.4 2344h1.15 M250.1 2355.8h1.15 M192.4 2312.6h1.15 M216 2308.9h1.15 M168.2 2323.3h1.15 M165.1 2320.7h1.15 M218.3 2339.2h1.15 M215.1 2319.9h1.15 M239.4 2343.6h1.15 M167.1 2196.1h1.15 M260.7 2195.3h1.15 M262.2 2200.5h1.15 M305.8 2197.4h1.15 M204.7 2201.1h1.15 M209.9 2195.2h1.15 M211.2 2184.1h1.15 M261.7 2200.1h1.15 M236.4 2174.6h1.15 M270.4 2170.5h1.15 M223.1 2200.7h1.15 M178.6 2224.2h1.15 M210.1 2191.3h1.15 M235.2 2212h1.15 M246.1 2187.6h1.15" stroke="#111" stroke-width="1.15" fill="none"/>
<rect x="91.5" y="2146.75" width="264.25" height="263.25" fill="none" stroke="#0a0a0a" stroke-width="1.3"/>
<rect x="121.75" y="2148.75" width="86.5" height="91.25" fill="none" stroke="#0a0a0a" stroke-width="1.35"/>
<rect x="233.75" y="2217.5" width="64.5" height="73.25" fill="none" stroke="#0a0a0a" stroke-width="1.35"/>
<path d="M91.5 2389.3h-4.4 M91.5 2384.9h-4.4 M91.5 2380.5h-4.4 M91.5 2376.1h-4.4 M91.5 2371.6h-4.4 M91.5 2367.2h-4.4 M91.5 2362.8h-4.4 M91.5 2358.3h-4.4 M91.5 2353.9h-4.4 M91.5 2345.2h-4.4 M91.5 2340.9h-4.4 M91.5 2336.7h-4.4 M91.5 2332.4h-4.4 M91.5 2328.1h-4.4 M91.5 2323.8h-4.4 M91.5 2319.6h-4.4 M91.5 2315.3h-4.4 M91.5 2311h-4.4 M91.5 2284.9h-4.4 M91.5 2272h-4.4 M91.5 2263h-4.4 M91.5 2255.9h-4.4 M91.5 2250.1h-4.4 M91.5 2245.3h-4.4 M91.5 2241.1h-4.4 M91.5 2237.3h-4.4 M91.5 2215h-4.4 M91.5 2203.9h-4.4 M91.5 2196.1h-4.4 M91.5 2190h-4.4 M91.5 2185h-4.4 M91.5 2180.8h-4.4 M91.5 2177.1h-4.4 M91.5 2173.9h-4.4 M91.5 2152h-4.4 M111.8 2410v4.4 M116.2 2410v4.4 M120.5 2410v4.4 M124.9 2410v4.4 M129.2 2410v4.4 M133.6 2410v4.4 M137.9 2410v4.4 M142.3 2410v4.4 M146.7 2410v4.4 M100.5 2410v4.4 M155.3 2410v4.4 M159.7 2410v4.4 M164.1 2410v4.4 M168.4 2410v4.4 M172.8 2410v4.4 M177.1 2410v4.4 M181.4 2410v4.4 M185.8 2410v4.4 M190.2 2410v4.4 M216.1 2410v4.4 M228.7 2410v4.4 M237.7 2410v4.4 M244.7 2410v4.4 M250.3 2410v4.4 M255.1 2410v4.4 M259.3 2410v4.4 M263 2410v4.4 M285.2 2410v4.4 M296.3 2410v4.4 M304.2 2410v4.4 M310.3 2410v4.4 M315.3 2410v4.4 M319.5 2410v4.4 M323.1 2410v4.4 M326.4 2410v4.4 M348.2 2410v4.4" stroke="#0a0a0a" stroke-width="1.1" fill="none"/>
<path d="M91.5 2393.8h-7.3 M91.5 2349.5h-7.3 M91.5 2306.8h-7.3 M91.5 2234h-7.3 M91.5 2171h-7.3 M107.5 2410v7.3 M151 2410v7.3 M194.5 2410v7.3 M266.2 2410v7.3 M329.2 2410v7.3" stroke="#000" stroke-width="1.9" fill="none"/>
<path d="M91.5 2345.5h-6 M91.5 2347.5h-8 M91.5 2349.5h-7 M91.5 2351.5h-8 M91.5 2353.5h-5" stroke="#000" stroke-width="1.9" fill="none"/>
<path d="M146.5 2410v6 M148.8 2410v8 M151 2410v7 M153.2 2410v8 M155.5 2410v5" stroke="#000" stroke-width="1.9" fill="none"/>
<text class="tl" transform="translate(61,2399.35) scale(0.9387,1)" font-size="9.7" fill="#151515"><tspan x="0" y="0">-10</tspan></text>
<text class="tl" transform="translate(73.81,2393.05) scale(1.0437,1)" font-size="9.7" fill="#151515"><tspan x="0" y="0">3</tspan></text>
<text class="tl" transform="translate(67.63,2355.1) scale(0.9705,1)" font-size="9.7" fill="#151515"><tspan x="0" y="0">0</tspan></text>
<text class="tl" transform="translate(64.44,2312.35) scale(0.8995,1)" font-size="9.7" fill="#151515"><tspan x="0" y="0">10</tspan></text>
<text class="tl" transform="translate(73.81,2306.05) scale(1.0437,1)" font-size="9.7" fill="#151515"><tspan x="0" y="0">3</tspan></text>
<text class="tl" transform="translate(64.44,2239.6) scale(0.8995,1)" font-size="9.7" fill="#151515"><tspan x="0" y="0">10</tspan></text>
<text class="tl" transform="translate(73.98,2233.3) scale(0.9820,1)" font-size="9.7" fill="#151515"><tspan x="0" y="0">4</tspan></text>
<text class="tl" transform="translate(64.44,2176.6) scale(0.8995,1)" font-size="9.7" fill="#151515"><tspan x="0" y="0">10</tspan></text>
<text class="tl" transform="translate(73.79,2170.3) scale(1.0437,1)" font-size="9.7" fill="#151515"><tspan x="0" y="0">5</tspan></text>
<text class="tl" transform="translate(105.4,2433.6) scale(0.9387,1)" font-size="9.7" fill="#151515"><tspan x="0" y="0">-10</tspan></text>
<text class="tl" transform="translate(118.21,2427.3) scale(1.0437,1)" font-size="9.7" fill="#151515"><tspan x="0" y="0">3</tspan></text>
<text class="tl" transform="translate(153.63,2433.6) scale(0.9705,1)" font-size="9.7" fill="#151515"><tspan x="0" y="0">0</tspan></text>
<text class="tl" transform="translate(194.34,2433.6) scale(0.8995,1)" font-size="9.7" fill="#151515"><tspan x="0" y="0">10</tspan></text>
<text class="tl" transform="translate(203.71,2427.3) scale(1.0437,1)" font-size="9.7" fill="#151515"><tspan x="0" y="0">3</tspan></text>
<text class="tl" transform="translate(266.09,2433.6) scale(0.8995,1)" font-size="9.7" fill="#151515"><tspan x="0" y="0">10</tspan></text>
<text class="tl" transform="translate(275.63,2427.3) scale(0.9820,1)" font-size="9.7" fill="#151515"><tspan x="0" y="0">4</tspan></text>
<text class="tl" transform="translate(329.09,2433.6) scale(0.8995,1)" font-size="9.7" fill="#151515"><tspan x="0" y="0">10</tspan></text>
<text class="tl" transform="translate(338.44,2427.3) scale(1.0437,1)" font-size="9.7" fill="#151515"><tspan x="0" y="0">5</tspan></text>
<text transform="translate(212.09,2175) scale(1.0118,1)" font-size="32.6" fill="#000"><tspan x="0" y="0">21.0</tspan></text>
<text transform="translate(270.85,2323.75) scale(1.0047,1)" font-size="32.6" fill="#000"><tspan x="0" y="0">20.1</tspan></text>
<text transform="translate(160.96,2127.2) scale(0.9800,1)" font-size="41" fill="#000"><tspan x="0" y="0">Control</tspan></text>
</g>
<g id="flow-hP">
<g fill="none" stroke="#686868" stroke-width="0.95" stroke-linejoin="round">
<path d="M477 2289.9 470 2290.6 464 2289.7 461 2288.2 459 2286.8 455 2282.5 450.4 2274.8 446.6 2264.8 444.2 2254.8 443 2243.8 443.3 2234.8 444.6 2225.8 447.3 2215.8 451.3 2205.8 456.4 2195.8 462 2187.4 467 2181.6 473 2176.8 478 2174.6 482 2174 488 2174.6 495 2176.5 502 2179.3 509 2183.1 525 2194.6 528 2196 532 2197 537 2197.3 542 2196.9 560 2193.4 567 2192.5 575 2192.5 583 2193.8 590 2196.3 596 2199.9 601.5 2204.8 606 2210.8 609.3 2217.8 610.8 2223.8 611.1 2230.8 609.9 2237.8 607.2 2244.8 603.5 2250.8 598 2256.7 592 2261.1 587 2263.6 581 2265.5 575 2266.3 568 2265.9 562 2264.6 556 2262.4 539.8 2253.8 533 2250.7 527 2249.1 522 2249 519 2250.2 516 2252.9 505.5 2269.8 501.5 2274.8 497.6 2278.8 492 2283.2 487 2286.2 482 2288.5Z M477 2282.8 471 2283.6 468 2283.5 465 2282.8 462 2281.3 460 2279.8 456.2 2275.8 451.9 2268.8 448.2 2259.8 445.9 2250.8 445 2241.8 445.3 2233.8 446.6 2225.8 449.3 2216.8 452.6 2208.8 457.7 2199.8 463 2192.5 468 2187.3 474 2183.2 479 2181.5 484 2181.3 490 2182.1 497 2184.2 503 2186.9 508 2189.8 522 2200.9 525 2202.5 529 2203.5 535 2203.7 543 2202.7 561 2198.3 568 2197.1 575 2196.9 582 2197.9 589 2200.5 595 2204.2 600 2208.9 604.1 2214.8 606.2 2219.8 607.5 2225.8 607.5 2231.8 606.3 2237.8 603.7 2243.8 600 2249.1 595 2254 590 2257.3 584 2259.9 578 2261.2 572 2261.4 566 2260.6 562 2259.4 557 2257.2 542 2248.1 534 2244.4 524 2241.1 521 2240.7 518 2241.1 516 2241.9 514 2243.2 511 2246.6 501.8 2262.8 498.3 2267.8 494.8 2271.8 490.5 2275.8 486 2278.9 482 2281Z M473 2278.8 467 2278.5 463 2276.8 459 2273.5 455.3 2268.8 451.5 2261.8 448.5 2253.8 446.9 2245.8 446.5 2238.8 447.1 2231.8 448.7 2223.8 451.5 2215.8 454.8 2208.8 459 2202.1 464 2195.8 469 2191.1 474 2188 479 2186.3 484 2186 490 2186.8 497 2188.9 502 2191.2 507.5 2194.8 521 2206.9 523 2208 526 2208.8 533 2208.7 545 2206.9 551 2205.4 562 2201.7 568 2200.4 575 2200 581 2200.8 588 2203.3 594 2207 599 2212 602.6 2217.8 604.4 2222.8 605.1 2227.8 604.8 2232.8 603.1 2238.8 600.5 2243.8 597 2248.2 593 2251.7 588 2254.7 583 2256.6 577 2257.7 571 2257.7 566 2256.8 562 2255.4 558 2253.4 545 2244.7 538 2241 523 2234.8 520 2234.2 517 2234.4 513 2236.3 509 2240.3 506 2244.9 497.5 2260.8 494.7 2264.8 491 2269 486.8 2272.8 482 2275.9 477 2278Z M474 2274.9 469 2275 465 2273.8 460.7 2270.8 456.4 2265.8 452.9 2259.8 450 2252.5 448.3 2244.8 447.9 2237.8 448.6 2230.8 450.2 2223.8 452.7 2216.8 456 2210.3 460 2204.3 465 2198.5 470 2194.2 475 2191.3 480 2189.9 486 2189.9 493 2191.3 499 2193.7 504 2196.6 507.9 2199.8 511.6 2203.8 519 2213.1 521 2214.6 523 2215.3 527 2215 547 2210.6 552 2209 562 2204.9 567 2203.4 572 2202.6 576 2202.6 580 2203.2 584 2204.3 588 2206 591 2207.8 594 2210.1 597 2213.1 599.5 2216.8 601 2219.8 602.7 2225.8 602.7 2231.8 601 2237.8 598.3 2242.8 594 2247.5 589 2251.1 583 2253.5 577 2254.6 570 2254.4 563 2252.3 557 2248.8 546 2240.5 532 2233.4 523 2227.7 520 2226.7 517 2227.1 515 2228.1 512 2230.3 509 2233.3 506.3 2236.8 503 2242.1 495.6 2256.8 492.4 2261.8 489.1 2265.8 486 2268.8 482 2271.8 478 2273.8Z M473 2271.8 468 2271.5 465 2270.3 463 2269 458.7 2264.8 454.6 2258.8 451.5 2251.8 449.8 2244.8 449.3 2237.8 450.1 2229.8 452.3 2221.8 456 2213.8 460.6 2206.8 466 2200.8 472 2196.1 477 2193.8 483 2192.9 489 2193.5 494 2195 499 2197.3 502.8 2199.8 506.1 2202.8 509.3 2206.8 511.9 2211.8 513 2215.8 512.8 2219.8 510.4 2224.8 502 2236.9 493.8 2253.8 489.4 2260.8 486 2264.8 482 2268.2 478 2270.5Z M576 2251.8 571 2251.5 567 2250.6 563 2248.9 559.6 2246.8 548 2236.9 537.7 2230.8 533.8 2227.8 532.3 2225.8 531.7 2223.8 532.2 2221.8 532.9 2220.8 534 2219.7 537 2218.1 549 2214.4 563 2207.3 570 2205.2 576 2204.9 581 2205.7 586 2207.4 591 2210.3 594 2212.9 596.4 2215.8 598.3 2218.8 599.6 2221.8 600.4 2224.8 600.8 2228.8 600.6 2231.8 599.5 2235.8 598 2239 596 2242.1 593 2245.2 590 2247.5 587 2249.2 583 2250.7Z M474 2268.8 469 2268.7 464.5 2266.8 460 2262.7 456 2257.1 453 2250.7 451.2 2243.8 450.8 2236.8 451.6 2229.8 453.9 2221.8 457 2215.3 461 2209.3 466 2203.8 472 2199.1 477 2196.8 482 2195.8 488 2196.3 493 2197.7 497 2199.6 500.3 2201.8 503.6 2204.8 505.8 2207.8 507.6 2211.8 508.3 2215.8 508 2218.8 506.2 2223.8 499.2 2235.8 492.4 2250.8 488.5 2257.8 485.3 2261.8 482 2264.9 478 2267.5Z M579 2248.8 575 2249 570 2248.4 566 2247.1 562 2244.8 558.4 2241.8 554.7 2237.8 546.9 2228.8 545.3 2225.8 545.5 2223.8 547.1 2221.8 557.3 2213.8 564 2209.5 570 2207.4 574 2206.9 579 2207.3 584 2208.7 588 2210.6 592 2213.6 594.8 2216.8 597.2 2220.8 598.4 2224.8 598.8 2228.8 598.3 2232.8 596.8 2236.8 594.2 2240.8 591.2 2243.8 588 2245.9 584 2247.7Z M475 2265.9 472 2266.3 470 2266.1 466 2264.7 462 2261.6 458 2256.6 455 2250.8 453 2244.3 452.4 2237.8 453 2230.8 454.9 2223.8 457.6 2217.8 461.5 2211.8 466 2206.7 471 2202.6 476 2199.9 481 2198.6 487 2198.8 491 2199.9 495 2201.8 498 2203.8 501 2206.7 503 2209.8 504.1 2212.8 504.4 2215.8 504.1 2218.8 502.4 2223.8 497 2234.3 491.3 2247.8 487.7 2254.8 485 2258.6 482 2261.8 479 2264.1Z M581 2245.9 577 2246.4 572 2246 568 2244.9 565 2243.4 561.6 2240.8 558.9 2237.8 556.1 2233.8 554.2 2229.8 553.6 2226.8 553.7 2224.8 554.2 2222.8 555.9 2219.8 558.4 2216.8 561.7 2213.8 564.6 2211.8 568 2210.2 572 2209.1 576 2208.9 581 2209.6 585 2211.1 589 2213.5 591.6 2215.8 594 2218.8 595.9 2222.8 596.8 2226.8 596.6 2230.8 595.9 2233.8 594 2237.5 592 2240 588.8 2242.8 585 2244.8Z M476 2263 472 2263.7 468 2262.8 464 2260.3 459.9 2255.8 457 2250.6 455 2244.6 454.2 2237.8 454.7 2231.8 456.2 2225.8 459 2219.1 462.4 2213.8 466.8 2208.8 471 2205.3 476 2202.5 481 2201.2 486 2201.4 489 2202.1 492.7 2203.8 495.6 2205.8 497.7 2207.8 499.1 2209.8 500.4 2212.8 500.8 2215.8 500.6 2218.8 499 2223.8 489.6 2246.8 487.1 2251.8 484.6 2255.8 482 2258.9 479 2261.4Z M579 2243.8 576 2243.8 572 2243.4 569 2242.5 565.9 2240.8 563.5 2238.8 561 2235.8 559.2 2232.8 557.9 2228.8 557.7 2225.8 558.3 2222.8 559.7 2219.8 561.1 2217.8 563 2215.7 566 2213.4 569 2211.9 572 2211 575 2210.7 579 2211 583 2212.1 586.3 2213.8 589 2215.8 591.8 2218.8 593.5 2221.8 594.5 2224.8 594.9 2228.8 594.4 2231.8 593.2 2234.8 591.1 2237.8 589 2239.8 586 2241.8 583 2243Z M475 2260.8 471 2261.1 467 2259.6 463.5 2256.8 460.4 2252.8 458.1 2247.8 456.8 2242.8 456.4 2237.8 456.9 2231.8 458.4 2225.8 460.4 2220.8 463.4 2215.8 467 2211.5 471.3 2207.8 476 2205 480 2203.8 485 2203.9 490.3 2205.8 493 2207.6 495 2209.8 496.2 2211.8 497.2 2214.8 497.1 2219.8 495.7 2224.8 489.6 2241.8 486 2249.9 483.7 2253.8 481 2257 478 2259.4Z M582 2240.9 576 2241.5 570 2240.1 567.4 2238.8 565.1 2236.8 562.3 2232.8 561.2 2229.8 560.8 2226.8 561.7 2221.8 563.3 2218.8 565 2216.8 569 2214 572 2212.9 575 2212.5 578.6 2212.8 582 2213.6 585 2215 587.5 2216.8 589.5 2218.8 591.5 2221.8 592.6 2224.8 592.9 2227.8 592.5 2230.8 591.3 2233.8 589.1 2236.8 587 2238.6Z M476 2258 472 2258.7 469 2257.9 465.7 2255.8 462.3 2251.8 460.4 2247.8 459.1 2242.8 458.8 2237.8 459.3 2231.8 460.5 2226.8 462.3 2221.8 465 2217.1 468 2213.4 472 2209.9 476 2207.6 480 2206.4 484 2206.4 487 2207.3 489 2208.4 492.4 2211.8 493.9 2215.8 493.9 2220.8 492.8 2225.8 489.7 2235.8 485.6 2246.8 483.5 2250.8 481 2254.1 479 2256.1Z M581 2238.8 576 2239.1 571 2238 567 2235.2 564.6 2231.8 563.4 2226.8 563.6 2223.8 564.3 2221.8 565.4 2219.8 567.1 2217.8 571 2215.3 576 2214.3 579 2214.6 582 2215.5 584.5 2216.8 587 2218.7 589.9 2222.8 590.5 2224.8 590.8 2227.8 590.3 2230.8 589.4 2232.8 588 2234.8 586 2236.5 584 2237.8Z M475 2255.9 472 2256.2 469 2255.1 466 2252.9 463.7 2249.8 462 2245.8 461.3 2241.8 461.2 2236.8 461.7 2231.8 462.8 2226.8 464.3 2222.8 466.4 2218.8 469 2215.4 472 2212.7 476 2210.2 480 2209 483 2209.1 487 2210.7 489.7 2213.8 491.1 2217.8 490.8 2223.8 487.6 2236.8 484 2246.2 482 2249.8 480 2252.4 478 2254.3Z M579 2236.9 575 2236.7 571 2235.3 568 2232.8 566.4 2229.8 565.8 2225.8 566.8 2221.8 569.1 2218.8 573 2216.6 575 2216.2 578 2216.3 582.6 2217.8 586.3 2220.8 588.4 2224.8 588.5 2228.8 587.9 2230.8 586.7 2232.8 585 2234.5 583 2235.7Z M476 2252.9 473 2253.6 471 2253.2 468 2251.4 465.7 2248.8 464.4 2245.8 463.5 2241.8 463.4 2237.8 463.8 2232.8 464.8 2227.8 466.2 2223.8 467.7 2220.8 469.8 2217.8 473 2214.8 476 2213 479 2211.9 482 2211.9 484 2212.6 485.6 2213.8 487.7 2216.8 488.5 2220.8 488.3 2225.8 486.1 2235.8 483.3 2243.8 480 2249.4 478 2251.5Z M581 2234 578 2234.6 575 2234.3 572 2233 569.6 2230.8 568.4 2227.8 568.3 2224.8 569.5 2221.8 571.4 2219.8 575 2218.3 579 2218.5 582.1 2219.8 585.2 2222.8 586.3 2225.8 586 2228.9 584 2232.1Z M476 2250.1 474 2250.7 472 2250.5 469 2248.8 467.4 2246.8 466.5 2244.8 465.8 2241.8 465.9 2233.8 467.7 2225.8 470.3 2220.8 472 2218.8 475 2216.5 478 2215.1 480 2214.9 483 2216 485.2 2218.8 486.1 2222.8 485.9 2227.8 484.3 2235.8 482 2242.4 479 2247.5Z M578 2231.8 576 2231.7 573.7 2230.8 572 2229.1 571.3 2227.8 571 2225.8 571.5 2223.8 573 2221.9 575 2220.9 577.8 2220.8 580 2221.4 581.9 2222.8 583.2 2224.8 583.3 2227.8 582.3 2229.8 580 2231.3Z M476 2246.9 474 2247.5 473 2247.5 471 2246.5 469.4 2244.8 468 2240.6 468 2233.8 469.3 2227.8 471.9 2222.8 475.1 2219.8 477 2218.8 479 2218.4 481 2219.1 483 2221.8 483.7 2225.8 483.5 2229.8 482.4 2235.8 480.6 2240.8 478.3 2244.8Z M476 2242.8 474 2243.4 473 2243.1 471.6 2241.8 470.6 2238.8 470.5 2233.8 471.3 2229.8 473 2226.2 476 2223.4 478 2222.9 479.6 2223.8 480.7 2225.8 481 2230.8 480.4 2234.8 479 2238.8 477.9 2240.8Z"/>
</g>
<ellipse cx="452" cy="2242" rx="5.62" ry="30" transform="rotate(6 452 2242)" fill="url(#sh)" opacity="0.6"/>
<ellipse cx="600" cy="2222" rx="5" ry="15" transform="rotate(10 600 2222)" fill="url(#sh)" opacity="0.3"/>
<path d="M523.2 2363.8h1.15 M514.6 2323.2h1.15 M537.7 2332.5h1.15 M560.4 2327.9h1.15 M506.5 2307.1h1.15 M552.2 2328.3h1.15 M543 2298h1.15 M480.2 2346.9h1.15 M543.3 2330.7h1.15 M602.7 2314.2h1.15 M544.1 2308.7h1.15 M473.3 2299.6h1.15 M555.3 2309.3h1.15 M466 2324.6h1.15 M555.8 2347.4h1.15 M618.5 2342.6h1.15 M487.2 2321.3h1.15 M563.1 2308.9h1.15 M547.1 2340.8h1.15 M449.9 2322.4h1.15 M565.5 2333.5h1.15 M532.2 2319.7h1.15 M602.7 2319.1h1.15 M455.9 2310.6h1.15 M525.9 2327.1h1.15 M510 2321.7h1.15 M513.2 2337h1.15 M475.2 2318.5h1.15 M463.5 2297.6h1.15 M534.9 2311.1h1.15 M558.8 2321.1h1.15 M541.4 2344.3h1.15 M497.8 2274.2h1.15 M459.8 2295.1h1.15 M501.5 2295.3h1.15 M614.5 2208.8h1.15 M583.8 2208h1.15 M614.2 2231h1.15 M665.1 2194.7h1.15 M597.4 2212.3h1.15 M637.4 2224.8h1.15 M625.5 2188h1.15 M545.6 2205.4h1.15 M444.7 2186.8h1.15 M455.3 2167.1h1.15 M465 2197.2h1.15 M457.9 2235.4h1.15 M416.6 2191.6h1.15 M421.9 2211.2h1.15 M457.4 2210.6h1.15 M458.1 2201.6h1.15" stroke="#111" stroke-width="1.15" fill="none"/>
<rect x="407" y="2146.75" width="265.5" height="264" fill="none" stroke="#0a0a0a" stroke-width="1.3"/>
<rect x="437" y="2148.75" width="88" height="91.75" fill="none" stroke="#0a0a0a" stroke-width="1.35"/>
<rect x="550" y="2218.25" width="65.5" height="73" fill="none" stroke="#0a0a0a" stroke-width="1.35"/>
<path d="M407 2389.6h-4.4 M407 2385.2h-4.4 M407 2380.8h-4.4 M407 2376.4h-4.4 M407 2372h-4.4 M407 2367.6h-4.4 M407 2363.2h-4.4 M407 2358.8h-4.4 M407 2354.4h-4.4 M407 2345.7h-4.4 M407 2341.4h-4.4 M407 2337.1h-4.4 M407 2332.8h-4.4 M407 2328.5h-4.4 M407 2324.2h-4.4 M407 2319.9h-4.4 M407 2315.6h-4.4 M407 2311.3h-4.4 M407 2285h-4.4 M407 2272.2h-4.4 M407 2263h-4.4 M407 2256h-4.4 M407 2250.2h-4.4 M407 2245.3h-4.4 M407 2241.1h-4.4 M407 2237.3h-4.4 M407 2215h-4.4 M407 2203.9h-4.4 M407 2196.1h-4.4 M407 2190h-4.4 M407 2185h-4.4 M407 2180.8h-4.4 M407 2177.1h-4.4 M407 2173.9h-4.4 M407 2152h-4.4 M426.9 2410.8v4.4 M431.3 2410.8v4.4 M435.7 2410.8v4.4 M440.1 2410.8v4.4 M444.5 2410.8v4.4 M448.9 2410.8v4.4 M453.3 2410.8v4.4 M457.7 2410.8v4.4 M462.1 2410.8v4.4 M415.5 2410.8v4.4 M470.9 2410.8v4.4 M475.3 2410.8v4.4 M479.7 2410.8v4.4 M484.1 2410.8v4.4 M488.5 2410.8v4.4 M492.9 2410.8v4.4 M497.3 2410.8v4.4 M501.7 2410.8v4.4 M506.1 2410.8v4.4 M532.2 2410.8v4.4 M544.9 2410.8v4.4 M553.8 2410.8v4.4 M560.8 2410.8v4.4 M566.5 2410.8v4.4 M571.3 2410.8v4.4 M575.5 2410.8v4.4 M579.2 2410.8v4.4 M601.6 2410.8v4.4 M612.8 2410.8v4.4 M620.7 2410.8v4.4 M626.9 2410.8v4.4 M631.9 2410.8v4.4 M636.2 2410.8v4.4 M639.8 2410.8v4.4 M643.1 2410.8v4.4 M665.1 2410.8v4.4" stroke="#0a0a0a" stroke-width="1.1" fill="none"/>
<path d="M407 2394h-7.3 M407 2350h-7.3 M407 2307h-7.3 M407 2234h-7.3 M407 2171h-7.3 M422.5 2410.8v7.3 M466.5 2410.8v7.3 M510.5 2410.8v7.3 M582.5 2410.8v7.3 M646 2410.8v7.3" stroke="#000" stroke-width="1.9" fill="none"/>
<path d="M407 2346h-6 M407 2348h-8 M407 2350h-7 M407 2352h-8 M407 2354h-5" stroke="#000" stroke-width="1.9" fill="none"/>
<path d="M462 2410.8v6 M464.3 2410.8v8 M466.5 2410.8v7 M468.7 2410.8v8 M471 2410.8v5" stroke="#000" stroke-width="1.9" fill="none"/>
<text class="tl" transform="translate(376.5,2399.6) scale(0.9387,1)" font-size="9.7" fill="#151515"><tspan x="0" y="0">-10</tspan></text>
<text class="tl" transform="translate(389.31,2393.3) scale(1.0437,1)" font-size="9.7" fill="#151515"><tspan x="0" y="0">3</tspan></text>
<text class="tl" transform="translate(383.13,2355.6) scale(0.9705,1)" font-size="9.7" fill="#151515"><tspan x="0" y="0">0</tspan></text>
<text class="tl" transform="translate(379.94,2312.6) scale(0.8995,1)" font-size="9.7" fill="#151515"><tspan x="0" y="0">10</tspan></text>
<text class="tl" transform="translate(389.31,2306.3) scale(1.0437,1)" font-size="9.7" fill="#151515"><tspan x="0" y="0">3</tspan></text>
<text class="tl" transform="translate(379.94,2239.6) scale(0.8995,1)" font-size="9.7" fill="#151515"><tspan x="0" y="0">10</tspan></text>
<text class="tl" transform="translate(389.48,2233.3) scale(0.9820,1)" font-size="9.7" fill="#151515"><tspan x="0" y="0">4</tspan></text>
<text class="tl" transform="translate(379.94,2176.6) scale(0.8995,1)" font-size="9.7" fill="#151515"><tspan x="0" y="0">10</tspan></text>
<text class="tl" transform="translate(389.29,2170.3) scale(1.0437,1)" font-size="9.7" fill="#151515"><tspan x="0" y="0">5</tspan></text>
<text class="tl" transform="translate(420.4,2434.35) scale(0.9387,1)" font-size="9.7" fill="#151515"><tspan x="0" y="0">-10</tspan></text>
<text class="tl" transform="translate(433.21,2428.05) scale(1.0437,1)" font-size="9.7" fill="#151515"><tspan x="0" y="0">3</tspan></text>
<text class="tl" transform="translate(469.13,2434.35) scale(0.9705,1)" font-size="9.7" fill="#151515"><tspan x="0" y="0">0</tspan></text>
<text class="tl" transform="translate(510.34,2434.35) scale(0.8995,1)" font-size="9.7" fill="#151515"><tspan x="0" y="0">10</tspan></text>
<text class="tl" transform="translate(519.71,2428.05) scale(1.0437,1)" font-size="9.7" fill="#151515"><tspan x="0" y="0">3</tspan></text>
<text class="tl" transform="translate(582.34,2434.35) scale(0.8995,1)" font-size="9.7" fill="#151515"><tspan x="0" y="0">10</tspan></text>
<text class="tl" transform="translate(591.88,2428.05) scale(0.9820,1)" font-size="9.7" fill="#151515"><tspan x="0" y="0">4</tspan></text>
<text class="tl" transform="translate(645.84,2434.35) scale(0.8995,1)" font-size="9.7" fill="#151515"><tspan x="0" y="0">10</tspan></text>
<text class="tl" transform="translate(655.19,2428.05) scale(1.0437,1)" font-size="9.7" fill="#151515"><tspan x="0" y="0">5</tspan></text>
<text transform="translate(530.5,2175) scale(1.0023,1)" font-size="32.6" fill="#000"><tspan x="0" y="0">42.1</tspan></text>
<text transform="translate(587.46,2321.75) scale(1.0240,1)" font-size="32.6" fill="#000"><tspan x="0" y="0">18.7</tspan></text>
<text transform="translate(448.99,2127.2) scale(0.9537,1)" font-size="41" fill="#000"><tspan x="0" y="0">Putrescine</tspan></text>
</g>
<line x1="12.9" y1="255.6" x2="12.9" y2="385.6" stroke="#000" stroke-width="7"/>
<line x1="12.7" y1="385.6" x2="145.7" y2="385.6" stroke="#000" stroke-width="6.8"/>
<path d="M12.9 235 L1.9 256.6 L23.9 256.6 Z" fill="#000"/>
<path d="M166.3 385.6 L144.7 374.6 L144.7 396.6 Z" fill="#000"/>
<text transform="translate(23.8,226.42) rotate(-90) scale(0.8632,1)" font-size="32.4" fill="#000"><tspan x="0" y="0">CX</tspan><tspan x="45.01" y="6.48" font-size="23.33">3</tspan><tspan x="57.98" y="0">CR1-PE</tspan></text>
<text transform="translate(178.44,396.3) scale(0.9064,1)" font-size="32.4" fill="#000"><tspan x="0" y="0">Ly6C-APC</tspan></text>
<line x1="12.9" y1="1320.6" x2="12.9" y2="1402.3" stroke="#000" stroke-width="7"/>
<line x1="12.7" y1="1402.3" x2="93.9" y2="1402.3" stroke="#000" stroke-width="6.8"/>
<path d="M12.9 1300 L1.9 1321.6 L23.9 1321.6 Z" fill="#000"/>
<path d="M114.5 1402.3 L92.9 1391.3 L92.9 1413.3 Z" fill="#000"/>
<text transform="translate(23.8,1287.56) rotate(-90) scale(0.9255,1)" font-size="32.4" fill="#000"><tspan x="0" y="0">Arg1-FITC</tspan></text>
<text transform="translate(143.35,1413.5) scale(0.9045,1)" font-size="32.4" fill="#000"><tspan x="0" y="0">NOS2-PE</tspan></text>
<line x1="21.2" y1="2331.85" x2="21.2" y2="2462.5" stroke="#000" stroke-width="7"/>
<line x1="21" y1="2462.5" x2="153.65" y2="2462.5" stroke="#000" stroke-width="6.8"/>
<path d="M21.2 2311.25 L10.2 2332.85 L32.2 2332.85 Z" fill="#000"/>
<path d="M174.25 2462.5 L152.65 2451.5 L152.65 2473.5 Z" fill="#000"/>
<text transform="translate(31.6,2300.18) rotate(-90) scale(0.8704,1)" font-size="32.4" fill="#000"><tspan x="0" y="0">CX</tspan><tspan x="45.01" y="6.48" font-size="23.33">3</tspan><tspan x="57.98" y="0">CR1-PE</tspan></text>
<text transform="translate(186.34,2473) scale(0.9085,1)" font-size="32.4" fill="#000"><tspan x="0" y="0">Ly6C-APC</tspan></text>
<g id="chart-b1">
<rect x="127.1" y="791.75" width="50.3" height="58.25" fill="#d3d3d3" stroke="#000" stroke-width="2.9"/>
<rect x="190.85" y="763.75" width="50.3" height="86.25" fill="#ffa0a0" stroke="#000" stroke-width="2.9"/>
<rect x="254.6" y="753.35" width="50.3" height="96.65" fill="#9090ff" stroke="#000" stroke-width="2.9"/>
<line x1="115.5" y1="543.55" x2="115.5" y2="851.45" stroke="#000" stroke-width="2.9"/>
<line x1="95" y1="850" x2="318.75" y2="850" stroke="#000" stroke-width="2.9"/>
<line x1="95" y1="850" x2="115.5" y2="850" stroke="#000" stroke-width="2.9"/>
<text transform="translate(75.15,860.45) scale(0.9450,1)" font-size="26.7" fill="#000"><tspan x="0" y="0">0</tspan></text>
<line x1="95" y1="789" x2="115.5" y2="789" stroke="#000" stroke-width="2.9"/>
<text transform="translate(75.23,799.45) scale(0.9450,1)" font-size="26.7" fill="#000"><tspan x="0" y="0">5</tspan></text>
<line x1="95" y1="728" x2="115.5" y2="728" stroke="#000" stroke-width="2.9"/>
<text transform="translate(61.12,738.45) scale(0.9450,1)" font-size="26.7" fill="#000"><tspan x="0" y="0">10</tspan></text>
<line x1="95" y1="667" x2="115.5" y2="667" stroke="#000" stroke-width="2.9"/>
<text transform="translate(61.19,677.45) scale(0.9450,1)" font-size="26.7" fill="#000"><tspan x="0" y="0">15</tspan></text>
<line x1="95" y1="606" x2="115.5" y2="606" stroke="#000" stroke-width="2.9"/>
<text transform="translate(61.12,616.45) scale(0.9450,1)" font-size="26.7" fill="#000"><tspan x="0" y="0">20</tspan></text>
<line x1="95" y1="545" x2="115.5" y2="545" stroke="#000" stroke-width="2.9"/>
<text transform="translate(61.19,555.45) scale(0.9450,1)" font-size="26.7" fill="#000"><tspan x="0" y="0">25</tspan></text>
<line x1="152.25" y1="850" x2="152.25" y2="864.4" stroke="#000" stroke-width="2.9"/>
<line x1="216" y1="850" x2="216" y2="864.4" stroke="#000" stroke-width="2.9"/>
<line x1="279.75" y1="850" x2="279.75" y2="864.4" stroke="#000" stroke-width="2.9"/>
<line x1="152.25" y1="777.3" x2="152.25" y2="802.8" stroke="#000" stroke-width="2.6"/>
<line x1="138.95" y1="777.3" x2="165.55" y2="777.3" stroke="#000" stroke-width="2.6"/>
<line x1="138.95" y1="802.8" x2="165.55" y2="802.8" stroke="#000" stroke-width="2.6"/>
<line x1="216" y1="730.5" x2="216" y2="793.4" stroke="#000" stroke-width="2.6"/>
<line x1="202.7" y1="730.5" x2="229.3" y2="730.5" stroke="#000" stroke-width="2.6"/>
<line x1="202.7" y1="793.4" x2="229.3" y2="793.4" stroke="#000" stroke-width="2.6"/>
<line x1="279.75" y1="735.5" x2="279.75" y2="768.5" stroke="#000" stroke-width="2.6"/>
<line x1="266.45" y1="735.5" x2="293.05" y2="735.5" stroke="#000" stroke-width="2.6"/>
<line x1="266.45" y1="768.5" x2="293.05" y2="768.5" stroke="#000" stroke-width="2.6"/>
<circle cx="152.25" cy="732.5" r="5.4" fill="#000"/>
<circle cx="152.2" cy="782.4" r="5.4" fill="#000"/>
<circle cx="130.9" cy="798.5" r="5.4" fill="#000"/>
<circle cx="173.4" cy="799.8" r="5.4" fill="#000"/>
<circle cx="152.2" cy="806.5" r="5.4" fill="#000"/>
<circle cx="152.2" cy="821.4" r="5.4" fill="#000"/>
<circle cx="216.25" cy="578.5" r="5.4" fill="#c06000"/>
<circle cx="194.5" cy="780.6" r="5.4" fill="#c06000"/>
<circle cx="237.4" cy="771.7" r="5.4" fill="#c06000"/>
<circle cx="237.4" cy="785.8" r="5.4" fill="#c06000"/>
<circle cx="216" cy="786.8" r="5.4" fill="#c06000"/>
<circle cx="216" cy="805.6" r="5.4" fill="#c06000"/>
<circle cx="216" cy="827.3" r="5.4" fill="#c06000"/>
<circle cx="279.75" cy="677" r="5.4" fill="#000080"/>
<circle cx="279.75" cy="697.5" r="5.4" fill="#000080"/>
<circle cx="279.75" cy="732.5" r="5.4" fill="#000080"/>
<circle cx="269.5" cy="758.3" r="5.4" fill="#000080"/>
<circle cx="290.1" cy="764.6" r="5.4" fill="#000080"/>
<circle cx="269.5" cy="791.3" r="5.4" fill="#000080"/>
<circle cx="290.1" cy="791.5" r="5.4" fill="#000080"/>
<circle cx="279.8" cy="802.8" r="5.4" fill="#000080"/>
<text transform="translate(74.08,502.8) scale(0.8125,1)" font-size="40.5" fill="#000"><tspan x="0" y="0">CX</tspan></text>
<text transform="translate(120.48,512.5) scale(0.9262,1)" font-size="30.4" fill="#000"><tspan x="0" y="0">3</tspan></text>
<text transform="translate(137.8,502.8) scale(0.8528,1)" font-size="40.5" fill="#000"><tspan x="0" y="0">CR1</tspan></text>
<text x="207.45" y="483.6" font-size="30.4" letter-spacing="2.88" fill="#000">low</text>
<text transform="translate(259.4,502.8) scale(0.8742,1)" font-size="40.5" fill="#000"><tspan x="0" y="0">Ly6C</tspan></text>
<text transform="translate(340.79,484.69) scale(0.9399,1)" font-size="30.66" fill="#000">+</text>
<text transform="translate(20.9,855.48) rotate(-90) scale(0.9531,1)" font-size="26" fill="#000"><tspan x="0" y="0">% in CD11c</tspan></text>
<text transform="translate(11.7,722) rotate(-90) scale(0.7040,1)" font-size="25.6" fill="#000">-</text>
<text transform="translate(20.9,709.97) rotate(-90) scale(0.9240,1)" font-size="26" fill="#000"><tspan x="0" y="0">CD11b</tspan></text>
<text transform="translate(11.3,635.74) rotate(-90) scale(1.0070,1)" font-size="21.05" fill="#000">+</text>
<text transform="translate(20.9,619.94) rotate(-90) scale(1.0026,1)" font-size="26" fill="#000"><tspan x="0" y="0">F4/80</tspan></text>
<text transform="translate(11.4,553.23) rotate(-90) scale(0.9365,1)" font-size="20.44" fill="#000">+</text>
<text transform="translate(163.65,894.2) rotate(-45) scale(1.0000,1)" font-size="31.7" text-anchor="end" fill="#000">GF</text>
<text transform="translate(227.4,894.2) rotate(-45) scale(1.0000,1)" font-size="31.7" text-anchor="end" fill="#000">WT</text>
<text transform="translate(291.15,894.2) rotate(-45) scale(0.9750,1)" font-size="31.7" text-anchor="end" fill="#000">SK930</text>
</g>
<g id="chart-b2">
<rect x="489.85" y="661.45" width="50.3" height="191.05" fill="#d3d3d3" stroke="#000" stroke-width="2.9"/>
<rect x="553.6" y="640.95" width="50.3" height="211.55" fill="#ffa0a0" stroke="#000" stroke-width="2.9"/>
<rect x="617.35" y="766.45" width="50.3" height="86.05" fill="#9090ff" stroke="#000" stroke-width="2.9"/>
<line x1="479.25" y1="548.55" x2="479.25" y2="853.95" stroke="#000" stroke-width="2.9"/>
<line x1="458" y1="852.5" x2="681.25" y2="852.5" stroke="#000" stroke-width="2.9"/>
<line x1="458" y1="852.5" x2="479.25" y2="852.5" stroke="#000" stroke-width="2.9"/>
<text transform="translate(438.15,862.95) scale(0.9450,1)" font-size="26.7" fill="#000"><tspan x="0" y="0">0</tspan></text>
<line x1="458" y1="751.67" x2="479.25" y2="751.67" stroke="#000" stroke-width="2.9"/>
<text transform="translate(424.12,762.12) scale(0.9450,1)" font-size="26.7" fill="#000"><tspan x="0" y="0">20</tspan></text>
<line x1="458" y1="650.83" x2="479.25" y2="650.83" stroke="#000" stroke-width="2.9"/>
<text transform="translate(424.12,661.28) scale(0.9450,1)" font-size="26.7" fill="#000"><tspan x="0" y="0">40</tspan></text>
<line x1="458" y1="550" x2="479.25" y2="550" stroke="#000" stroke-width="2.9"/>
<text transform="translate(424.12,560.45) scale(0.9450,1)" font-size="26.7" fill="#000"><tspan x="0" y="0">60</tspan></text>
<line x1="515" y1="852.5" x2="515" y2="866.9" stroke="#000" stroke-width="2.9"/>
<line x1="578.75" y1="852.5" x2="578.75" y2="866.9" stroke="#000" stroke-width="2.9"/>
<line x1="642.5" y1="852.5" x2="642.5" y2="866.9" stroke="#000" stroke-width="2.9"/>
<line x1="515" y1="638" x2="515" y2="681.25" stroke="#000" stroke-width="2.6"/>
<line x1="501.7" y1="638" x2="528.3" y2="638" stroke="#000" stroke-width="2.6"/>
<line x1="501.7" y1="681.25" x2="528.3" y2="681.25" stroke="#000" stroke-width="2.6"/>
<line x1="578.75" y1="620.75" x2="578.75" y2="658.75" stroke="#000" stroke-width="2.6"/>
<line x1="565.45" y1="620.75" x2="592.05" y2="620.75" stroke="#000" stroke-width="2.6"/>
<line x1="565.45" y1="658.75" x2="592.05" y2="658.75" stroke="#000" stroke-width="2.6"/>
<line x1="642.5" y1="751.25" x2="642.5" y2="778.75" stroke="#000" stroke-width="2.6"/>
<line x1="629.2" y1="751.25" x2="655.8" y2="751.25" stroke="#000" stroke-width="2.6"/>
<line x1="629.2" y1="778.75" x2="655.8" y2="778.75" stroke="#000" stroke-width="2.6"/>
<circle cx="515" cy="582.5" r="5.4" fill="#000"/>
<circle cx="515" cy="627.5" r="5.4" fill="#000"/>
<circle cx="515" cy="650.75" r="5.4" fill="#000"/>
<circle cx="515" cy="669.25" r="5.4" fill="#000"/>
<circle cx="515" cy="700" r="5.4" fill="#000"/>
<circle cx="515" cy="731.25" r="5.4" fill="#000"/>
<circle cx="578.75" cy="587.5" r="5.4" fill="#c06000"/>
<circle cx="578.75" cy="599.5" r="5.4" fill="#c06000"/>
<circle cx="568.25" cy="618.25" r="5.4" fill="#c06000"/>
<circle cx="588.75" cy="627" r="5.4" fill="#c06000"/>
<circle cx="578.75" cy="646.25" r="5.4" fill="#c06000"/>
<circle cx="578.75" cy="664.25" r="5.4" fill="#c06000"/>
<circle cx="578.75" cy="737" r="5.4" fill="#c06000"/>
<circle cx="642.5" cy="698.25" r="5.4" fill="#000080"/>
<circle cx="642.5" cy="723.25" r="5.4" fill="#000080"/>
<circle cx="632" cy="766.75" r="5.4" fill="#000080"/>
<circle cx="652.5" cy="762.5" r="5.4" fill="#000080"/>
<circle cx="652.5" cy="774.5" r="5.4" fill="#000080"/>
<circle cx="642.5" cy="787" r="5.4" fill="#000080"/>
<circle cx="652.5" cy="802.5" r="5.4" fill="#000080"/>
<circle cx="632" cy="808.75" r="5.4" fill="#000080"/>
<path d="M505 547.5 L505 533.75 L643 533.75 L643 547.5" fill="none" stroke="#000" stroke-width="3.3" stroke-linejoin="miter"/>
<path d="M578.75 580.75 L578.75 567.5 L648.75 567.5 L648.75 580.75" fill="none" stroke="#000" stroke-width="3.3" stroke-linejoin="miter"/>
<text transform="translate(523.92,527.5) scale(1.0633,1)" font-size="17.6" fill="#000"><tspan x="0" y="0" font-style="italic">P</tspan><tspan x="11.74" y="0"> = 0.018</tspan></text>
<text transform="translate(572.42,567) scale(1.0704,1)" font-size="17.6" fill="#000"><tspan x="0" y="0" font-style="italic">P</tspan><tspan x="11.74" y="0"> = 0.0073</tspan></text>
<text transform="translate(435.27,507.3) scale(0.7947,1)" font-size="40.5" fill="#000"><tspan x="0" y="0">CX</tspan></text>
<text transform="translate(480.82,517) scale(0.9297,1)" font-size="30.4" fill="#000"><tspan x="0" y="0">3</tspan></text>
<text transform="translate(498.56,507.3) scale(0.8456,1)" font-size="40.5" fill="#000"><tspan x="0" y="0">CR1</tspan></text>
<text x="567.49" y="488.1" font-size="30.4" letter-spacing="1.77" fill="#000">high</text>
<text transform="translate(629.08,507.3) scale(0.8798,1)" font-size="40.5" fill="#000"><tspan x="0" y="0">Ly6C</tspan></text>
<text transform="translate(711.34,488.84) scale(0.9231,1)" font-size="33.28" fill="#000">-</text>
<text transform="translate(400.8,855.48) rotate(-90) scale(0.9531,1)" font-size="26" fill="#000"><tspan x="0" y="0">% in CD11c</tspan></text>
<text transform="translate(391.6,722) rotate(-90) scale(0.7040,1)" font-size="25.6" fill="#000">-</text>
<text transform="translate(400.8,709.97) rotate(-90) scale(0.9240,1)" font-size="26" fill="#000"><tspan x="0" y="0">CD11b</tspan></text>
<text transform="translate(391.2,635.74) rotate(-90) scale(1.0070,1)" font-size="21.05" fill="#000">+</text>
<text transform="translate(400.8,619.94) rotate(-90) scale(1.0026,1)" font-size="26" fill="#000"><tspan x="0" y="0">F4/80</tspan></text>
<text transform="translate(391.3,553.23) rotate(-90) scale(0.9365,1)" font-size="20.44" fill="#000">+</text>
<text transform="translate(526.4,896.7) rotate(-45) scale(1.0000,1)" font-size="31.7" text-anchor="end" fill="#000">GF</text>
<text transform="translate(590.15,896.7) rotate(-45) scale(1.0000,1)" font-size="31.7" text-anchor="end" fill="#000">WT</text>
<text transform="translate(653.9,896.7) rotate(-45) scale(0.9750,1)" font-size="31.7" text-anchor="end" fill="#000">SK930</text>
</g>
<g id="chart-c1">
<rect x="889.35" y="836.45" width="50.3" height="16.05" fill="#d3d3d3" stroke="#000" stroke-width="2.9"/>
<rect x="952.85" y="791.45" width="50.3" height="61.05" fill="#ffa0a0" stroke="#000" stroke-width="2.9"/>
<rect x="1016.1" y="820.95" width="50.3" height="31.55" fill="#9090ff" stroke="#000" stroke-width="2.9"/>
<line x1="878" y1="546.55" x2="878" y2="853.95" stroke="#000" stroke-width="2.9"/>
<line x1="857.5" y1="852.5" x2="1080.75" y2="852.5" stroke="#000" stroke-width="2.9"/>
<line x1="857.5" y1="852.5" x2="878" y2="852.5" stroke="#000" stroke-width="2.9"/>
<text transform="translate(837.65,862.95) scale(0.9450,1)" font-size="26.7" fill="#000"><tspan x="0" y="0">0</tspan></text>
<line x1="857.5" y1="776.38" x2="878" y2="776.38" stroke="#000" stroke-width="2.9"/>
<text transform="translate(823.62,786.83) scale(0.9450,1)" font-size="26.7" fill="#000"><tspan x="0" y="0">10</tspan></text>
<line x1="857.5" y1="700.25" x2="878" y2="700.25" stroke="#000" stroke-width="2.9"/>
<text transform="translate(823.62,710.7) scale(0.9450,1)" font-size="26.7" fill="#000"><tspan x="0" y="0">20</tspan></text>
<line x1="857.5" y1="624.12" x2="878" y2="624.12" stroke="#000" stroke-width="2.9"/>
<text transform="translate(823.62,634.58) scale(0.9450,1)" font-size="26.7" fill="#000"><tspan x="0" y="0">30</tspan></text>
<line x1="857.5" y1="548" x2="878" y2="548" stroke="#000" stroke-width="2.9"/>
<text transform="translate(823.62,558.45) scale(0.9450,1)" font-size="26.7" fill="#000"><tspan x="0" y="0">40</tspan></text>
<line x1="914.5" y1="852.5" x2="914.5" y2="866.9" stroke="#000" stroke-width="2.9"/>
<line x1="978" y1="852.5" x2="978" y2="866.9" stroke="#000" stroke-width="2.9"/>
<line x1="1041.25" y1="852.5" x2="1041.25" y2="866.9" stroke="#000" stroke-width="2.9"/>
<line x1="914.5" y1="828.75" x2="914.5" y2="842" stroke="#000" stroke-width="2.6"/>
<line x1="901.2" y1="828.75" x2="927.8" y2="828.75" stroke="#000" stroke-width="2.6"/>
<line x1="901.2" y1="842" x2="927.8" y2="842" stroke="#000" stroke-width="2.6"/>
<line x1="978" y1="770" x2="978" y2="810" stroke="#000" stroke-width="2.6"/>
<line x1="964.7" y1="770" x2="991.3" y2="770" stroke="#000" stroke-width="2.6"/>
<line x1="964.7" y1="810" x2="991.3" y2="810" stroke="#000" stroke-width="2.6"/>
<line x1="1041.25" y1="810" x2="1041.25" y2="830" stroke="#000" stroke-width="2.6"/>
<line x1="1027.95" y1="810" x2="1054.55" y2="810" stroke="#000" stroke-width="2.6"/>
<line x1="1027.95" y1="830" x2="1054.55" y2="830" stroke="#000" stroke-width="2.6"/>
<circle cx="914.5" cy="785" r="5.4" fill="#000"/>
<circle cx="901.25" cy="826.25" r="5.4" fill="#000"/>
<circle cx="918.75" cy="826.25" r="5.4" fill="#000"/>
<circle cx="910" cy="833" r="5.4" fill="#000"/>
<circle cx="901.25" cy="842.5" r="5.4" fill="#000"/>
<circle cx="892.5" cy="846.25" r="5.4" fill="#000"/>
<circle cx="935" cy="846.25" r="5.4" fill="#000"/>
<circle cx="926.75" cy="849" r="5.4" fill="#000"/>
<circle cx="910" cy="847.5" r="5.4" fill="#000"/>
<circle cx="920" cy="845.5" r="5.4" fill="#000"/>
<circle cx="978" cy="592" r="5.4" fill="#c06000"/>
<circle cx="978" cy="787" r="5.4" fill="#c06000"/>
<circle cx="956.75" cy="802.5" r="5.4" fill="#c06000"/>
<circle cx="999.5" cy="798" r="5.4" fill="#c06000"/>
<circle cx="978" cy="805.5" r="5.4" fill="#c06000"/>
<circle cx="988.75" cy="805.5" r="5.4" fill="#c06000"/>
<circle cx="956.75" cy="812.5" r="5.4" fill="#c06000"/>
<circle cx="999.5" cy="809.5" r="5.4" fill="#c06000"/>
<circle cx="978" cy="821.25" r="5.4" fill="#c06000"/>
<circle cx="988.75" cy="821.25" r="5.4" fill="#c06000"/>
<circle cx="978" cy="834.5" r="5.4" fill="#c06000"/>
<circle cx="1041.25" cy="770.5" r="5.4" fill="#000080"/>
<circle cx="1041.25" cy="785" r="5.4" fill="#000080"/>
<circle cx="1020" cy="827.5" r="5.4" fill="#000080"/>
<circle cx="1047.5" cy="826.25" r="5.4" fill="#000080"/>
<circle cx="1033.75" cy="834.5" r="5.4" fill="#000080"/>
<circle cx="1020" cy="840" r="5.4" fill="#000080"/>
<circle cx="1048.75" cy="838.75" r="5.4" fill="#000080"/>
<circle cx="1063" cy="837.5" r="5.4" fill="#000080"/>
<text transform="translate(837.53,505.3) scale(0.8125,1)" font-size="40.5" fill="#000"><tspan x="0" y="0">CX</tspan></text>
<text transform="translate(883.93,515) scale(0.9262,1)" font-size="30.4" fill="#000"><tspan x="0" y="0">3</tspan></text>
<text transform="translate(901.25,505.3) scale(0.8528,1)" font-size="40.5" fill="#000"><tspan x="0" y="0">CR1</tspan></text>
<text x="970.9" y="486.1" font-size="30.4" letter-spacing="2.88" fill="#000">low</text>
<text transform="translate(1022.85,505.3) scale(0.8742,1)" font-size="40.5" fill="#000"><tspan x="0" y="0">Ly6C</tspan></text>
<text transform="translate(1104.24,487.19) scale(0.9399,1)" font-size="30.66" fill="#000">+</text>
<text transform="translate(800.8,792.42) rotate(-90) scale(0.9975,1)" font-size="26" fill="#000"><tspan x="0" y="0">Cell number (1X10</tspan></text>
<text transform="translate(790.6,577.37) rotate(-90) scale(0.9039,1)" font-size="19.6" fill="#000"><tspan x="0" y="0">3</tspan></text>
<text transform="translate(800.8,567.95) rotate(-90) scale(0.9719,1)" font-size="26" fill="#000"><tspan x="0" y="0">)</tspan></text>
<text transform="translate(925.9,896.7) rotate(-45) scale(1.0000,1)" font-size="31.7" text-anchor="end" fill="#000">GF</text>
<text transform="translate(989.4,896.7) rotate(-45) scale(1.0000,1)" font-size="31.7" text-anchor="end" fill="#000">WT</text>
<text transform="translate(1052.65,896.7) rotate(-45) scale(0.9750,1)" font-size="31.7" text-anchor="end" fill="#000">SK930</text>
</g>
<g id="chart-c2">
<rect x="1247.85" y="831.45" width="50.3" height="21.05" fill="#d3d3d3" stroke="#000" stroke-width="2.9"/>
<rect x="1311.6" y="699.45" width="50.3" height="153.05" fill="#ffa0a0" stroke="#000" stroke-width="2.9"/>
<rect x="1374.85" y="831.95" width="50.3" height="20.55" fill="#9090ff" stroke="#000" stroke-width="2.9"/>
<line x1="1236.75" y1="549.05" x2="1236.75" y2="853.95" stroke="#000" stroke-width="2.9"/>
<line x1="1216.25" y1="852.5" x2="1439.25" y2="852.5" stroke="#000" stroke-width="2.9"/>
<line x1="1216.25" y1="852.5" x2="1236.75" y2="852.5" stroke="#000" stroke-width="2.9"/>
<text transform="translate(1196.4,862.95) scale(0.9450,1)" font-size="26.7" fill="#000"><tspan x="0" y="0">0</tspan></text>
<line x1="1216.25" y1="792.1" x2="1236.75" y2="792.1" stroke="#000" stroke-width="2.9"/>
<text transform="translate(1196.69,802.55) scale(0.9450,1)" font-size="26.7" fill="#000"><tspan x="0" y="0">2</tspan></text>
<line x1="1216.25" y1="731.7" x2="1236.75" y2="731.7" stroke="#000" stroke-width="2.9"/>
<text transform="translate(1196.16,742.15) scale(0.9450,1)" font-size="26.7" fill="#000"><tspan x="0" y="0">4</tspan></text>
<line x1="1216.25" y1="671.3" x2="1236.75" y2="671.3" stroke="#000" stroke-width="2.9"/>
<text transform="translate(1196.53,681.75) scale(0.9450,1)" font-size="26.7" fill="#000"><tspan x="0" y="0">6</tspan></text>
<line x1="1216.25" y1="610.9" x2="1236.75" y2="610.9" stroke="#000" stroke-width="2.9"/>
<text transform="translate(1196.51,621.35) scale(0.9450,1)" font-size="26.7" fill="#000"><tspan x="0" y="0">8</tspan></text>
<line x1="1216.25" y1="550.5" x2="1236.75" y2="550.5" stroke="#000" stroke-width="2.9"/>
<text transform="translate(1182.37,560.95) scale(0.9450,1)" font-size="26.7" fill="#000"><tspan x="0" y="0">10</tspan></text>
<line x1="1273" y1="852.5" x2="1273" y2="866.9" stroke="#000" stroke-width="2.9"/>
<line x1="1336.75" y1="852.5" x2="1336.75" y2="866.9" stroke="#000" stroke-width="2.9"/>
<line x1="1400" y1="852.5" x2="1400" y2="866.9" stroke="#000" stroke-width="2.9"/>
<line x1="1273" y1="823.75" x2="1273" y2="835" stroke="#000" stroke-width="2.6"/>
<line x1="1259.7" y1="823.75" x2="1286.3" y2="823.75" stroke="#000" stroke-width="2.6"/>
<line x1="1259.7" y1="835" x2="1286.3" y2="835" stroke="#000" stroke-width="2.6"/>
<line x1="1336.75" y1="672" x2="1336.75" y2="723.25" stroke="#000" stroke-width="2.6"/>
<line x1="1323.45" y1="672" x2="1350.05" y2="672" stroke="#000" stroke-width="2.6"/>
<line x1="1323.45" y1="723.25" x2="1350.05" y2="723.25" stroke="#000" stroke-width="2.6"/>
<line x1="1400" y1="826.25" x2="1400" y2="833" stroke="#000" stroke-width="2.6"/>
<line x1="1386.7" y1="826.25" x2="1413.3" y2="826.25" stroke="#000" stroke-width="2.6"/>
<line x1="1386.7" y1="833" x2="1413.3" y2="833" stroke="#000" stroke-width="2.6"/>
<circle cx="1273" cy="806.25" r="5.4" fill="#000"/>
<circle cx="1273" cy="823.75" r="5.4" fill="#000"/>
<circle cx="1251.75" cy="829.5" r="5.4" fill="#000"/>
<circle cx="1294.5" cy="829.5" r="5.4" fill="#000"/>
<circle cx="1262.5" cy="845" r="5.4" fill="#000"/>
<circle cx="1284.25" cy="844.5" r="5.4" fill="#000"/>
<circle cx="1336.75" cy="577.5" r="5.4" fill="#c06000"/>
<circle cx="1336.75" cy="648.75" r="5.4" fill="#c06000"/>
<circle cx="1336.75" cy="692.5" r="5.4" fill="#c06000"/>
<circle cx="1336.75" cy="712.5" r="5.4" fill="#c06000"/>
<circle cx="1336.75" cy="728" r="5.4" fill="#c06000"/>
<circle cx="1336.75" cy="746.25" r="5.4" fill="#c06000"/>
<circle cx="1336.75" cy="781.75" r="5.4" fill="#c06000"/>
<circle cx="1410.75" cy="815" r="5.4" fill="#000080"/>
<circle cx="1400" cy="821.25" r="5.4" fill="#000080"/>
<circle cx="1421.75" cy="827" r="5.4" fill="#000080"/>
<circle cx="1389.5" cy="832" r="5.4" fill="#000080"/>
<circle cx="1410.75" cy="833" r="5.4" fill="#000080"/>
<circle cx="1378.75" cy="835.75" r="5.4" fill="#000080"/>
<circle cx="1400" cy="835" r="5.4" fill="#000080"/>
<circle cx="1421.75" cy="841.25" r="5.4" fill="#000080"/>
<path d="M1272.5 567.5 L1272.5 555 L1334.25 555 L1334.25 567.5" fill="none" stroke="#000" stroke-width="3.3" stroke-linejoin="miter"/>
<path d="M1342.5 567.5 L1342.5 555 L1404.25 555 L1404.25 567.5" fill="none" stroke="#000" stroke-width="3.3" stroke-linejoin="miter"/>
<text transform="translate(1243.18,545.75) scale(1.0586,1)" font-size="17.6" fill="#000"><tspan x="0" y="0" font-style="italic">P</tspan><tspan x="11.74" y="0"> = 0.0076</tspan></text>
<text transform="translate(1346.93,545.75) scale(1.0583,1)" font-size="17.6" fill="#000"><tspan x="0" y="0" font-style="italic">P</tspan><tspan x="11.74" y="0"> = 0.0034</tspan></text>
<text transform="translate(1193.47,507.3) scale(0.7947,1)" font-size="40.5" fill="#000"><tspan x="0" y="0">CX</tspan></text>
<text transform="translate(1239.02,517) scale(0.9297,1)" font-size="30.4" fill="#000"><tspan x="0" y="0">3</tspan></text>
<text transform="translate(1256.76,507.3) scale(0.8456,1)" font-size="40.5" fill="#000"><tspan x="0" y="0">CR1</tspan></text>
<text x="1325.69" y="488.1" font-size="30.4" letter-spacing="1.77" fill="#000">high</text>
<text transform="translate(1387.28,507.3) scale(0.8798,1)" font-size="40.5" fill="#000"><tspan x="0" y="0">Ly6C</tspan></text>
<text transform="translate(1469.53,488.84) scale(0.9231,1)" font-size="33.28" fill="#000">-</text>
<text transform="translate(1140.8,790.02) rotate(-90) scale(0.9975,1)" font-size="26" fill="#000"><tspan x="0" y="0">Cell number (1X10</tspan></text>
<text transform="translate(1130.6,574.68) rotate(-90) scale(0.8505,1)" font-size="19.6" fill="#000"><tspan x="0" y="0">4</tspan></text>
<text transform="translate(1140.8,565.55) rotate(-90) scale(0.9719,1)" font-size="26" fill="#000"><tspan x="0" y="0">)</tspan></text>
<text transform="translate(1284.4,896.7) rotate(-45) scale(1.0000,1)" font-size="31.7" text-anchor="end" fill="#000">GF</text>
<text transform="translate(1348.15,896.7) rotate(-45) scale(1.0000,1)" font-size="31.7" text-anchor="end" fill="#000">WT</text>
<text transform="translate(1411.4,896.7) rotate(-45) scale(0.9750,1)" font-size="31.7" text-anchor="end" fill="#000">SK930</text>
</g>
<g id="chart-e1">
<rect x="123.35" y="1770.7" width="50.3" height="53.8" fill="#d3d3d3" stroke="#000" stroke-width="2.9"/>
<rect x="187.35" y="1798.45" width="50.3" height="26.05" fill="#ffa0a0" stroke="#000" stroke-width="2.9"/>
<rect x="251.35" y="1656.45" width="50.3" height="168.05" fill="#9090ff" stroke="#000" stroke-width="2.9"/>
<line x1="112" y1="1519.3" x2="112" y2="1825.95" stroke="#000" stroke-width="2.9"/>
<line x1="91.25" y1="1824.5" x2="315.5" y2="1824.5" stroke="#000" stroke-width="2.9"/>
<line x1="91.25" y1="1824.5" x2="112" y2="1824.5" stroke="#000" stroke-width="2.9"/>
<text transform="translate(71.4,1834.95) scale(0.9450,1)" font-size="26.7" fill="#000"><tspan x="0" y="0">0</tspan></text>
<line x1="91.25" y1="1748.56" x2="112" y2="1748.56" stroke="#000" stroke-width="2.9"/>
<text transform="translate(57.37,1759.01) scale(0.9450,1)" font-size="26.7" fill="#000"><tspan x="0" y="0">20</tspan></text>
<line x1="91.25" y1="1672.62" x2="112" y2="1672.62" stroke="#000" stroke-width="2.9"/>
<text transform="translate(57.37,1683.08) scale(0.9450,1)" font-size="26.7" fill="#000"><tspan x="0" y="0">40</tspan></text>
<line x1="91.25" y1="1596.69" x2="112" y2="1596.69" stroke="#000" stroke-width="2.9"/>
<text transform="translate(57.37,1607.14) scale(0.9450,1)" font-size="26.7" fill="#000"><tspan x="0" y="0">60</tspan></text>
<line x1="91.25" y1="1520.75" x2="112" y2="1520.75" stroke="#000" stroke-width="2.9"/>
<text transform="translate(57.37,1531.2) scale(0.9450,1)" font-size="26.7" fill="#000"><tspan x="0" y="0">80</tspan></text>
<line x1="148.5" y1="1824.5" x2="148.5" y2="1838.9" stroke="#000" stroke-width="2.9"/>
<line x1="212.5" y1="1824.5" x2="212.5" y2="1838.9" stroke="#000" stroke-width="2.9"/>
<line x1="276.5" y1="1824.5" x2="276.5" y2="1838.9" stroke="#000" stroke-width="2.9"/>
<line x1="148.5" y1="1761.75" x2="148.5" y2="1775.5" stroke="#000" stroke-width="2.6"/>
<line x1="135.2" y1="1761.75" x2="161.8" y2="1761.75" stroke="#000" stroke-width="2.6"/>
<line x1="135.2" y1="1775.5" x2="161.8" y2="1775.5" stroke="#000" stroke-width="2.6"/>
<line x1="212.5" y1="1788.75" x2="212.5" y2="1805" stroke="#000" stroke-width="2.6"/>
<line x1="199.2" y1="1788.75" x2="225.8" y2="1788.75" stroke="#000" stroke-width="2.6"/>
<line x1="199.2" y1="1805" x2="225.8" y2="1805" stroke="#000" stroke-width="2.6"/>
<line x1="276.5" y1="1635" x2="276.5" y2="1674.5" stroke="#000" stroke-width="2.6"/>
<line x1="263.2" y1="1635" x2="289.8" y2="1635" stroke="#000" stroke-width="2.6"/>
<line x1="263.2" y1="1674.5" x2="289.8" y2="1674.5" stroke="#000" stroke-width="2.6"/>
<circle cx="126.75" cy="1752.5" r="5.4" fill="#000"/>
<circle cx="148.5" cy="1758.75" r="5.4" fill="#000"/>
<circle cx="170.75" cy="1756.75" r="5.4" fill="#000"/>
<circle cx="148.5" cy="1768.75" r="5.4" fill="#000"/>
<circle cx="159.5" cy="1783.75" r="5.4" fill="#000"/>
<circle cx="137.5" cy="1793.75" r="5.4" fill="#000"/>
<circle cx="212.5" cy="1755" r="5.4" fill="#c06000"/>
<circle cx="219.5" cy="1786.25" r="5.4" fill="#c06000"/>
<circle cx="205" cy="1794.25" r="5.4" fill="#c06000"/>
<circle cx="205" cy="1806.25" r="5.4" fill="#c06000"/>
<circle cx="219.5" cy="1811.25" r="5.4" fill="#c06000"/>
<circle cx="234.25" cy="1810.5" r="5.4" fill="#c06000"/>
<circle cx="191.25" cy="1815.5" r="5.4" fill="#c06000"/>
<circle cx="276.5" cy="1575" r="5.4" fill="#000080"/>
<circle cx="276.5" cy="1600" r="5.4" fill="#000080"/>
<circle cx="276.5" cy="1619.25" r="5.4" fill="#000080"/>
<circle cx="266.25" cy="1653.25" r="5.4" fill="#000080"/>
<circle cx="287" cy="1656.75" r="5.4" fill="#000080"/>
<circle cx="276.5" cy="1688.25" r="5.4" fill="#000080"/>
<circle cx="276.5" cy="1712" r="5.4" fill="#000080"/>
<circle cx="276.5" cy="1736.75" r="5.4" fill="#000080"/>
<path d="M162 1530 L162 1517.5 L275 1517.5 L275 1530" fill="none" stroke="#000" stroke-width="3.3" stroke-linejoin="miter"/>
<path d="M208 1570 L208 1557.5 L276.75 1557.5 L276.75 1570" fill="none" stroke="#000" stroke-width="3.3" stroke-linejoin="miter"/>
<text transform="translate(167.68,1512) scale(1.0581,1)" font-size="17.6" fill="#000"><tspan x="0" y="0" font-style="italic">P</tspan><tspan x="11.74" y="0"> = 0.0055</tspan></text>
<text transform="translate(202.43,1551.75) scale(1.0583,1)" font-size="17.6" fill="#000"><tspan x="0" y="0" font-style="italic">P</tspan><tspan x="11.74" y="0"> = 0.0034</tspan></text>
<text transform="translate(108.92,1476.8) scale(0.8959,1)" font-size="40.5" fill="#000"><tspan x="0" y="0">NOS2</tspan></text>
<text transform="translate(206.97,1464.17) scale(0.9307,1)" font-size="26.98" fill="#000">+</text>
<text transform="translate(222.63,1476.8) scale(0.9462,1)" font-size="40.5" fill="#000"><tspan x="0" y="0">Arg1</tspan></text>
<text transform="translate(303.16,1464.06) scale(0.9067,1)" font-size="30.72" fill="#000">-</text>
<text transform="translate(30.8,1836.07) rotate(-90) scale(0.9420,1)" font-size="26" fill="#000"><tspan x="0" y="0">% in CD11c</tspan></text>
<text transform="translate(21.6,1705.8) rotate(-90) scale(0.7040,1)" font-size="25.6" fill="#000">-</text>
<text transform="translate(30.8,1699.42) rotate(-90) scale(0.9208,1)" font-size="26" fill="#000"><tspan x="0" y="0">CD11b</tspan></text>
<text transform="translate(21.2,1625.83) rotate(-90) scale(0.9973,1)" font-size="21.05" fill="#000">+</text>
<text transform="translate(30.8,1607.94) rotate(-90) scale(1.0042,1)" font-size="26" fill="#000"><tspan x="0" y="0">F4/80</tspan></text>
<text transform="translate(21.3,1541.13) rotate(-90) scale(0.9365,1)" font-size="20.44" fill="#000">+</text>
<text transform="translate(159.9,1868.7) rotate(-45) scale(1.0000,1)" font-size="31.7" text-anchor="end" fill="#000">GF</text>
<text transform="translate(223.9,1868.7) rotate(-45) scale(1.0000,1)" font-size="31.7" text-anchor="end" fill="#000">WT</text>
<text transform="translate(287.9,1868.7) rotate(-45) scale(0.9750,1)" font-size="31.7" text-anchor="end" fill="#000">SK930</text>
</g>
<g id="chart-e2">
<rect x="502.1" y="1665.95" width="50.3" height="158.55" fill="#d3d3d3" stroke="#000" stroke-width="2.9"/>
<rect x="566.1" y="1614.45" width="50.3" height="210.05" fill="#ffa0a0" stroke="#000" stroke-width="2.9"/>
<rect x="629.85" y="1700.7" width="50.3" height="123.8" fill="#9090ff" stroke="#000" stroke-width="2.9"/>
<line x1="490.75" y1="1519.3" x2="490.75" y2="1825.95" stroke="#000" stroke-width="2.9"/>
<line x1="470" y1="1824.5" x2="694.25" y2="1824.5" stroke="#000" stroke-width="2.9"/>
<line x1="470" y1="1824.5" x2="490.75" y2="1824.5" stroke="#000" stroke-width="2.9"/>
<text transform="translate(450.15,1834.95) scale(0.9450,1)" font-size="26.7" fill="#000"><tspan x="0" y="0">0</tspan></text>
<line x1="470" y1="1763.75" x2="490.75" y2="1763.75" stroke="#000" stroke-width="2.9"/>
<text transform="translate(436.12,1774.2) scale(0.9450,1)" font-size="26.7" fill="#000"><tspan x="0" y="0">20</tspan></text>
<line x1="470" y1="1703" x2="490.75" y2="1703" stroke="#000" stroke-width="2.9"/>
<text transform="translate(436.12,1713.45) scale(0.9450,1)" font-size="26.7" fill="#000"><tspan x="0" y="0">40</tspan></text>
<line x1="470" y1="1642.25" x2="490.75" y2="1642.25" stroke="#000" stroke-width="2.9"/>
<text transform="translate(436.12,1652.7) scale(0.9450,1)" font-size="26.7" fill="#000"><tspan x="0" y="0">60</tspan></text>
<line x1="470" y1="1581.5" x2="490.75" y2="1581.5" stroke="#000" stroke-width="2.9"/>
<text transform="translate(436.12,1591.95) scale(0.9450,1)" font-size="26.7" fill="#000"><tspan x="0" y="0">80</tspan></text>
<line x1="470" y1="1520.75" x2="490.75" y2="1520.75" stroke="#000" stroke-width="2.9"/>
<text transform="translate(422.09,1531.2) scale(0.9450,1)" font-size="26.7" fill="#000"><tspan x="0" y="0">100</tspan></text>
<line x1="527.25" y1="1824.5" x2="527.25" y2="1838.9" stroke="#000" stroke-width="2.9"/>
<line x1="591.25" y1="1824.5" x2="591.25" y2="1838.9" stroke="#000" stroke-width="2.9"/>
<line x1="655" y1="1824.5" x2="655" y2="1838.9" stroke="#000" stroke-width="2.9"/>
<line x1="527.25" y1="1653.75" x2="527.25" y2="1674.25" stroke="#000" stroke-width="2.6"/>
<line x1="513.95" y1="1653.75" x2="540.55" y2="1653.75" stroke="#000" stroke-width="2.6"/>
<line x1="513.95" y1="1674.25" x2="540.55" y2="1674.25" stroke="#000" stroke-width="2.6"/>
<line x1="591.25" y1="1595.75" x2="591.25" y2="1631.25" stroke="#000" stroke-width="2.6"/>
<line x1="577.95" y1="1595.75" x2="604.55" y2="1595.75" stroke="#000" stroke-width="2.6"/>
<line x1="577.95" y1="1631.25" x2="604.55" y2="1631.25" stroke="#000" stroke-width="2.6"/>
<line x1="655" y1="1680.5" x2="655" y2="1718.25" stroke="#000" stroke-width="2.6"/>
<line x1="641.7" y1="1680.5" x2="668.3" y2="1680.5" stroke="#000" stroke-width="2.6"/>
<line x1="641.7" y1="1718.25" x2="668.3" y2="1718.25" stroke="#000" stroke-width="2.6"/>
<circle cx="517" cy="1639.25" r="5.4" fill="#000"/>
<circle cx="538.25" cy="1631.75" r="5.4" fill="#000"/>
<circle cx="527.25" cy="1661.75" r="5.4" fill="#000"/>
<circle cx="527.25" cy="1676.25" r="5.4" fill="#000"/>
<circle cx="517" cy="1690" r="5.4" fill="#000"/>
<circle cx="538.25" cy="1689.25" r="5.4" fill="#000"/>
<circle cx="591.25" cy="1569.5" r="5.4" fill="#c06000"/>
<circle cx="601.75" cy="1580" r="5.4" fill="#c06000"/>
<circle cx="580.75" cy="1584.25" r="5.4" fill="#c06000"/>
<circle cx="591.25" cy="1595.75" r="5.4" fill="#c06000"/>
<circle cx="591.25" cy="1625" r="5.4" fill="#c06000"/>
<circle cx="591.25" cy="1637.5" r="5.4" fill="#c06000"/>
<circle cx="591.25" cy="1702.5" r="5.4" fill="#c06000"/>
<circle cx="655" cy="1613.75" r="5.4" fill="#000080"/>
<circle cx="655" cy="1648" r="5.4" fill="#000080"/>
<circle cx="655" cy="1680.75" r="5.4" fill="#000080"/>
<circle cx="644.5" cy="1695" r="5.4" fill="#000080"/>
<circle cx="665.75" cy="1703.75" r="5.4" fill="#000080"/>
<circle cx="655" cy="1733.25" r="5.4" fill="#000080"/>
<circle cx="655" cy="1747.5" r="5.4" fill="#000080"/>
<circle cx="655" cy="1775.5" r="5.4" fill="#000080"/>
<path d="M522.5 1542 L522.5 1529.25 L591.75 1529.25 L591.75 1542" fill="none" stroke="#000" stroke-width="3.3" stroke-linejoin="miter"/>
<text transform="translate(518.18,1523.75) scale(1.0575,1)" font-size="17.6" fill="#000"><tspan x="0" y="0" font-style="italic">P</tspan><tspan x="11.74" y="0"> = 0.029</tspan></text>
<text transform="translate(498.64,1476.8) scale(0.8906,1)" font-size="40.5" fill="#000"><tspan x="0" y="0">NOS2</tspan></text>
<text transform="translate(596.65,1463.96) scale(0.8800,1)" font-size="30.72" fill="#000">-</text>
<text transform="translate(606.57,1476.8) scale(0.9510,1)" font-size="40.5" fill="#000"><tspan x="0" y="0">Arg1</tspan></text>
<text transform="translate(687.12,1464.17) scale(0.9307,1)" font-size="26.98" fill="#000">+</text>
<text transform="translate(410.8,1834.87) rotate(-90) scale(0.9420,1)" font-size="26" fill="#000"><tspan x="0" y="0">% in CD11c</tspan></text>
<text transform="translate(401.6,1704.6) rotate(-90) scale(0.7040,1)" font-size="25.6" fill="#000">-</text>
<text transform="translate(410.8,1698.22) rotate(-90) scale(0.9208,1)" font-size="26" fill="#000"><tspan x="0" y="0">CD11b</tspan></text>
<text transform="translate(401.2,1624.63) rotate(-90) scale(0.9973,1)" font-size="21.05" fill="#000">+</text>
<text transform="translate(410.8,1606.74) rotate(-90) scale(1.0042,1)" font-size="26" fill="#000"><tspan x="0" y="0">F4/80</tspan></text>
<text transform="translate(401.3,1539.93) rotate(-90) scale(0.9365,1)" font-size="20.44" fill="#000">+</text>
<text transform="translate(538.65,1868.7) rotate(-45) scale(1.0000,1)" font-size="31.7" text-anchor="end" fill="#000">GF</text>
<text transform="translate(602.65,1868.7) rotate(-45) scale(1.0000,1)" font-size="31.7" text-anchor="end" fill="#000">WT</text>
<text transform="translate(666.4,1868.7) rotate(-45) scale(0.9750,1)" font-size="31.7" text-anchor="end" fill="#000">SK930</text>
</g>
<g id="chart-f1">
<rect x="887.85" y="1807.7" width="50.3" height="14.8" fill="#d3d3d3" stroke="#000" stroke-width="2.9"/>
<rect x="951.6" y="1760.2" width="50.3" height="62.3" fill="#ffa0a0" stroke="#000" stroke-width="2.9"/>
<rect x="1015.35" y="1743.95" width="50.3" height="78.55" fill="#9090ff" stroke="#000" stroke-width="2.9"/>
<line x1="876.75" y1="1516.05" x2="876.75" y2="1823.95" stroke="#000" stroke-width="2.9"/>
<line x1="855.75" y1="1822.5" x2="1079.5" y2="1822.5" stroke="#000" stroke-width="2.9"/>
<line x1="855.75" y1="1822.5" x2="876.75" y2="1822.5" stroke="#000" stroke-width="2.9"/>
<text transform="translate(835.9,1832.95) scale(0.9450,1)" font-size="26.7" fill="#000"><tspan x="0" y="0">0</tspan></text>
<line x1="855.75" y1="1720.83" x2="876.75" y2="1720.83" stroke="#000" stroke-width="2.9"/>
<text transform="translate(821.87,1731.28) scale(0.9450,1)" font-size="26.7" fill="#000"><tspan x="0" y="0">10</tspan></text>
<line x1="855.75" y1="1619.17" x2="876.75" y2="1619.17" stroke="#000" stroke-width="2.9"/>
<text transform="translate(821.87,1629.62) scale(0.9450,1)" font-size="26.7" fill="#000"><tspan x="0" y="0">20</tspan></text>
<line x1="855.75" y1="1517.5" x2="876.75" y2="1517.5" stroke="#000" stroke-width="2.9"/>
<text transform="translate(821.87,1527.95) scale(0.9450,1)" font-size="26.7" fill="#000"><tspan x="0" y="0">30</tspan></text>
<line x1="913" y1="1822.5" x2="913" y2="1836.9" stroke="#000" stroke-width="2.9"/>
<line x1="976.75" y1="1822.5" x2="976.75" y2="1836.9" stroke="#000" stroke-width="2.9"/>
<line x1="1040.5" y1="1822.5" x2="1040.5" y2="1836.9" stroke="#000" stroke-width="2.9"/>
<line x1="913" y1="1799.25" x2="913" y2="1813" stroke="#000" stroke-width="2.6"/>
<line x1="899.7" y1="1799.25" x2="926.3" y2="1799.25" stroke="#000" stroke-width="2.6"/>
<line x1="899.7" y1="1813" x2="926.3" y2="1813" stroke="#000" stroke-width="2.6"/>
<line x1="976.75" y1="1720.75" x2="976.75" y2="1795.75" stroke="#000" stroke-width="2.6"/>
<line x1="963.45" y1="1720.75" x2="990.05" y2="1720.75" stroke="#000" stroke-width="2.6"/>
<line x1="963.45" y1="1795.75" x2="990.05" y2="1795.75" stroke="#000" stroke-width="2.6"/>
<line x1="1040.5" y1="1726.75" x2="1040.5" y2="1757" stroke="#000" stroke-width="2.6"/>
<line x1="1027.2" y1="1726.75" x2="1053.8" y2="1726.75" stroke="#000" stroke-width="2.6"/>
<line x1="1027.2" y1="1757" x2="1053.8" y2="1757" stroke="#000" stroke-width="2.6"/>
<circle cx="913" cy="1764.5" r="5.4" fill="#000"/>
<circle cx="908.75" cy="1806.75" r="5.4" fill="#000"/>
<circle cx="916.25" cy="1810" r="5.4" fill="#000"/>
<circle cx="891.75" cy="1816.75" r="5.4" fill="#000"/>
<circle cx="907.5" cy="1817.5" r="5.4" fill="#000"/>
<circle cx="925" cy="1817.5" r="5.4" fill="#000"/>
<circle cx="935" cy="1815" r="5.4" fill="#000"/>
<circle cx="976.75" cy="1535.75" r="5.4" fill="#c06000"/>
<circle cx="976.75" cy="1764.5" r="5.4" fill="#c06000"/>
<circle cx="998.25" cy="1792.5" r="5.4" fill="#c06000"/>
<circle cx="955.5" cy="1799.5" r="5.4" fill="#c06000"/>
<circle cx="976.75" cy="1802" r="5.4" fill="#c06000"/>
<circle cx="998.25" cy="1805" r="5.4" fill="#c06000"/>
<circle cx="955.5" cy="1810.5" r="5.4" fill="#c06000"/>
<circle cx="1040.5" cy="1667.5" r="5.4" fill="#000080"/>
<circle cx="1040.5" cy="1688.75" r="5.4" fill="#000080"/>
<circle cx="1040.5" cy="1737" r="5.4" fill="#000080"/>
<circle cx="1040.5" cy="1752.5" r="5.4" fill="#000080"/>
<circle cx="1062.5" cy="1764.5" r="5.4" fill="#000080"/>
<circle cx="1040.5" cy="1773.25" r="5.4" fill="#000080"/>
<circle cx="1062.5" cy="1775" r="5.4" fill="#000080"/>
<circle cx="1019.25" cy="1777.5" r="5.4" fill="#000080"/>
<text transform="translate(872.92,1476.8) scale(0.8959,1)" font-size="40.5" fill="#000"><tspan x="0" y="0">NOS2</tspan></text>
<text transform="translate(970.97,1464.17) scale(0.9307,1)" font-size="26.98" fill="#000">+</text>
<text transform="translate(986.63,1476.8) scale(0.9462,1)" font-size="40.5" fill="#000"><tspan x="0" y="0">Arg1</tspan></text>
<text transform="translate(1067.16,1464.06) scale(0.9067,1)" font-size="30.72" fill="#000">-</text>
<text transform="translate(801,1782.57) rotate(-90) scale(0.9975,1)" font-size="26" fill="#000"><tspan x="0" y="0">Cell number (1X10</tspan></text>
<text transform="translate(790.8,1567.52) rotate(-90) scale(0.9039,1)" font-size="19.6" fill="#000"><tspan x="0" y="0">3</tspan></text>
<text transform="translate(801,1558.1) rotate(-90) scale(0.9719,1)" font-size="26" fill="#000"><tspan x="0" y="0">)</tspan></text>
<text transform="translate(924.4,1866.7) rotate(-45) scale(1.0000,1)" font-size="31.7" text-anchor="end" fill="#000">GF</text>
<text transform="translate(988.15,1866.7) rotate(-45) scale(1.0000,1)" font-size="31.7" text-anchor="end" fill="#000">WT</text>
<text transform="translate(1051.9,1866.7) rotate(-45) scale(0.9750,1)" font-size="31.7" text-anchor="end" fill="#000">SK930</text>
</g>
<g id="chart-f2">
<rect x="1250.4" y="1815.95" width="50.7" height="8.55" fill="#d3d3d3" stroke="#000" stroke-width="2.9"/>
<rect x="1315.15" y="1704.7" width="50.7" height="119.8" fill="#ffa0a0" stroke="#000" stroke-width="2.9"/>
<rect x="1379.65" y="1802.7" width="50.7" height="21.8" fill="#9090ff" stroke="#000" stroke-width="2.9"/>
<line x1="1239.25" y1="1519.05" x2="1239.25" y2="1825.95" stroke="#000" stroke-width="2.9"/>
<line x1="1218.25" y1="1824.5" x2="1445" y2="1824.5" stroke="#000" stroke-width="2.9"/>
<line x1="1218.25" y1="1824.5" x2="1239.25" y2="1824.5" stroke="#000" stroke-width="2.9"/>
<text transform="translate(1198.4,1834.95) scale(0.9450,1)" font-size="26.7" fill="#000"><tspan x="0" y="0">0</tspan></text>
<line x1="1218.25" y1="1763.7" x2="1239.25" y2="1763.7" stroke="#000" stroke-width="2.9"/>
<text transform="translate(1198.69,1774.15) scale(0.9450,1)" font-size="26.7" fill="#000"><tspan x="0" y="0">2</tspan></text>
<line x1="1218.25" y1="1702.9" x2="1239.25" y2="1702.9" stroke="#000" stroke-width="2.9"/>
<text transform="translate(1198.16,1713.35) scale(0.9450,1)" font-size="26.7" fill="#000"><tspan x="0" y="0">4</tspan></text>
<line x1="1218.25" y1="1642.1" x2="1239.25" y2="1642.1" stroke="#000" stroke-width="2.9"/>
<text transform="translate(1198.53,1652.55) scale(0.9450,1)" font-size="26.7" fill="#000"><tspan x="0" y="0">6</tspan></text>
<line x1="1218.25" y1="1581.3" x2="1239.25" y2="1581.3" stroke="#000" stroke-width="2.9"/>
<text transform="translate(1198.51,1591.75) scale(0.9450,1)" font-size="26.7" fill="#000"><tspan x="0" y="0">8</tspan></text>
<line x1="1218.25" y1="1520.5" x2="1239.25" y2="1520.5" stroke="#000" stroke-width="2.9"/>
<text transform="translate(1184.37,1530.95) scale(0.9450,1)" font-size="26.7" fill="#000"><tspan x="0" y="0">10</tspan></text>
<line x1="1275.75" y1="1824.5" x2="1275.75" y2="1838.9" stroke="#000" stroke-width="2.9"/>
<line x1="1340.5" y1="1824.5" x2="1340.5" y2="1838.9" stroke="#000" stroke-width="2.9"/>
<line x1="1405" y1="1824.5" x2="1405" y2="1838.9" stroke="#000" stroke-width="2.9"/>
<line x1="1275.75" y1="1811" x2="1275.75" y2="1818" stroke="#000" stroke-width="2.6"/>
<line x1="1262.45" y1="1811" x2="1289.05" y2="1811" stroke="#000" stroke-width="2.6"/>
<line x1="1262.45" y1="1818" x2="1289.05" y2="1818" stroke="#000" stroke-width="2.6"/>
<line x1="1340.5" y1="1688" x2="1340.5" y2="1718.75" stroke="#000" stroke-width="2.6"/>
<line x1="1327.2" y1="1688" x2="1353.8" y2="1688" stroke="#000" stroke-width="2.6"/>
<line x1="1327.2" y1="1718.75" x2="1353.8" y2="1718.75" stroke="#000" stroke-width="2.6"/>
<line x1="1405" y1="1795.5" x2="1405" y2="1806.25" stroke="#000" stroke-width="2.6"/>
<line x1="1391.7" y1="1795.5" x2="1418.3" y2="1795.5" stroke="#000" stroke-width="2.6"/>
<line x1="1391.7" y1="1806.25" x2="1418.3" y2="1806.25" stroke="#000" stroke-width="2.6"/>
<circle cx="1275.75" cy="1805" r="5.4" fill="#000"/>
<circle cx="1265" cy="1812" r="5.4" fill="#000"/>
<circle cx="1287.5" cy="1812" r="5.4" fill="#000"/>
<circle cx="1275.75" cy="1818" r="5.4" fill="#000"/>
<circle cx="1254.5" cy="1820" r="5.4" fill="#000"/>
<circle cx="1297.5" cy="1820" r="5.4" fill="#000"/>
<circle cx="1340.5" cy="1638" r="5.4" fill="#c06000"/>
<circle cx="1330" cy="1688.25" r="5.4" fill="#c06000"/>
<circle cx="1351.75" cy="1687.5" r="5.4" fill="#c06000"/>
<circle cx="1340.5" cy="1704.5" r="5.4" fill="#c06000"/>
<circle cx="1330" cy="1717.5" r="5.4" fill="#c06000"/>
<circle cx="1351.75" cy="1718" r="5.4" fill="#c06000"/>
<circle cx="1340.5" cy="1769.5" r="5.4" fill="#c06000"/>
<circle cx="1394.25" cy="1780" r="5.4" fill="#000080"/>
<circle cx="1405" cy="1783.75" r="5.4" fill="#000080"/>
<circle cx="1416.25" cy="1783" r="5.4" fill="#000080"/>
<circle cx="1394.25" cy="1805.5" r="5.4" fill="#000080"/>
<circle cx="1383.25" cy="1815" r="5.4" fill="#000080"/>
<circle cx="1405" cy="1814.5" r="5.4" fill="#000080"/>
<circle cx="1416.25" cy="1813.75" r="5.4" fill="#000080"/>
<circle cx="1427" cy="1816.25" r="5.4" fill="#000080"/>
<path d="M1272.5 1605.75 L1272.5 1593 L1334.25 1593 L1334.25 1605.75" fill="none" stroke="#000" stroke-width="3.3" stroke-linejoin="miter"/>
<path d="M1341.25 1605.75 L1341.25 1593 L1403.25 1593 L1403.25 1605.75" fill="none" stroke="#000" stroke-width="3.3" stroke-linejoin="miter"/>
<text transform="translate(1243.17,1587.5) scale(1.0674,1)" font-size="17.6" fill="#000"><tspan x="0" y="0" font-style="italic">P</tspan><tspan x="11.74" y="0"> = 0.0076</tspan></text>
<text transform="translate(1346.92,1587.5) scale(1.0642,1)" font-size="17.6" fill="#000"><tspan x="0" y="0" font-style="italic">P</tspan><tspan x="11.74" y="0"> = 0.0034</tspan></text>
<text transform="translate(1237.99,1476.8) scale(0.8906,1)" font-size="40.5" fill="#000"><tspan x="0" y="0">NOS2</tspan></text>
<text transform="translate(1336,1463.96) scale(0.8800,1)" font-size="30.72" fill="#000">-</text>
<text transform="translate(1345.92,1476.8) scale(0.9510,1)" font-size="40.5" fill="#000"><tspan x="0" y="0">Arg1</tspan></text>
<text transform="translate(1426.47,1464.17) scale(0.9307,1)" font-size="26.98" fill="#000">+</text>
<text transform="translate(1161.5,1780.07) rotate(-90) scale(0.9975,1)" font-size="26" fill="#000"><tspan x="0" y="0">Cell number (1X10</tspan></text>
<text transform="translate(1151.3,1564.73) rotate(-90) scale(0.8505,1)" font-size="19.6" fill="#000"><tspan x="0" y="0">4</tspan></text>
<text transform="translate(1161.5,1555.6) rotate(-90) scale(0.9719,1)" font-size="26" fill="#000"><tspan x="0" y="0">)</tspan></text>
<text transform="translate(1287.15,1868.7) rotate(-45) scale(1.0000,1)" font-size="31.7" text-anchor="end" fill="#000">GF</text>
<text transform="translate(1351.9,1868.7) rotate(-45) scale(1.0000,1)" font-size="31.7" text-anchor="end" fill="#000">WT</text>
<text transform="translate(1416.4,1868.7) rotate(-45) scale(0.9750,1)" font-size="31.7" text-anchor="end" fill="#000">SK930</text>
</g>
<g id="chart-g">
<rect x="1597.35" y="1808.95" width="50.3" height="16.05" fill="#d3d3d3" stroke="#000" stroke-width="2.9"/>
<rect x="1661.35" y="1818.2" width="50.3" height="6.8" fill="#ffa0a0" stroke="#000" stroke-width="2.9"/>
<rect x="1725.1" y="1736.45" width="50.3" height="88.55" fill="#9090ff" stroke="#000" stroke-width="2.9"/>
<line x1="1586.25" y1="1519.8" x2="1586.25" y2="1826.45" stroke="#000" stroke-width="2.9"/>
<line x1="1565.25" y1="1825" x2="1789" y2="1825" stroke="#000" stroke-width="2.9"/>
<line x1="1565.25" y1="1825" x2="1586.25" y2="1825" stroke="#000" stroke-width="2.9"/>
<text transform="translate(1545.4,1835.45) scale(0.9450,1)" font-size="26.7" fill="#000"><tspan x="0" y="0">0</tspan></text>
<line x1="1565.25" y1="1764.25" x2="1586.25" y2="1764.25" stroke="#000" stroke-width="2.9"/>
<text transform="translate(1545.65,1774.7) scale(0.9450,1)" font-size="26.7" fill="#000"><tspan x="0" y="0">1</tspan></text>
<line x1="1565.25" y1="1703.5" x2="1586.25" y2="1703.5" stroke="#000" stroke-width="2.9"/>
<text transform="translate(1545.69,1713.95) scale(0.9450,1)" font-size="26.7" fill="#000"><tspan x="0" y="0">2</tspan></text>
<line x1="1565.25" y1="1642.75" x2="1586.25" y2="1642.75" stroke="#000" stroke-width="2.9"/>
<text transform="translate(1545.53,1653.2) scale(0.9450,1)" font-size="26.7" fill="#000"><tspan x="0" y="0">3</tspan></text>
<line x1="1565.25" y1="1582" x2="1586.25" y2="1582" stroke="#000" stroke-width="2.9"/>
<text transform="translate(1545.16,1592.45) scale(0.9450,1)" font-size="26.7" fill="#000"><tspan x="0" y="0">4</tspan></text>
<line x1="1565.25" y1="1521.25" x2="1586.25" y2="1521.25" stroke="#000" stroke-width="2.9"/>
<text transform="translate(1545.48,1531.7) scale(0.9450,1)" font-size="26.7" fill="#000"><tspan x="0" y="0">5</tspan></text>
<line x1="1622.5" y1="1825" x2="1622.5" y2="1839.4" stroke="#000" stroke-width="2.9"/>
<line x1="1686.5" y1="1825" x2="1686.5" y2="1839.4" stroke="#000" stroke-width="2.9"/>
<line x1="1750.25" y1="1825" x2="1750.25" y2="1839.4" stroke="#000" stroke-width="2.9"/>
<line x1="1622.5" y1="1805" x2="1622.5" y2="1810" stroke="#000" stroke-width="2.6"/>
<line x1="1609.2" y1="1805" x2="1635.8" y2="1805" stroke="#000" stroke-width="2.6"/>
<line x1="1609.2" y1="1810" x2="1635.8" y2="1810" stroke="#000" stroke-width="2.6"/>
<line x1="1686.5" y1="1813.75" x2="1686.5" y2="1820" stroke="#000" stroke-width="2.6"/>
<line x1="1673.2" y1="1813.75" x2="1699.8" y2="1813.75" stroke="#000" stroke-width="2.6"/>
<line x1="1673.2" y1="1820" x2="1699.8" y2="1820" stroke="#000" stroke-width="2.6"/>
<line x1="1750.25" y1="1708.75" x2="1750.25" y2="1760.75" stroke="#000" stroke-width="2.6"/>
<line x1="1736.95" y1="1708.75" x2="1763.55" y2="1708.75" stroke="#000" stroke-width="2.6"/>
<line x1="1736.95" y1="1760.75" x2="1763.55" y2="1760.75" stroke="#000" stroke-width="2.6"/>
<circle cx="1615.25" cy="1799.25" r="5.4" fill="#000"/>
<circle cx="1629.5" cy="1803" r="5.4" fill="#000"/>
<circle cx="1600.75" cy="1805.5" r="5.4" fill="#000"/>
<circle cx="1644" cy="1805.5" r="5.4" fill="#000"/>
<circle cx="1615.25" cy="1818" r="5.4" fill="#000"/>
<circle cx="1629.5" cy="1815" r="5.4" fill="#000"/>
<circle cx="1686.5" cy="1797.5" r="5.4" fill="#c06000"/>
<circle cx="1673.25" cy="1815.75" r="5.4" fill="#c06000"/>
<circle cx="1690.75" cy="1817.5" r="5.4" fill="#c06000"/>
<circle cx="1664.5" cy="1823" r="5.4" fill="#c06000"/>
<circle cx="1682" cy="1823" r="5.4" fill="#c06000"/>
<circle cx="1699" cy="1823.75" r="5.4" fill="#c06000"/>
<circle cx="1708.25" cy="1821.75" r="5.4" fill="#c06000"/>
<circle cx="1750.25" cy="1580" r="5.4" fill="#000080"/>
<circle cx="1750.25" cy="1684.5" r="5.4" fill="#000080"/>
<circle cx="1750.25" cy="1716.75" r="5.4" fill="#000080"/>
<circle cx="1739.5" cy="1757" r="5.4" fill="#000080"/>
<circle cx="1760.75" cy="1763" r="5.4" fill="#000080"/>
<circle cx="1750.25" cy="1780" r="5.4" fill="#000080"/>
<circle cx="1750.25" cy="1795" r="5.4" fill="#000080"/>
<circle cx="1750.25" cy="1805.5" r="5.4" fill="#000080"/>
<path d="M1642 1527.5 L1642 1515 L1755 1515 L1755 1527.5" fill="none" stroke="#000" stroke-width="3.3" stroke-linejoin="miter"/>
<path d="M1687.5 1567.5 L1687.5 1555.5 L1756.5 1555.5 L1756.5 1567.5" fill="none" stroke="#000" stroke-width="3.3" stroke-linejoin="miter"/>
<text transform="translate(1650.92,1509.25) scale(1.0634,1)" font-size="17.6" fill="#000"><tspan x="0" y="0" font-style="italic">P</tspan><tspan x="11.74" y="0"> = 0.013</tspan></text>
<text transform="translate(1675.17,1550) scale(1.0626,1)" font-size="17.6" fill="#000"><tspan x="0" y="0" font-style="italic">P</tspan><tspan x="11.74" y="0"> = 0.0051</tspan></text>
<text transform="translate(1643.03,1476.8) scale(0.9679,1)" font-size="40.5" fill="#000"><tspan x="0" y="0">Ratio</tspan></text>
<text transform="translate(1524,1812.02) rotate(-90) scale(0.9480,1)" font-size="26" fill="#000"><tspan x="0" y="0">NOS2</tspan><tspan x="70.8" y="-10.4" font-size="20.28">+</tspan><tspan x="82.64" y="0">Arg1</tspan><tspan x="137.56" y="-10.4" font-size="20.28">-</tspan><tspan x="144.32" y="0">/NOS2</tspan><tspan x="222.34" y="-10.4" font-size="20.28">-</tspan><tspan x="229.1" y="0">Arg1</tspan><tspan x="284.02" y="-10.4" font-size="20.28">+</tspan></text>
<text transform="translate(1633.9,1869.2) rotate(-45) scale(1.0000,1)" font-size="31.7" text-anchor="end" fill="#000">GF</text>
<text transform="translate(1697.9,1869.2) rotate(-45) scale(1.0000,1)" font-size="31.7" text-anchor="end" fill="#000">WT</text>
<text transform="translate(1761.65,1869.2) rotate(-45) scale(0.9750,1)" font-size="31.7" text-anchor="end" fill="#000">SK930</text>
</g>
<g id="chart-i1">
<rect x="835.35" y="2234.45" width="50.3" height="175.55" fill="#d3d3d3" stroke="#000" stroke-width="2.9"/>
<rect x="901.35" y="2295.7" width="50.3" height="114.3" fill="#ffa0a0" stroke="#000" stroke-width="2.9"/>
<line x1="822.5" y1="2104.8" x2="822.5" y2="2411.45" stroke="#000" stroke-width="2.9"/>
<line x1="802.5" y1="2410" x2="966.25" y2="2410" stroke="#000" stroke-width="2.9"/>
<line x1="802.5" y1="2410" x2="822.5" y2="2410" stroke="#000" stroke-width="2.9"/>
<text transform="translate(768.62,2420.45) scale(0.9450,1)" font-size="26.7" fill="#000"><tspan x="0" y="0">10</tspan></text>
<line x1="802.5" y1="2334.5" x2="822.5" y2="2334.5" stroke="#000" stroke-width="2.9"/>
<text transform="translate(768.69,2344.95) scale(0.9450,1)" font-size="26.7" fill="#000"><tspan x="0" y="0">15</tspan></text>
<line x1="802.5" y1="2258.75" x2="822.5" y2="2258.75" stroke="#000" stroke-width="2.9"/>
<text transform="translate(768.62,2269.2) scale(0.9450,1)" font-size="26.7" fill="#000"><tspan x="0" y="0">20</tspan></text>
<line x1="802.5" y1="2182.5" x2="822.5" y2="2182.5" stroke="#000" stroke-width="2.9"/>
<text transform="translate(768.69,2192.95) scale(0.9450,1)" font-size="26.7" fill="#000"><tspan x="0" y="0">25</tspan></text>
<line x1="802.5" y1="2106.25" x2="822.5" y2="2106.25" stroke="#000" stroke-width="2.9"/>
<text transform="translate(768.62,2116.7) scale(0.9450,1)" font-size="26.7" fill="#000"><tspan x="0" y="0">30</tspan></text>
<line x1="860.5" y1="2410" x2="860.5" y2="2424.4" stroke="#000" stroke-width="2.9"/>
<line x1="926.5" y1="2410" x2="926.5" y2="2424.4" stroke="#000" stroke-width="2.9"/>
<line x1="860.5" y1="2215" x2="860.5" y2="2250" stroke="#000" stroke-width="2.6"/>
<line x1="847.2" y1="2215" x2="873.8" y2="2215" stroke="#000" stroke-width="2.6"/>
<line x1="847.2" y1="2250" x2="873.8" y2="2250" stroke="#000" stroke-width="2.6"/>
<line x1="926.5" y1="2276.25" x2="926.5" y2="2311.75" stroke="#000" stroke-width="2.6"/>
<line x1="913.2" y1="2276.25" x2="939.8" y2="2276.25" stroke="#000" stroke-width="2.6"/>
<line x1="913.2" y1="2311.75" x2="939.8" y2="2311.75" stroke="#000" stroke-width="2.6"/>
<circle cx="860.5" cy="2182.5" r="5.4" fill="#000"/>
<circle cx="860.5" cy="2236.25" r="5.4" fill="#000"/>
<circle cx="850.5" cy="2257.5" r="5.4" fill="#000"/>
<circle cx="871.25" cy="2257.5" r="5.4" fill="#000"/>
<circle cx="926.5" cy="2254.25" r="5.4" fill="#c06000"/>
<circle cx="926.5" cy="2278.75" r="5.4" fill="#c06000"/>
<circle cx="926.5" cy="2309.25" r="5.4" fill="#c06000"/>
<circle cx="926.5" cy="2334.5" r="5.4" fill="#c06000"/>
<path d="M860 2150.5 L860 2138 L921.75 2138 L921.75 2150.5" fill="none" stroke="#000" stroke-width="3.3" stroke-linejoin="miter"/>
<text transform="translate(850.68,2127.5) scale(1.0555,1)" font-size="17.6" fill="#000"><tspan x="0" y="0" font-style="italic">P</tspan><tspan x="11.74" y="0"> = 0.050</tspan></text>
<text transform="translate(745.21,2073.4) scale(0.8705,1)" font-size="40.5" fill="#000"><tspan x="0" y="0">CX3CR1</tspan></text>
<text x="884.65" y="2054.2" font-size="30.4" letter-spacing="2.58" fill="#000">low</text>
<text transform="translate(943.74,2073.4) scale(0.8898,1)" font-size="40.5" fill="#000"><tspan x="0" y="0">Ly6C</tspan></text>
<text transform="translate(1027.14,2054.59) scale(0.9063,1)" font-size="30.66" fill="#000">+</text>
<text transform="translate(732,2414.88) rotate(-90) scale(0.9531,1)" font-size="26" fill="#000"><tspan x="0" y="0">% in CD11c</tspan></text>
<text transform="translate(722.8,2281.4) rotate(-90) scale(0.7040,1)" font-size="25.6" fill="#000">-</text>
<text transform="translate(732,2269.37) rotate(-90) scale(0.9240,1)" font-size="26" fill="#000"><tspan x="0" y="0">CD11b</tspan></text>
<text transform="translate(722.4,2195.14) rotate(-90) scale(1.0070,1)" font-size="21.05" fill="#000">+</text>
<text transform="translate(732,2179.34) rotate(-90) scale(1.0026,1)" font-size="26" fill="#000"><tspan x="0" y="0">F4/80</tspan></text>
<text transform="translate(722.5,2112.63) rotate(-90) scale(0.9365,1)" font-size="20.44" fill="#000">+</text>
<text transform="translate(871.9,2454.2) rotate(-45) scale(1.0000,1)" font-size="31.7" text-anchor="end" fill="#000">Cont</text>
<text transform="translate(937.9,2454.2) rotate(-45) scale(1.0000,1)" font-size="31.7" text-anchor="end" fill="#000">PUT</text>
</g>
<g id="chart-i2">
<rect x="1192.6" y="2288.45" width="50.3" height="122.05" fill="#d3d3d3" stroke="#000" stroke-width="2.9"/>
<rect x="1258.6" y="2159.7" width="50.3" height="250.8" fill="#ffa0a0" stroke="#000" stroke-width="2.9"/>
<line x1="1180" y1="2104.3" x2="1180" y2="2411.95" stroke="#000" stroke-width="2.9"/>
<line x1="1160" y1="2410.5" x2="1323.25" y2="2410.5" stroke="#000" stroke-width="2.9"/>
<line x1="1160" y1="2410.5" x2="1180" y2="2410.5" stroke="#000" stroke-width="2.9"/>
<text transform="translate(1140.15,2420.95) scale(0.9450,1)" font-size="26.7" fill="#000"><tspan x="0" y="0">0</tspan></text>
<line x1="1160" y1="2349.55" x2="1180" y2="2349.55" stroke="#000" stroke-width="2.9"/>
<text transform="translate(1126.12,2360) scale(0.9450,1)" font-size="26.7" fill="#000"><tspan x="0" y="0">10</tspan></text>
<line x1="1160" y1="2288.6" x2="1180" y2="2288.6" stroke="#000" stroke-width="2.9"/>
<text transform="translate(1126.12,2299.05) scale(0.9450,1)" font-size="26.7" fill="#000"><tspan x="0" y="0">20</tspan></text>
<line x1="1160" y1="2227.65" x2="1180" y2="2227.65" stroke="#000" stroke-width="2.9"/>
<text transform="translate(1126.12,2238.1) scale(0.9450,1)" font-size="26.7" fill="#000"><tspan x="0" y="0">30</tspan></text>
<line x1="1160" y1="2166.7" x2="1180" y2="2166.7" stroke="#000" stroke-width="2.9"/>
<text transform="translate(1126.12,2177.15) scale(0.9450,1)" font-size="26.7" fill="#000"><tspan x="0" y="0">40</tspan></text>
<line x1="1160" y1="2105.75" x2="1180" y2="2105.75" stroke="#000" stroke-width="2.9"/>
<text transform="translate(1126.12,2116.2) scale(0.9450,1)" font-size="26.7" fill="#000"><tspan x="0" y="0">50</tspan></text>
<line x1="1217.75" y1="2410.5" x2="1217.75" y2="2424.9" stroke="#000" stroke-width="2.9"/>
<line x1="1283.75" y1="2410.5" x2="1283.75" y2="2424.9" stroke="#000" stroke-width="2.9"/>
<line x1="1217.75" y1="2283" x2="1217.75" y2="2290.75" stroke="#000" stroke-width="2.6"/>
<line x1="1204.45" y1="2283" x2="1231.05" y2="2283" stroke="#000" stroke-width="2.6"/>
<line x1="1204.45" y1="2290.75" x2="1231.05" y2="2290.75" stroke="#000" stroke-width="2.6"/>
<line x1="1283.75" y1="2148.25" x2="1283.75" y2="2168.25" stroke="#000" stroke-width="2.6"/>
<line x1="1270.45" y1="2148.25" x2="1297.05" y2="2148.25" stroke="#000" stroke-width="2.6"/>
<line x1="1270.45" y1="2168.25" x2="1297.05" y2="2168.25" stroke="#000" stroke-width="2.6"/>
<circle cx="1195.75" cy="2280" r="5.4" fill="#000"/>
<circle cx="1240" cy="2282.5" r="5.4" fill="#000"/>
<circle cx="1217.75" cy="2286.25" r="5.4" fill="#000"/>
<circle cx="1217.75" cy="2297.5" r="5.4" fill="#000"/>
<circle cx="1283.75" cy="2131.75" r="5.4" fill="#c06000"/>
<circle cx="1283.75" cy="2155" r="5.4" fill="#c06000"/>
<circle cx="1273" cy="2174.25" r="5.4" fill="#c06000"/>
<circle cx="1294.25" cy="2171.75" r="5.4" fill="#c06000"/>
<path d="M1222.5 2120 L1222.5 2106.75 L1284.25 2106.75 L1284.25 2120" fill="none" stroke="#000" stroke-width="3.3" stroke-linejoin="miter"/>
<text transform="translate(1201.92,2099.5) scale(1.0626,1)" font-size="17.6" fill="#000"><tspan x="0" y="0" font-style="italic">P</tspan><tspan x="11.74" y="0"> &lt; 0.0001</tspan></text>
<text transform="translate(1097.51,2073.4) scale(0.8705,1)" font-size="40.5" fill="#000"><tspan x="0" y="0">CX3CR1</tspan></text>
<text x="1236.69" y="2054.2" font-size="30.4" letter-spacing="1.84" fill="#000">high</text>
<text transform="translate(1308.44,2073.4) scale(0.8898,1)" font-size="40.5" fill="#000"><tspan x="0" y="0">Ly6C</tspan></text>
<text transform="translate(1392.39,2054.74) scale(0.8862,1)" font-size="33.28" fill="#000">-</text>
<text transform="translate(1092.8,2415.88) rotate(-90) scale(0.9531,1)" font-size="26" fill="#000"><tspan x="0" y="0">% in CD11c</tspan></text>
<text transform="translate(1083.6,2282.4) rotate(-90) scale(0.7040,1)" font-size="25.6" fill="#000">-</text>
<text transform="translate(1092.8,2270.37) rotate(-90) scale(0.9240,1)" font-size="26" fill="#000"><tspan x="0" y="0">CD11b</tspan></text>
<text transform="translate(1083.2,2196.14) rotate(-90) scale(1.0070,1)" font-size="21.05" fill="#000">+</text>
<text transform="translate(1092.8,2180.34) rotate(-90) scale(1.0026,1)" font-size="26" fill="#000"><tspan x="0" y="0">F4/80</tspan></text>
<text transform="translate(1083.3,2113.63) rotate(-90) scale(0.9365,1)" font-size="20.44" fill="#000">+</text>
<text transform="translate(1229.15,2454.7) rotate(-45) scale(1.0000,1)" font-size="31.7" text-anchor="end" fill="#000">Cont</text>
<text transform="translate(1295.15,2454.7) rotate(-45) scale(1.0000,1)" font-size="31.7" text-anchor="end" fill="#000">PUT</text>
</g>
<g id="chart-j">
<rect x="1538.45" y="2109.85" width="61.9" height="307.15" fill="#fff" stroke="#000" stroke-width="3.7"/>
<rect x="1536.6" y="2163.9" width="65.6" height="253.1" fill="#000" stroke="none" stroke-width="0"/>
<line x1="1530.8" y1="2108.25" x2="1530.8" y2="2418.85" stroke="#000" stroke-width="3.7"/>
<line x1="1522" y1="2417" x2="1607.2" y2="2417" stroke="#000" stroke-width="3.7"/>
<line x1="1522" y1="2417" x2="1530.8" y2="2417" stroke="#000" stroke-width="3.7"/>
<text transform="translate(1488.85,2423.3) scale(0.9450,1)" font-size="26.1" fill="#000"><tspan x="0" y="0">0</tspan></text>
<line x1="1522" y1="2355.62" x2="1530.8" y2="2355.62" stroke="#000" stroke-width="3.7"/>
<text transform="translate(1475.13,2361.92) scale(0.9450,1)" font-size="26.1" fill="#000"><tspan x="0" y="0">20</tspan></text>
<line x1="1522" y1="2294.24" x2="1530.8" y2="2294.24" stroke="#000" stroke-width="3.7"/>
<text transform="translate(1475.13,2300.54) scale(0.9450,1)" font-size="26.1" fill="#000"><tspan x="0" y="0">40</tspan></text>
<line x1="1522" y1="2232.86" x2="1530.8" y2="2232.86" stroke="#000" stroke-width="3.7"/>
<text transform="translate(1475.13,2239.16) scale(0.9450,1)" font-size="26.1" fill="#000"><tspan x="0" y="0">60</tspan></text>
<line x1="1522" y1="2171.48" x2="1530.8" y2="2171.48" stroke="#000" stroke-width="3.7"/>
<text transform="translate(1475.13,2177.78) scale(0.9450,1)" font-size="26.1" fill="#000"><tspan x="0" y="0">80</tspan></text>
<line x1="1522" y1="2110.1" x2="1530.8" y2="2110.1" stroke="#000" stroke-width="3.7"/>
<text transform="translate(1461.41,2116.4) scale(0.9450,1)" font-size="26.1" fill="#000"><tspan x="0" y="0">100</tspan></text>
<line x1="1569.7" y1="2150.7" x2="1569.7" y2="2164.9" stroke="#000" stroke-width="3.3"/>
<line x1="1561.6" y1="2150.7" x2="1577.8" y2="2150.7" stroke="#000" stroke-width="3.3"/>
<text transform="translate(1416.1,2387.9) rotate(-90) scale(0.8006,1)" font-size="19.6" fill="#000"><tspan x="0" y="0">15</tspan></text>
<text transform="translate(1425.9,2369.54) rotate(-90) scale(1.2000,1)" font-size="25.8" fill="#000"><tspan x="0" y="0">N</tspan></text>
<text transform="translate(1430.6,2348.24) rotate(-90) scale(1.0527,1)" font-size="19.6" fill="#000"><tspan x="0" y="0">2</tspan></text>
<text transform="translate(1425.9,2336.8) rotate(-90) scale(1.0468,1)" font-size="25.8" fill="#000"><tspan x="0" y="0">-putrescine</tspan></text>
<text transform="translate(1425.9,2199.39) rotate(-90) scale(0.9939,1)" font-size="25.8" fill="#000"><tspan x="0" y="0">(%)</tspan></text>
<text transform="translate(1461.1,2382.1) rotate(-90) scale(0.8693,1)" font-size="25.8" fill="#000"><tspan x="0" y="0">in</tspan></text>
<text transform="translate(1461.1,2356.54) rotate(-90) scale(1.1319,1)" font-size="25.8" fill="#000"><tspan x="0" y="0">total</tspan></text>
<text transform="translate(1461.1,2295.09) rotate(-90) scale(1.0755,1)" font-size="25.8" fill="#000"><tspan x="0" y="0">putrescine</tspan></text>
</g><g id="chart-k">
<rect x="1769.45" y="2111.85" width="58.9" height="305.55" fill="#fff" stroke="#000" stroke-width="3.7"/>
<rect x="1767.6" y="2230.1" width="62.6" height="187.3" fill="#000" stroke="none" stroke-width="0"/>
<line x1="1759.1" y1="2109.95" x2="1759.1" y2="2419.25" stroke="#000" stroke-width="3.7"/>
<line x1="1750" y1="2417.4" x2="1836" y2="2417.4" stroke="#000" stroke-width="3.7"/>
<line x1="1750" y1="2417.4" x2="1759.1" y2="2417.4" stroke="#000" stroke-width="3.7"/>
<text transform="translate(1716.85,2423.7) scale(0.9450,1)" font-size="26.1" fill="#000"><tspan x="0" y="0">0</tspan></text>
<line x1="1750" y1="2356.28" x2="1759.1" y2="2356.28" stroke="#000" stroke-width="3.7"/>
<text transform="translate(1703.13,2362.58) scale(0.9450,1)" font-size="26.1" fill="#000"><tspan x="0" y="0">20</tspan></text>
<line x1="1750" y1="2295.16" x2="1759.1" y2="2295.16" stroke="#000" stroke-width="3.7"/>
<text transform="translate(1703.13,2301.46) scale(0.9450,1)" font-size="26.1" fill="#000"><tspan x="0" y="0">40</tspan></text>
<line x1="1750" y1="2234.04" x2="1759.1" y2="2234.04" stroke="#000" stroke-width="3.7"/>
<text transform="translate(1703.13,2240.34) scale(0.9450,1)" font-size="26.1" fill="#000"><tspan x="0" y="0">60</tspan></text>
<line x1="1750" y1="2172.92" x2="1759.1" y2="2172.92" stroke="#000" stroke-width="3.7"/>
<text transform="translate(1703.13,2179.22) scale(0.9450,1)" font-size="26.1" fill="#000"><tspan x="0" y="0">80</tspan></text>
<line x1="1750" y1="2111.8" x2="1759.1" y2="2111.8" stroke="#000" stroke-width="3.7"/>
<text transform="translate(1689.41,2118.1) scale(0.9450,1)" font-size="26.1" fill="#000"><tspan x="0" y="0">100</tspan></text>
<line x1="1798.7" y1="2216.1" x2="1798.7" y2="2231.1" stroke="#000" stroke-width="3.3"/>
<line x1="1791.3" y1="2216.1" x2="1806.1" y2="2216.1" stroke="#000" stroke-width="3.3"/>
<text transform="translate(1644.3,2388.33) rotate(-90) scale(0.8263,1)" font-size="19.6" fill="#000"><tspan x="0" y="0">15</tspan></text>
<text transform="translate(1654.1,2369.19) rotate(-90) scale(1.2000,1)" font-size="25.8" fill="#000"><tspan x="0" y="0">N</tspan></text>
<text transform="translate(1658.8,2347.18) rotate(-90) scale(1.0975,1)" font-size="19.6" fill="#000"><tspan x="0" y="0">2</tspan></text>
<text transform="translate(1654.1,2335.15) rotate(-90) scale(1.0027,1)" font-size="25.8" fill="#000"><tspan x="0" y="0">-sperimidine</tspan></text>
<text transform="translate(1654.1,2190.68) rotate(-90) scale(0.9858,1)" font-size="25.8" fill="#000"><tspan x="0" y="0">(%)</tspan></text>
<text transform="translate(1689.3,2381.15) rotate(-90) scale(0.8993,1)" font-size="25.8" fill="#000"><tspan x="0" y="0">in</tspan></text>
<text transform="translate(1689.3,2354.05) rotate(-90) scale(1.1619,1)" font-size="25.8" fill="#000"><tspan x="0" y="0">total</tspan></text>
<text transform="translate(1689.3,2289.72) rotate(-90) scale(0.9990,1)" font-size="25.8" fill="#000"><tspan x="0" y="0">spermidine</tspan></text>
</g>
<text class="nb" transform="translate(8.97,21.8) scale(0.8156,1)" font-size="43" fill="#000"><tspan x="0" y="0" font-weight="bold">a</tspan></text>
<text class="nb" transform="translate(15.29,479.8) scale(0.9576,1)" font-size="43" fill="#000"><tspan x="0" y="0" font-weight="bold">b</tspan></text>
<text class="nb" transform="translate(783.7,480.05) scale(0.7747,1)" font-size="43" fill="#000"><tspan x="0" y="0" font-weight="bold">c</tspan></text>
<text class="nb" transform="translate(16.31,1004.8) scale(0.9576,1)" font-size="43" fill="#000"><tspan x="0" y="0" font-weight="bold">d</tspan></text>
<text class="nb" transform="translate(14.57,1462.55) scale(0.9993,1)" font-size="43" fill="#000"><tspan x="0" y="0" font-weight="bold">e</tspan></text>
<text class="nb" transform="translate(784.26,1462.55) scale(1.0060,1)" font-size="43" fill="#000"><tspan x="0" y="0" font-weight="bold">f</tspan></text>
<text class="nb" transform="translate(1552.57,1463.1) scale(1.0167,1)" font-size="44" fill="#000"><tspan x="0" y="0" font-weight="bold" font-family='"Liberation Serif", serif'>g</tspan></text>
<text class="nb" transform="translate(15.16,2070.05) scale(0.9467,1)" font-size="43" fill="#000"><tspan x="0" y="0" font-weight="bold">h</tspan></text>
<text class="nb" transform="translate(703.48,2070.05) scale(1.2000,1)" font-size="43" fill="#000"><tspan x="0" y="0" font-weight="bold">i</tspan></text>
<text class="nb" transform="translate(1436.95,2070.3) scale(1.2000,1)" font-size="43" fill="#000"><tspan x="0" y="0" font-weight="bold">j</tspan></text>
<text class="nb" transform="translate(1641.71,2070.3) scale(0.9640,1)" font-size="43" fill="#000"><tspan x="0" y="0" font-weight="bold">k</tspan></text>
</svg>
</body></html>
